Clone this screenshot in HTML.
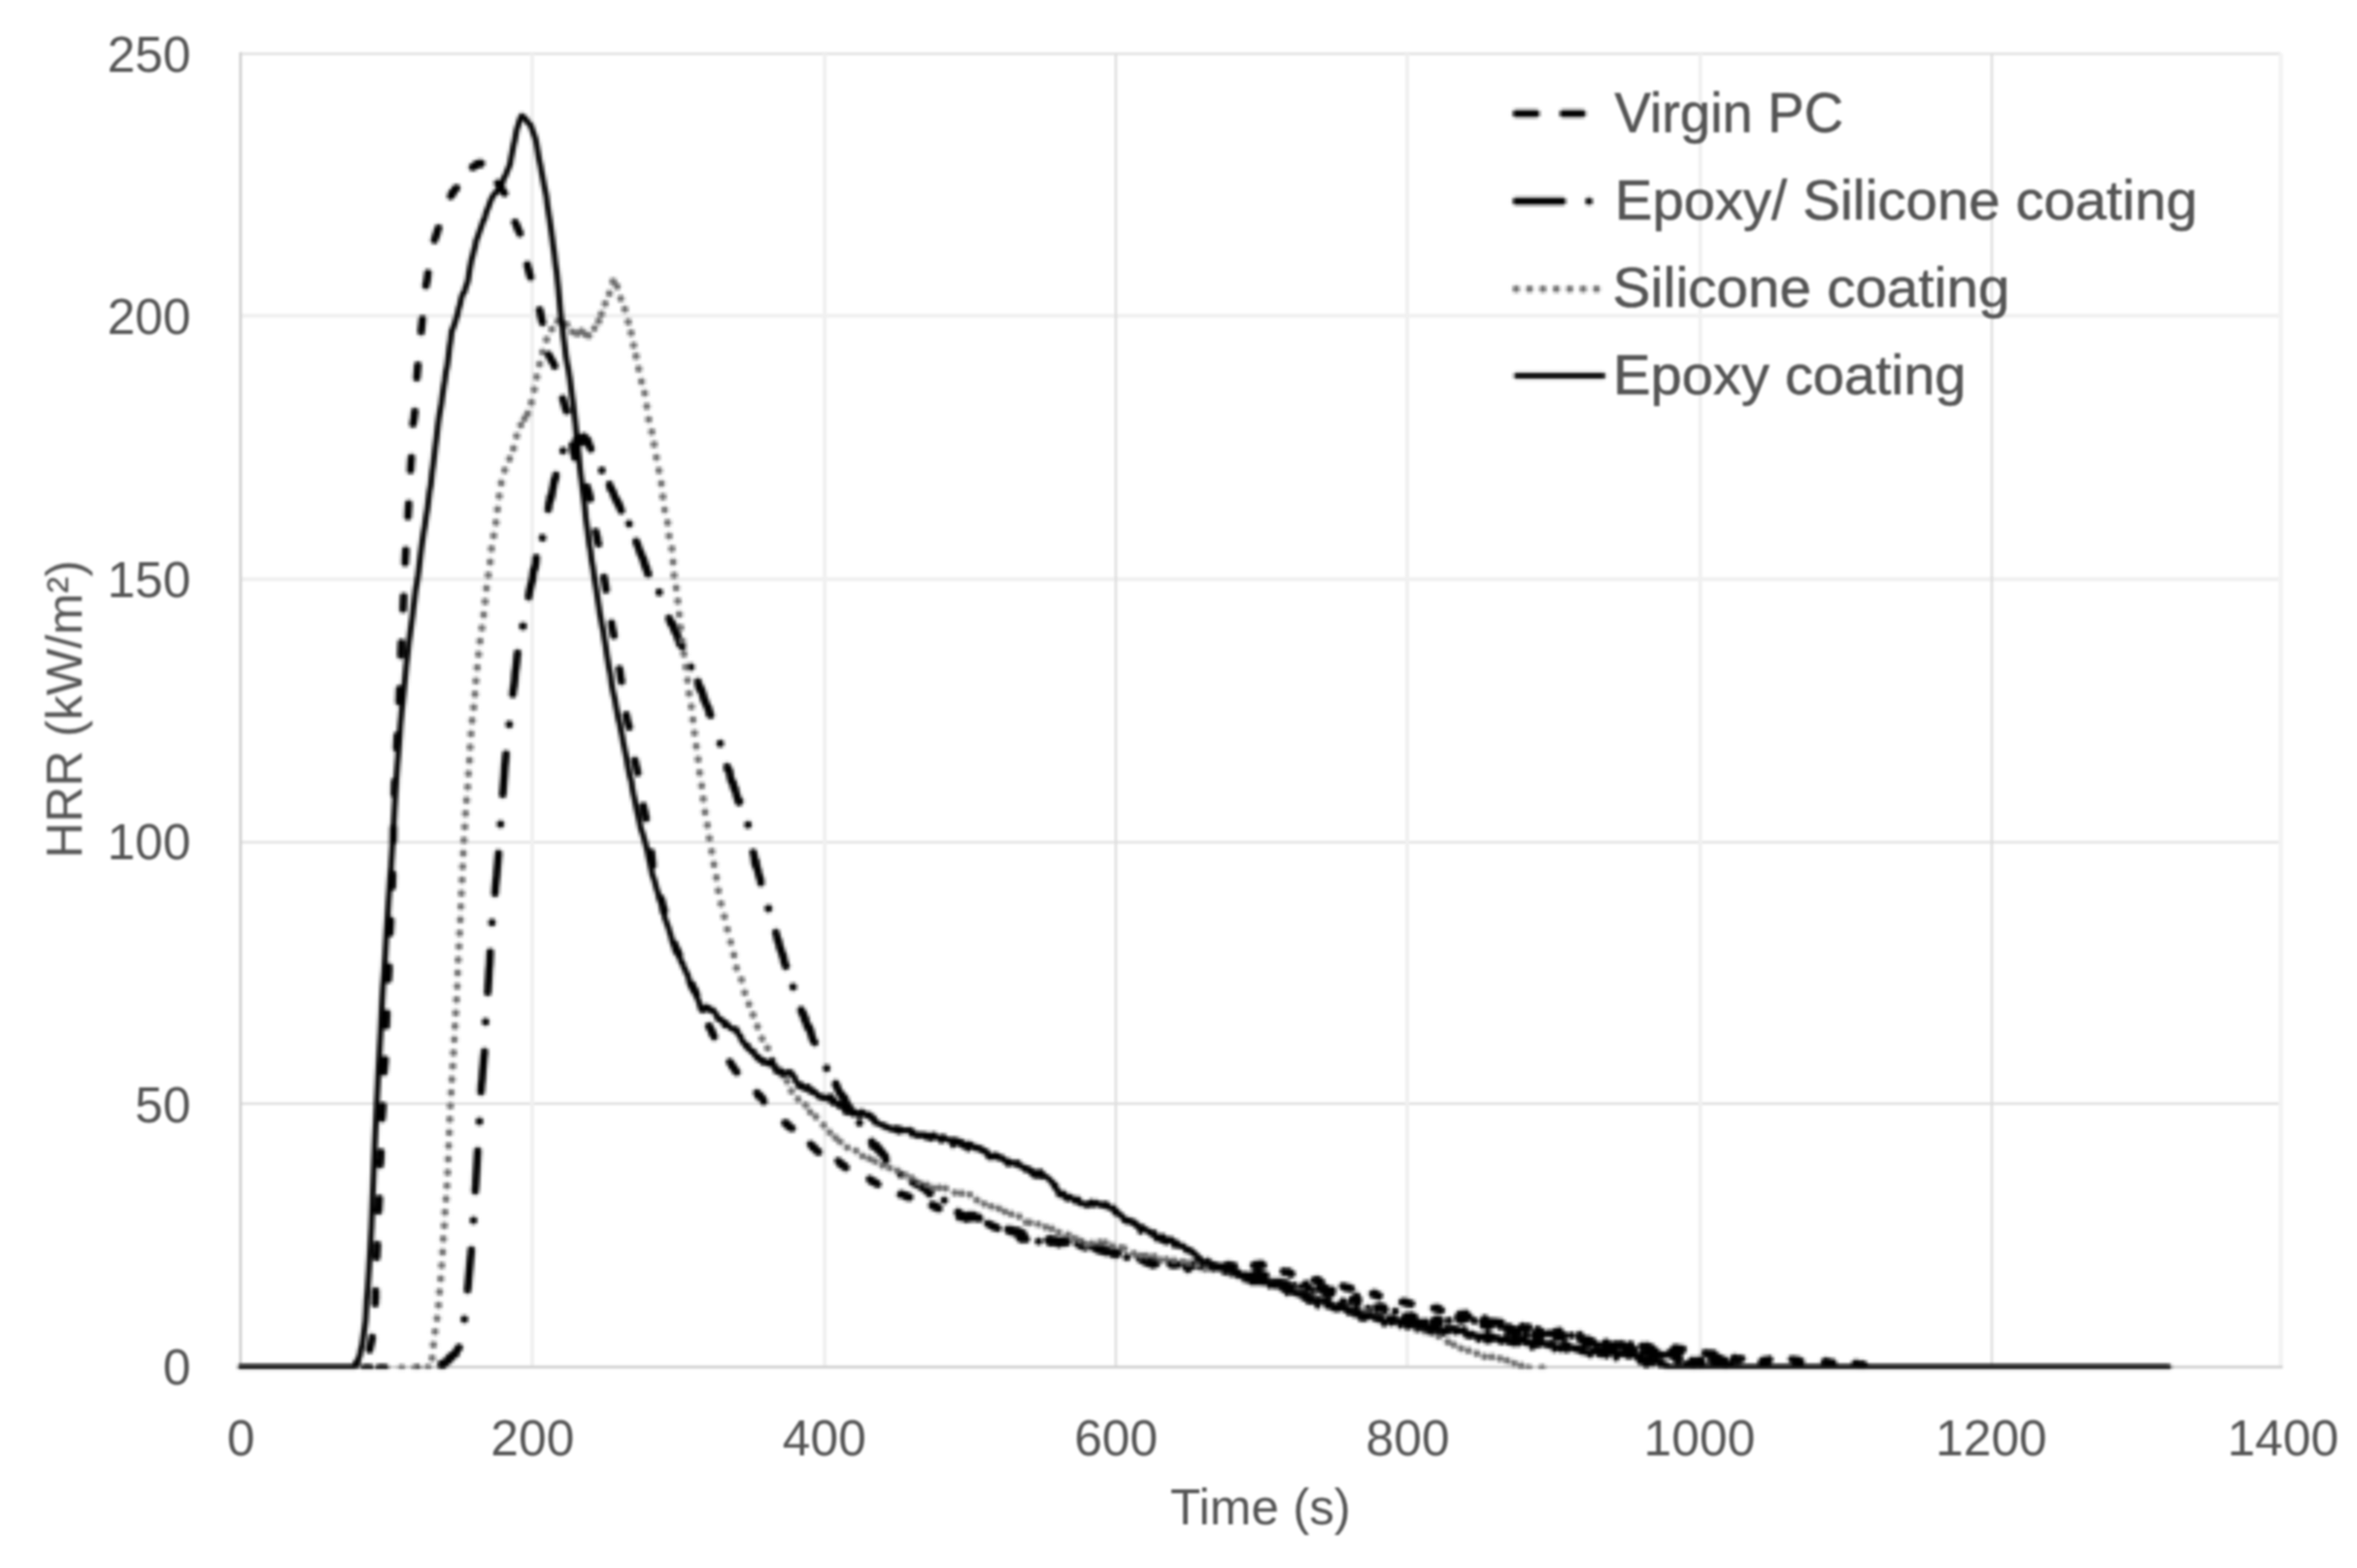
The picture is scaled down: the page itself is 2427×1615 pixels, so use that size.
<!DOCTYPE html>
<html lang="en">
<head>
<meta charset="utf-8">
<title>HRR vs Time</title>
<style>
html,body{margin:0;padding:0;background:#fff;}
body{width:2427px;height:1615px;overflow:hidden;}
svg{display:block;}
text{font-family:"Liberation Sans",sans-serif;fill:#555555;}
.tick{font-size:51.6px;}
.leg{font-size:58px;stroke:#555555;stroke-width:0.6px;}
.ttl{font-size:51.2px;}
.grid{stroke:#e9e9e9;stroke-width:3;fill:none;}
.axis{stroke:#d2d2d2;stroke-width:3;fill:none;}
.c{fill:none;stroke-linecap:round;stroke-linejoin:round;}
</style>
</head>
<body>
<svg width="2427" height="1615" viewBox="0 0 2427 1615">
<rect x="0" y="0" width="2427" height="1615" fill="#ffffff"/>
<g id="grid" filter="url(#blur)">
<g fill="none">
<line x1="247.7" y1="55.4" x2="2348.5" y2="55.4" stroke="#e6e6e6" stroke-width="3.2"/>
<line x1="247.7" y1="325.3" x2="2348.5" y2="325.3" stroke="#f0f0f0" stroke-width="4.0"/>
<line x1="247.7" y1="596.5" x2="2348.5" y2="596.5" stroke="#f0f0f0" stroke-width="4.0"/>
<line x1="247.7" y1="867.5" x2="2348.5" y2="867.5" stroke="#e6e6e6" stroke-width="3.2"/>
<line x1="247.7" y1="1136.7" x2="2348.5" y2="1136.7" stroke="#dedede" stroke-width="2.6"/>
<line x1="548.0" y1="55.2" x2="548.0" y2="1408.0" stroke="#f0f0f0" stroke-width="4.0"/>
<line x1="849.2" y1="55.2" x2="849.2" y2="1408.0" stroke="#f0f0f0" stroke-width="4.0"/>
<line x1="1149.0" y1="55.2" x2="1149.0" y2="1408.0" stroke="#dedede" stroke-width="2.6"/>
<line x1="1449.0" y1="55.2" x2="1449.0" y2="1408.0" stroke="#f0f0f0" stroke-width="4.0"/>
<line x1="1750.8" y1="55.2" x2="1750.8" y2="1408.0" stroke="#f0f0f0" stroke-width="4.0"/>
<line x1="2051.0" y1="55.2" x2="2051.0" y2="1408.0" stroke="#dedede" stroke-width="2.6"/>
<line x1="2348.5" y1="55.2" x2="2348.5" y2="1408.0" stroke="#f3f3f3" stroke-width="4.5"/>
</g>
<line class="axis" x1="247.7" y1="53.7" x2="247.7" y2="1409.5"/>
<line class="axis" x1="246.2" y1="1408.0" x2="2350.5" y2="1408.0"/>
</g>
<g id="txt" filter="url(#tblur)">
<g class="tick" text-anchor="end">
<text x="196.5" y="73.5">250</text>
<text x="196.5" y="344.1">200</text>
<text x="196.5" y="614.6">150</text>
<text x="196.5" y="885.2">100</text>
<text x="196.5" y="1155.7">50</text>
<text x="196.5" y="1426.3">0</text>
</g>
<g class="tick" text-anchor="middle">
<text x="248.0" y="1498.6">0</text>
<text x="548.4" y="1498.6">200</text>
<text x="848.8" y="1498.6">400</text>
<text x="1149.2" y="1498.6">600</text>
<text x="1449.6" y="1498.6">800</text>
<text x="1750.0" y="1498.6">1000</text>
<text x="2050.4" y="1498.6">1200</text>
<text x="2350.8" y="1498.6">1400</text>
</g>
<text class="ttl" text-anchor="middle" x="1298" y="1570.2">Time (s)</text>
<text class="ttl" text-anchor="middle" transform="translate(84.2 730.5) rotate(-90)">HRR (kW/m²)</text>
</g>
<g id="ink" filter="url(#soft)">
<g clip-path="url(#plot)">
<path class="c" stroke="#000" stroke-width="7.8" d="M375.5 1408.9H381M390.5 1408.9H396.5"/>
<path class="c" stroke="#000" stroke-width="7.8" stroke-dasharray="13.07 34.93" stroke-dashoffset="24.74" d="M371.6 1408.9L372.2 1408.9L372.8 1408.9L373.4 1408.9L374.0 1406.9L374.6 1407.3L375.2 1406.7L375.8 1404.6L376.4 1402.2L377.0 1402.1L377.6 1400.7L378.2 1399.6L378.8 1397.5L379.4 1394.6L380.0 1394.0L380.6 1389.6L381.2 1387.4L381.8 1384.9L382.4 1381.9L383.0 1379.7L383.6 1374.4L384.2 1370.0L384.8 1363.2L385.4 1355.7L386.0 1349.3L386.6 1336.2"/>
<path class="c" stroke="#000" stroke-width="7.8" stroke-dasharray="13.00 34.74" stroke-dashoffset="6.50" d="M386.6 1336.2L386.6 1336.0L387.2 1316.0L387.8 1295.5L388.4 1285.0L389.0 1270.4L389.6 1250.8L390.2 1240.9L390.8 1230.2L391.4 1201.5L392.0 1192.5L392.6 1178.9L393.2 1153.6L393.8 1145.5L394.4 1137.0L395.0 1108.3L395.6 1101.9L396.2 1096.2L396.8 1089.1L397.4 1066.5L398.0 1050.7L398.6 1037.0L399.2 1020.8L399.8 1008.8L400.4 999.3L401.0 978.5L401.6 959.5L402.2 949.8L402.8 938.5L403.4 926.3L404.0 911.1L404.6 889.3L405.2 850.5L405.8 826.7L406.4 807.1L407.0 795.9L407.6 785.2L408.2 773.3L408.8 762.4L409.4 751.5L410.0 740.2L410.6 728.5L411.2 716.5L411.8 700.0L412.4 685.1L413.0 668.3L413.6 655.9L414.2 644.7L414.8 633.2L415.4 620.9L416.0 608.1L416.6 593.1L417.2 579.0L417.8 567.7L418.4 557.8L419.0 548.8L419.6 539.3L420.2 529.7L420.8 519.2L421.4 508.5L422.0 495.7L422.6 485.7L423.2 476.5L423.8 469.2L424.4 454.5L425.0 439.6L425.6 434.2L426.2 432.4L426.8 426.6L427.4 422.4L428.0 418.8L428.6 398.8L429.2 388.8L429.8 381.8L430.4 374.3L431.0 369.1L431.6 361.8L432.2 356.1L432.8 350.0L433.4 344.3L434.0 337.8L434.6 332.1L435.2 326.4L435.8 319.5L436.4 313.8L437.0 307.4L437.6 301.0L438.2 296.4L438.8 292.7L439.4 290.5L440.0 287.0L440.6 281.6L441.2 279.4L441.8 275.4L442.4 272.9L443.0 269.4L443.6 266.5L444.2 262.8L444.8 259.7L445.4 255.8L446.0 251.2L446.6 249.4L447.2 247.7L447.8 245.9L448.4 243.7L449.0 243.3L449.4 241.3"/>
<path class="c" stroke="#000" stroke-width="7.8" stroke-dasharray="13.67 36.53" stroke-dashoffset="6.83" d="M449.4 241.3L449.6 240.4L450.2 239.3L450.8 236.4L451.4 235.6L452.0 232.1L452.6 231.2L453.2 228.3L453.8 227.6L454.4 226.6L455.0 223.0L455.6 221.7L456.2 220.6L456.8 218.7L457.4 216.2L458.0 216.0L458.6 213.6L459.2 212.6L459.8 210.3L460.4 207.8L461.0 206.4L461.6 206.0L462.2 203.4L462.8 203.1L463.4 202.9L464.0 202.2L464.6 201.3L465.2 199.1L465.8 200.3L466.4 198.1L466.5 198.0"/>
<path class="c" stroke="#000" stroke-width="7.8" stroke-dasharray="12.17 32.53" stroke-dashoffset="6.08" d="M466.5 198.0L467.0 197.4L467.6 196.6L468.2 195.6L468.8 194.3L469.4 193.9L470.0 194.0L470.6 191.6L471.2 190.2L471.8 191.1L472.4 190.2L473.0 189.5L473.6 189.3L474.2 187.0L474.8 186.7L475.4 186.1L476.0 185.6L476.6 184.7L477.2 182.8L477.8 181.6L478.4 181.4L479.0 179.8L479.6 180.5L480.2 178.7L480.8 177.9L481.4 176.7L482.0 177.3L482.6 175.7L483.2 174.4L483.8 174.3L484.4 173.5L485.0 173.5L485.6 173.5L486.2 172.2L486.8 172.3L487.4 171.9L488.0 171.9L488.6 171.2L489.2 170.5L489.8 169.8L490.4 170.0L490.9 169.0"/>
<path class="c" stroke="#000" stroke-width="7.8" stroke-dasharray="13.74 36.74" stroke-dashoffset="6.87" d="M490.9 169.0L491.0 168.8L491.6 169.5L492.2 168.9L492.8 169.1L493.4 168.4L494.0 168.1L494.6 167.9L495.2 169.0L495.8 168.0L496.4 167.9L497.0 166.9L497.6 167.8L498.2 165.7L498.8 168.9L499.4 168.6L500.0 169.4L500.6 169.3L501.2 170.1L501.8 171.7L502.4 171.9L503.0 172.9L503.6 174.0L504.2 174.3L504.8 173.9L505.4 175.6L506.0 176.7L506.6 178.0L507.2 178.5L507.8 179.7L508.4 181.6L509.0 182.9L509.6 184.7L510.2 185.3L510.8 187.2L511.4 186.2L512.0 187.3L512.6 189.2L513.2 189.7L513.8 190.2L514.4 192.1L515.0 193.1L515.6 194.1L516.0 194.0"/>
<path class="c" stroke="#000" stroke-width="7.8" stroke-dasharray="12.72 34.00" stroke-dashoffset="6.36" d="M516.0 194.0L516.2 194.0L516.8 195.1L517.4 196.1L518.0 196.9L518.6 198.3L519.2 198.3L519.8 199.6L520.4 199.0L521.0 201.6L521.6 202.9L522.2 203.2L522.8 205.7L523.4 206.1L524.0 208.9L524.6 210.1L525.2 213.2L525.8 215.3L526.4 216.1L527.0 218.4L527.6 220.5L528.2 224.2L528.8 224.8L529.4 226.7L530.0 228.3L530.6 229.6L531.2 230.7L531.8 231.5L532.4 233.3L532.8 234.9"/>
<path class="c" stroke="#000" stroke-width="7.8" stroke-dasharray="12.45 33.29" stroke-dashoffset="6.23" d="M532.8 234.9L533.0 236.0L533.6 236.6L534.2 237.6L534.8 238.5L535.4 240.6L536.0 242.0L536.6 243.8L537.2 247.4L537.8 249.3L538.4 252.2L539.0 255.6L539.6 257.9L540.2 261.2L540.8 263.1L541.4 265.8L542.0 269.0L542.6 271.3L543.2 274.2L543.8 276.2L544.4 278.3L544.5 278.8"/>
<path class="c" stroke="#000" stroke-width="7.8" stroke-dasharray="13.36 35.72" stroke-dashoffset="6.68" d="M544.5 278.8L545.0 281.0L545.6 283.5L546.2 284.9L546.8 287.8L547.4 289.9L548.0 292.8L548.6 293.9L549.2 296.9L549.8 297.6L550.4 300.3L551.0 303.1L551.6 304.4L552.2 307.2L552.8 307.5L553.4 310.7L554.0 312.9L554.6 315.1L555.2 316.8L555.8 320.6L556.4 321.4L557.0 325.9L557.6 328.1L558.2 331.0L558.8 332.9L559.4 336.1L560.0 343.6L560.6 350.8L561.2 358.5L561.8 359.4L562.4 360.9L563.0 362.1L563.6 363.7L564.2 362.9L564.8 364.9L565.4 366.7L566.0 367.8L566.6 368.2L567.2 369.5L567.8 370.8L568.4 372.0L569.0 372.8L569.6 373.8L570.2 374.7L570.8 376.2L571.4 378.4L572.0 378.2L572.6 380.9L573.2 384.4L573.8 386.3L574.4 390.4L575.0 391.8L575.6 395.7L576.2 397.6L576.8 399.8L577.4 403.5L578.0 407.3L578.6 407.7L579.2 410.3L579.8 411.3L580.4 413.3L581.0 416.0L581.6 417.6L582.2 420.0L582.8 422.3L583.4 422.8L584.0 425.0L584.6 428.5L585.2 433.7L585.8 436.0L586.4 439.7L587.0 444.1L587.6 448.9L588.2 451.2L588.8 455.1L589.4 458.5L590.0 462.2L590.4 465.0"/>
<path class="c" stroke="#000" stroke-width="7.8" stroke-dasharray="12.84 34.31" stroke-dashoffset="6.42" d="M590.4 465.0L590.6 466.2L591.2 467.4L591.8 470.4L592.4 474.7L593.0 476.6L593.6 476.3L594.2 478.6L594.8 480.8L595.4 481.2L596.0 483.1L596.6 484.2L597.2 485.8L597.8 486.9L598.4 488.1L599.0 489.9L599.6 490.2L600.2 491.8L600.8 493.7L601.4 494.0L602.0 495.3L602.6 496.4L603.2 497.6L603.8 500.5L604.4 500.9L605.0 503.1L605.6 504.8L606.2 506.8L606.8 509.0L607.4 511.7L608.0 514.0L608.6 516.9L609.2 519.7L609.8 524.5L610.4 528.9L611.0 532.7L611.6 536.9L612.2 541.5L612.8 545.0L613.4 547.5L614.0 550.4L614.6 552.9L614.8 553.9"/>
<path class="c" stroke="#000" stroke-width="7.8" stroke-dasharray="13.04 34.85" stroke-dashoffset="6.52" d="M614.8 553.9L615.2 556.4L615.8 558.8L616.4 560.8L617.0 564.4L617.6 568.6L618.2 572.1L618.8 575.2L619.4 579.8L620.0 583.4L620.6 587.1L621.2 591.4L621.8 593.7L622.4 597.7L623.0 600.6L623.6 604.7L624.2 608.2L624.8 611.2L625.4 615.3L626.0 618.6L626.6 623.6L627.2 626.7L627.8 632.9L628.4 636.5L629.0 638.6L629.6 641.0L630.2 646.3L630.8 648.0L631.4 651.8L632.0 653.8L632.6 657.5L633.2 660.4L633.8 664.9L634.4 668.1L635.0 672.9L635.6 675.3L636.2 680.2L636.8 683.2L637.4 687.2L638.0 689.7L638.6 693.2L639.2 698.5L639.8 700.8L640.4 704.9L641.0 709.6L641.6 714.1L642.2 719.6L642.8 723.5L643.4 728.5L644.0 733.6L644.6 735.1L645.2 738.6L645.8 741.1L646.4 744.1L647.0 746.0L647.6 747.3L648.2 750.5L648.8 753.3L649.4 758.0L650.0 761.1L650.6 764.4L651.2 768.6L651.8 771.9L652.4 776.1L653.0 779.6L653.6 782.8L654.2 785.0L654.8 788.0L655.4 790.1L656.0 793.2L656.6 795.4L657.2 798.5L657.8 801.7L658.4 805.7L659.0 809.8L659.6 814.0L660.2 818.7L660.8 821.3L661.4 827.1L662.0 827.6L662.6 831.4L663.2 833.8L663.7 836.4"/>
<path class="c" stroke="#000" stroke-width="7.8" stroke-dasharray="13.31 35.59" stroke-dashoffset="6.66" d="M663.7 836.4L663.8 837.0L664.4 839.3L665.0 841.6L665.6 844.3L666.2 847.3L666.8 852.0L667.4 854.9L668.0 857.5L668.6 862.4L669.2 866.9L669.8 872.6L670.4 875.1L671.0 880.8L671.6 886.7L672.2 892.0L672.8 896.4L673.4 900.9L674.0 901.7L674.6 904.5L675.2 907.6L675.8 908.2L676.4 910.9L677.0 914.2L677.6 915.2L678.2 916.9L678.8 919.3L679.4 922.3L680.0 923.0L680.6 925.6L681.2 927.1L681.8 929.3L682.4 932.7L683.0 933.9L683.6 935.7L684.2 938.2L684.8 939.6L685.4 941.3L686.0 944.7L686.6 946.5L687.2 947.5L687.8 950.4L688.4 952.9L689.0 954.3L689.6 956.3L690.2 957.3L690.8 960.0L691.4 961.0L692.0 964.7L692.6 966.0L693.2 968.8L693.8 969.6L694.4 972.6L695.0 973.2L695.6 975.2L696.2 977.0L696.8 978.1L697.4 979.1L698.0 979.4L698.6 982.4L699.2 983.2L699.8 984.8L700.4 986.0L701.0 986.4L701.6 988.0L702.2 990.6L702.8 989.8L703.4 991.7L704.0 992.7L704.6 995.6L705.2 996.3L705.8 997.2L706.4 999.0L707.0 1000.2L707.6 1001.3L708.2 1002.6L708.8 1005.4L709.4 1006.7L710.0 1009.1L710.6 1010.1L711.2 1012.2L711.8 1014.4L712.4 1013.8L713.0 1015.0L713.6 1017.5L714.2 1019.5L714.8 1018.8L715.4 1019.5L716.0 1021.5L716.6 1022.7L717.2 1024.5L717.8 1024.7L718.4 1026.3L719.0 1027.9L719.6 1028.9L720.2 1030.6L720.8 1033.5L721.4 1035.3L722.0 1036.3L722.6 1039.4L723.2 1040.7L723.8 1042.2L724.4 1044.0L725.0 1045.6L725.6 1047.6L726.2 1049.4L726.8 1050.6L727.4 1051.1L728.0 1053.3L728.6 1054.0L729.2 1054.9L729.8 1057.1L730.4 1056.8L731.0 1059.4L731.6 1059.7L732.2 1060.4L732.8 1061.8L732.8 1062.0"/>
<path class="c" stroke="#000" stroke-width="7.8" stroke-dasharray="13.45 35.94" stroke-dashoffset="6.72" d="M732.8 1062.0L733.4 1064.8L734.0 1065.4L734.6 1065.5L735.2 1067.4L735.8 1069.0L736.4 1068.5L737.0 1070.0L737.6 1071.8L738.2 1072.4L738.8 1073.0L739.4 1075.1L740.0 1075.5L740.6 1076.6L741.2 1078.5L741.8 1078.4L742.4 1080.7L743.0 1080.3L743.6 1081.0L744.2 1082.2L744.8 1083.6L745.4 1084.4L746.0 1085.3L746.6 1085.2L747.2 1086.4L747.8 1087.9L748.4 1089.4L749.0 1090.9L749.6 1089.6L750.2 1091.9L750.8 1092.6L751.4 1093.8L752.0 1094.9L752.6 1095.2L753.2 1095.8L753.8 1098.1L754.4 1098.9L755.0 1099.1L755.0 1099.1"/>
<path class="c" stroke="#000" stroke-width="7.8" stroke-dasharray="13.64 36.46" stroke-dashoffset="6.82" d="M755.0 1099.1L755.6 1100.2L756.2 1100.8L756.8 1101.3L757.4 1103.4L758.0 1103.5L758.6 1104.1L759.2 1105.3L759.8 1107.6L760.4 1107.7L761.0 1108.2L761.6 1108.7L762.2 1109.7L762.8 1110.2L763.4 1109.6L764.0 1110.8L764.6 1111.2L765.2 1112.3L765.8 1112.7L766.4 1112.1L767.0 1114.5L767.6 1114.6L768.2 1114.0L768.8 1116.2L769.4 1116.2L770.0 1117.0L770.6 1117.3L771.2 1117.9L771.8 1118.0L772.4 1117.9L773.0 1119.1L773.6 1120.1L774.2 1120.6L774.8 1121.5L775.4 1121.7L776.0 1121.0L776.6 1123.3L777.2 1123.0L777.8 1123.3L778.4 1124.6L779.0 1124.7L779.6 1126.4L780.2 1126.3L780.8 1128.7L781.4 1128.1L782.0 1128.6L782.6 1129.2L783.0 1129.1"/>
<path class="c" stroke="#000" stroke-width="7.8" stroke-dasharray="14.82 39.60" stroke-dashoffset="7.41" d="M783.0 1129.1L783.2 1129.0L783.8 1130.5L784.4 1131.2L785.0 1132.2L785.6 1131.8L786.2 1133.8L786.8 1135.2L787.4 1134.9L788.0 1135.8L788.6 1136.8L789.2 1136.7L789.8 1137.6L790.4 1139.1L791.0 1139.3L791.6 1139.1L792.2 1139.5L792.8 1142.6L793.4 1142.1L794.0 1141.6L794.6 1143.3L795.2 1144.3L795.8 1144.6L796.4 1144.1L797.0 1146.9L797.6 1146.8L798.2 1147.0L798.8 1148.2L799.4 1148.3L800.0 1148.9L800.6 1150.2L801.2 1149.1L801.8 1151.5L802.4 1151.8L803.0 1152.6L803.6 1153.3L804.2 1154.2L804.8 1154.6L805.4 1154.8L806.0 1154.5L806.6 1155.6L807.2 1155.4L807.8 1155.6L808.4 1156.9L809.0 1157.3L809.6 1158.3L810.2 1156.8L810.8 1158.9L811.4 1159.4L812.0 1159.6L812.0 1159.6"/>
<path class="c" stroke="#000" stroke-width="7.8" stroke-dasharray="12.15 32.47" stroke-dashoffset="6.07" d="M812.0 1159.6L812.6 1160.9L813.2 1160.0L813.8 1161.2L814.4 1161.3L815.0 1162.0L815.6 1162.0L816.2 1163.0L816.8 1164.0L817.4 1164.1L818.0 1164.8L818.6 1164.6L819.2 1166.5L819.8 1165.7L820.4 1166.6L821.0 1167.4L821.6 1167.5L822.2 1168.5L822.8 1168.7L823.4 1170.1L824.0 1169.9L824.6 1170.4L825.2 1170.2L825.8 1171.4L826.4 1172.3L827.0 1172.5L827.6 1172.2L828.2 1173.0L828.8 1173.7L829.4 1174.3L830.0 1174.0L830.6 1176.5L831.2 1175.8L831.8 1176.5L832.4 1176.7L833.0 1177.4L833.6 1179.1L834.2 1177.9L834.8 1178.8L835.4 1179.1L836.0 1180.0L836.6 1181.8L837.2 1181.1L837.8 1181.8L838.0 1181.7"/>
<path class="c" stroke="#000" stroke-width="7.8" stroke-dasharray="15.18 40.58" stroke-dashoffset="7.59" d="M838.0 1181.7L838.4 1181.6L839.0 1183.0L839.6 1183.9L840.2 1184.1L840.8 1184.7L841.4 1186.0L842.0 1186.4L842.6 1186.6L843.2 1186.5L843.8 1186.3L844.4 1188.4L845.0 1186.8L845.6 1188.3L846.2 1188.0L846.8 1188.0L847.4 1189.2L848.0 1188.5L848.6 1189.9L849.2 1188.8L849.8 1190.0L850.4 1190.7L851.0 1189.6L851.6 1191.7L852.2 1191.2L852.8 1189.7L853.4 1192.0L854.0 1192.6L854.6 1191.6L855.2 1191.9L855.8 1192.5L856.4 1191.5L857.0 1192.9L857.6 1193.7L858.2 1193.1L858.8 1194.3L859.4 1195.2L860.0 1193.1L860.6 1193.5L861.2 1194.4L861.8 1195.7L862.4 1196.0L863.0 1195.7L863.6 1196.1L864.2 1196.8L864.8 1198.6L865.4 1197.5L866.0 1198.2L866.6 1199.6L867.0 1199.4"/>
<path class="c" stroke="#000" stroke-width="7.8" stroke-dasharray="13.44 35.93" stroke-dashoffset="6.72" d="M867.0 1199.4L867.2 1199.3L867.8 1199.3L868.4 1201.2L869.0 1201.0L869.6 1200.8L870.2 1201.5L870.8 1202.7L871.4 1202.4L872.0 1203.2L872.6 1203.9L873.2 1204.2L873.8 1202.8L874.4 1203.9L875.0 1204.2L875.6 1204.8L876.2 1205.5L876.8 1206.0L877.4 1205.3L878.0 1205.3L878.6 1206.3L879.2 1206.2L879.8 1207.9L880.4 1207.4L881.0 1207.6L881.6 1208.4L882.2 1207.8L882.8 1208.3L883.4 1208.8L884.0 1209.6L884.6 1210.3L885.2 1210.3L885.8 1210.6L886.4 1210.4L887.0 1211.0L887.6 1211.0L888.2 1212.1L888.8 1211.4L889.4 1212.0L890.0 1212.5L890.6 1213.1L891.2 1212.5L891.8 1213.1L892.4 1213.0L893.0 1213.0L893.6 1214.7L894.2 1214.6L894.8 1213.8L895.4 1214.4L896.0 1215.6L896.6 1215.2L897.2 1215.3L897.8 1216.9L898.4 1216.2L899.0 1216.6L899.4 1217.2"/>
<path class="c" stroke="#000" stroke-width="7.8" stroke-dasharray="13.37 35.74" stroke-dashoffset="6.69" d="M899.4 1217.2L899.6 1217.5L900.2 1217.1L900.8 1217.8L901.4 1218.3L902.0 1218.9L902.6 1218.4L903.2 1219.8L903.8 1219.7L904.4 1220.9L905.0 1220.3L905.6 1220.1L906.2 1220.4L906.8 1220.2L907.4 1221.1L908.0 1221.3L908.6 1222.1L909.2 1221.9L909.8 1221.6L910.4 1222.9L911.0 1222.3L911.6 1222.9L912.2 1223.8L912.8 1224.0L913.4 1223.0L914.0 1223.6L914.6 1224.7L915.2 1224.7L915.8 1224.7L916.4 1225.1L917.0 1223.6L917.6 1225.0L918.2 1224.6L918.8 1225.3L919.4 1225.7L920.0 1226.5L920.6 1227.1L921.2 1227.2L921.8 1227.2L922.4 1227.1L923.0 1228.3L923.6 1228.0L924.2 1227.1L924.8 1228.4L925.4 1229.0L926.0 1228.5L926.6 1229.5L927.2 1230.5L927.8 1229.7L928.4 1230.1L929.0 1230.4L929.6 1230.1L930.2 1230.6L930.8 1230.6L931.4 1231.2L932.0 1231.1L932.6 1232.4L933.2 1232.0L933.8 1232.7L934.4 1231.7L935.0 1232.6L935.6 1233.1L936.2 1233.4L936.8 1232.8L937.4 1233.3L938.0 1233.6L938.6 1233.5L939.2 1233.6L939.8 1234.3L940.4 1233.5L941.0 1233.3L941.6 1234.2L942.2 1234.8L942.8 1233.5L943.4 1235.8L944.0 1235.3L944.6 1235.8L945.2 1235.1L945.8 1235.8L946.4 1237.1L947.0 1237.4L947.6 1236.9L948.2 1236.6L948.8 1237.0L949.4 1238.1L950.0 1237.1L950.6 1237.3L951.2 1238.0L951.8 1238.9L952.4 1238.0L953.0 1239.1L953.6 1239.4L954.2 1239.6L954.8 1239.7L955.4 1240.6L956.0 1240.7L956.6 1239.8L957.2 1241.8L957.8 1241.4L958.4 1241.6L959.0 1241.5L959.6 1241.8L960.2 1240.7L960.8 1242.2L961.4 1242.9L962.0 1243.2L962.6 1242.6L963.2 1241.8L963.8 1242.7L964.4 1243.4L965.0 1244.5L965.6 1243.0L966.2 1244.2L966.8 1244.8L967.4 1245.0L968.0 1244.8L968.6 1243.5L969.2 1245.7L969.8 1245.6L970.4 1246.1L971.0 1245.5L971.6 1246.0L972.2 1247.5L972.8 1246.8L973.4 1247.1L974.0 1247.0L974.6 1248.4L975.2 1246.9L975.8 1247.8L976.4 1248.7L977.0 1248.6L977.6 1249.4L978.2 1249.4L978.8 1250.2L979.4 1249.5L980.0 1249.8L980.6 1250.2L981.2 1249.2L981.8 1251.3L982.4 1250.2L983.0 1251.6L983.6 1252.0L984.2 1251.9L984.8 1251.7L985.4 1251.4L986.0 1250.7L986.6 1252.5L987.2 1252.2L987.8 1253.6L988.4 1252.6L989.0 1253.3L989.6 1252.9L990.2 1253.6L990.8 1253.3L991.4 1253.6L992.0 1252.8L992.6 1253.6L993.2 1254.1L993.8 1255.1L994.4 1254.7L995.0 1254.0L995.6 1255.8L996.2 1255.2L996.8 1255.8L997.4 1254.7L998.0 1253.5L998.6 1255.1L999.2 1255.1L999.8 1256.0L1000.4 1255.1L1001.0 1255.6L1001.6 1255.5L1002.2 1256.5L1002.8 1256.1L1003.4 1257.6L1004.0 1257.4L1004.6 1257.7L1005.2 1257.2L1005.8 1257.7L1006.4 1258.3L1007.0 1257.5L1007.6 1258.9L1008.2 1258.3L1008.8 1259.3L1009.4 1260.1L1010.0 1259.9L1010.6 1258.6L1011.2 1260.1L1011.8 1259.4L1012.4 1259.5L1013.0 1259.8L1013.6 1259.4L1014.2 1260.4L1014.8 1259.9L1015.4 1261.2L1016.0 1260.9L1016.6 1259.4L1017.2 1260.6L1017.8 1260.7L1018.4 1261.1L1019.0 1261.3L1019.6 1262.0L1020.2 1262.0L1020.8 1261.6L1021.4 1262.7L1022.0 1263.2L1022.6 1262.8L1023.2 1263.7L1023.8 1263.5L1024.4 1263.1L1025.0 1263.5L1025.6 1263.9L1026.2 1264.5L1026.8 1264.5L1027.4 1265.3L1028.0 1265.6L1028.6 1264.7L1029.2 1264.8L1029.8 1265.8L1030.4 1266.4L1031.0 1266.9L1031.6 1267.1L1032.2 1267.4L1032.8 1266.8L1033.4 1267.8L1034.0 1267.5L1034.6 1268.5L1035.2 1269.0L1035.8 1268.4L1036.4 1268.9L1037.0 1270.8L1037.6 1269.2L1038.2 1269.6L1038.8 1269.5L1039.4 1269.6L1040.0 1271.3L1040.6 1270.6L1041.2 1270.8L1041.8 1271.0L1042.4 1270.1L1043.0 1272.4L1043.6 1271.9L1044.2 1272.4L1044.8 1273.5L1045.4 1272.9L1046.0 1273.3L1046.6 1273.6L1047.2 1274.5L1047.8 1273.2L1048.4 1273.9L1049.0 1273.3L1049.6 1274.8L1050.2 1275.4L1050.8 1274.8L1051.4 1276.3L1052.0 1275.8L1052.6 1276.4L1053.2 1275.4L1053.8 1276.4L1054.4 1275.1L1055.0 1275.7L1055.6 1275.6L1056.2 1275.3L1056.8 1276.6L1057.4 1276.4L1058.0 1275.3L1058.6 1276.1L1059.2 1275.8L1059.8 1275.8L1060.4 1276.1L1061.0 1275.4L1061.6 1275.8L1062.2 1275.9L1062.8 1275.3L1063.4 1275.4L1064.0 1276.2L1064.6 1275.7L1065.2 1277.0L1065.8 1276.9L1066.4 1275.2L1067.0 1275.8L1067.6 1274.4L1068.2 1275.2L1068.8 1275.0L1069.4 1275.1L1070.0 1274.3L1070.6 1275.8L1071.2 1275.7L1071.8 1275.2L1072.4 1275.7L1073.0 1276.4L1073.6 1276.8L1074.2 1275.2L1074.8 1277.0L1075.4 1275.1L1076.0 1275.7L1076.6 1276.1L1077.2 1277.3L1077.8 1276.9L1078.4 1277.0L1079.0 1277.6L1079.6 1276.9L1080.2 1276.6L1080.8 1277.9L1081.4 1276.9L1082.0 1276.4L1082.6 1276.2L1083.2 1277.4L1083.8 1278.5L1084.4 1277.8L1085.0 1277.5L1085.6 1278.2L1086.2 1276.7L1086.8 1277.8L1087.4 1277.3L1088.0 1278.4L1088.6 1277.1L1089.2 1278.1L1089.8 1277.8L1090.4 1277.7L1091.0 1278.2L1091.6 1277.8L1092.2 1278.9L1092.8 1278.0L1093.4 1276.9L1094.0 1279.1L1094.6 1279.2L1095.2 1278.8L1095.8 1279.4L1096.4 1279.1L1097.0 1278.3L1097.6 1277.7L1098.2 1278.4L1098.8 1278.9L1099.4 1279.5L1100.0 1278.5L1100.6 1278.9L1101.2 1280.4L1101.8 1279.2L1102.4 1279.3L1103.0 1279.2L1103.6 1280.9L1104.2 1280.5L1104.8 1280.7L1105.4 1281.2L1106.0 1280.9L1106.6 1281.3L1107.2 1280.9L1107.8 1281.3L1108.4 1281.3L1109.0 1281.5L1109.6 1280.6L1110.2 1281.4L1110.8 1281.5L1111.4 1281.5L1112.0 1282.0L1112.6 1283.3L1113.2 1283.0L1113.8 1282.7L1114.4 1283.1L1115.0 1283.9L1115.6 1282.6L1116.2 1283.7L1116.8 1284.7L1117.4 1285.0L1118.0 1284.6L1118.6 1284.6L1119.2 1283.4L1119.8 1284.2L1120.4 1284.8L1121.0 1285.2L1121.6 1285.4L1122.2 1284.0L1122.8 1285.2L1123.4 1285.8L1124.0 1285.3L1124.6 1285.8L1125.2 1286.3L1125.8 1286.3L1126.4 1286.4L1127.0 1286.8L1127.6 1287.2L1128.2 1286.5L1128.8 1286.1L1129.4 1286.4L1130.0 1286.6L1130.6 1287.0L1131.2 1286.2L1131.8 1286.7L1132.4 1287.0L1133.0 1288.0L1133.6 1287.5L1134.2 1287.2L1134.8 1287.8L1135.4 1287.4L1136.0 1287.5L1136.6 1288.0L1137.2 1287.6L1137.8 1287.5L1138.4 1287.9L1139.0 1287.2L1139.6 1287.6L1140.2 1286.5L1140.8 1287.6L1141.4 1288.8L1142.0 1287.8L1142.6 1288.2L1143.2 1288.1L1143.8 1287.9L1144.4 1289.0L1145.0 1288.9L1145.6 1289.7L1146.2 1288.8L1146.8 1289.5L1147.4 1289.5L1148.0 1289.6L1148.6 1290.8L1149.2 1289.9L1149.8 1290.1L1150.4 1292.2L1151.0 1290.9L1151.6 1291.0L1152.2 1291.5L1152.8 1290.8L1153.4 1291.8L1154.0 1291.0L1154.6 1291.6L1155.2 1291.7L1155.8 1292.9L1156.4 1292.6L1157.0 1293.5L1157.6 1293.5L1158.2 1292.3L1158.8 1293.2L1159.4 1292.8L1160.0 1292.8L1160.6 1294.1L1161.2 1294.4L1161.8 1293.8L1162.4 1294.1L1163.0 1294.3L1163.6 1294.5L1164.2 1294.8L1164.8 1294.2L1165.4 1295.4L1166.0 1294.8L1166.6 1294.8L1167.2 1295.6L1167.8 1296.1L1168.4 1296.6L1169.0 1296.6L1169.6 1296.7L1170.2 1296.4L1170.8 1297.2L1171.4 1297.3L1172.0 1297.5L1172.6 1297.1L1173.2 1298.7L1173.8 1298.3L1174.4 1298.4L1175.0 1298.3L1175.6 1298.2L1176.2 1299.1L1176.8 1297.9L1177.4 1298.6L1178.0 1298.8L1178.6 1299.5L1179.2 1299.1L1179.8 1300.3L1180.4 1298.6L1181.0 1300.7L1181.6 1300.1L1182.2 1300.7L1182.8 1299.9L1183.4 1300.9L1184.0 1300.2L1184.6 1300.6L1185.2 1299.6L1185.8 1300.9L1186.4 1300.7L1187.0 1299.6L1187.6 1300.7L1188.2 1300.6L1188.8 1301.3L1189.4 1300.5L1190.0 1301.1L1190.6 1301.8L1191.2 1300.6L1191.8 1302.3L1192.4 1301.3L1193.0 1301.1L1193.6 1300.5L1194.2 1300.3L1194.8 1301.9L1195.4 1301.1L1196.0 1301.0L1196.6 1302.1L1197.2 1301.8L1197.8 1301.5L1198.4 1300.6L1199.0 1300.4L1199.6 1302.1L1200.2 1301.5L1200.8 1301.4L1201.4 1302.7L1202.0 1301.4L1202.6 1301.9L1203.2 1303.0L1203.8 1302.1L1204.4 1301.5L1205.0 1301.4L1205.6 1302.7L1206.2 1301.3L1206.8 1302.6L1207.4 1303.1L1208.0 1302.1L1208.6 1302.7L1209.2 1302.4L1209.8 1303.2L1210.4 1302.6L1211.0 1302.1L1211.6 1302.8L1212.2 1302.8L1212.8 1302.4L1213.4 1302.7L1214.0 1302.2L1214.6 1302.5L1215.2 1303.4L1215.8 1302.0L1216.4 1303.3L1217.0 1303.1L1217.6 1302.8L1218.2 1304.0L1218.8 1303.6L1219.4 1302.9L1220.0 1303.4L1220.6 1303.8L1221.2 1302.4L1221.8 1303.5L1222.4 1303.2L1223.0 1303.6L1223.6 1304.6L1224.2 1303.0L1224.8 1303.2L1225.4 1302.7L1226.0 1303.6L1226.6 1303.8L1227.2 1302.0L1227.8 1304.3L1228.4 1304.4L1229.0 1301.9L1229.6 1302.6L1230.2 1303.8L1230.8 1303.6L1231.4 1304.2L1232.0 1303.4L1232.6 1304.3L1233.2 1302.8L1233.8 1303.9L1234.4 1303.4L1235.0 1303.4L1235.6 1302.7L1236.2 1303.5L1236.8 1304.6L1237.4 1303.5L1238.0 1303.7L1238.6 1304.0L1239.2 1303.4L1239.8 1304.2L1240.4 1304.4L1241.0 1304.0L1241.6 1303.2L1242.2 1305.2L1242.8 1304.4L1243.4 1304.4L1244.0 1304.4L1244.6 1304.2L1245.2 1303.7L1245.8 1304.7L1246.4 1304.9L1247.0 1305.4L1247.6 1305.8L1248.2 1304.5L1248.8 1305.9L1249.4 1305.0L1250.0 1305.3L1250.6 1304.3L1251.2 1305.1L1251.8 1304.3L1252.4 1305.2L1253.0 1304.0L1253.6 1304.7L1254.2 1304.3L1254.8 1304.7L1255.4 1304.5L1256.0 1304.4L1256.6 1303.9L1257.2 1304.6L1257.8 1304.4L1258.4 1303.5L1259.0 1304.4L1259.6 1303.5L1260.2 1303.9L1260.8 1303.7L1261.4 1303.7L1262.0 1304.2L1262.6 1302.6L1263.2 1304.4L1263.8 1302.6L1264.4 1304.4L1265.0 1304.0L1265.6 1302.8L1266.2 1303.9L1266.8 1303.5L1267.4 1303.0L1268.0 1304.4L1268.6 1304.4L1269.2 1304.0L1269.8 1304.7L1270.4 1303.8L1271.0 1303.6L1271.6 1304.5L1272.2 1303.3L1272.8 1304.1L1273.4 1304.3L1274.0 1303.7L1274.6 1303.6L1275.2 1303.8L1275.8 1303.6L1276.4 1303.1L1277.0 1301.3L1277.6 1303.1L1278.2 1302.5L1278.8 1303.9L1279.4 1303.0L1280.0 1303.4L1280.6 1303.7L1281.2 1303.9L1281.8 1302.8L1282.4 1304.6L1283.0 1303.9L1283.6 1303.7L1284.2 1302.8L1284.8 1304.5L1285.4 1303.7L1286.0 1304.0L1286.6 1303.1L1287.2 1304.4L1287.8 1304.1L1288.4 1303.1L1289.0 1304.3L1289.6 1302.4L1290.2 1303.5L1290.8 1303.3L1291.4 1303.2L1292.0 1302.3L1292.6 1302.4L1293.2 1303.1L1293.8 1303.1L1294.4 1302.4L1295.0 1302.2L1295.6 1302.2L1296.0 1302.9"/>
<path class="c" stroke="#000" stroke-width="7.8" stroke-dasharray="13.49 36.06" stroke-dashoffset="6.74" d="M1296.0 1302.9L1296.2 1303.3L1296.8 1302.6L1297.4 1302.5L1298.0 1301.8L1298.6 1302.0L1299.2 1302.5L1299.8 1302.1L1300.4 1303.2L1301.0 1303.4L1301.6 1303.1L1302.2 1303.6L1302.8 1304.0L1303.4 1303.1L1304.0 1304.8L1304.6 1302.9L1305.2 1305.8L1305.8 1304.0L1306.4 1305.1L1307.0 1305.0L1307.6 1305.6L1308.2 1305.1L1308.8 1306.1L1309.4 1305.0L1310.0 1306.6L1310.6 1306.2L1311.2 1306.8L1311.8 1307.3L1312.4 1306.2L1313.0 1306.8L1313.6 1306.9L1314.2 1307.4L1314.8 1307.8L1315.4 1308.3L1316.0 1308.2L1316.6 1308.1L1317.2 1308.7L1317.8 1309.2L1318.4 1309.3L1319.0 1310.2L1319.6 1308.7L1320.2 1309.4L1320.8 1308.6L1321.4 1309.1L1322.0 1310.1L1322.6 1310.6L1323.2 1309.7L1323.8 1310.4L1324.4 1310.3L1325.0 1310.7L1325.6 1310.7L1326.2 1310.4L1326.8 1309.5L1327.4 1310.1L1328.0 1311.3L1328.6 1311.2L1329.2 1312.6L1329.8 1311.6L1330.4 1312.3L1331.0 1311.2L1331.6 1311.3L1332.2 1312.4L1332.8 1313.4L1333.4 1312.8L1334.0 1312.6L1334.6 1313.2L1335.2 1313.5L1335.8 1313.6L1336.4 1313.5L1337.0 1313.1L1337.6 1313.2L1338.2 1313.8L1338.8 1314.2L1339.4 1313.7L1340.0 1315.6L1340.6 1315.3L1341.2 1314.8L1341.8 1315.8L1342.4 1316.9L1343.0 1315.9L1343.6 1316.0L1344.2 1316.7L1344.8 1315.5L1345.4 1316.1L1346.0 1316.2L1346.6 1317.3L1347.2 1316.0L1347.8 1317.3L1348.4 1317.0L1349.0 1317.3L1349.6 1317.3L1350.2 1318.6L1350.8 1317.4L1351.4 1317.3L1352.0 1318.3L1352.6 1317.9L1353.2 1318.7L1353.8 1318.5L1354.4 1318.7L1355.0 1318.8L1355.6 1317.9L1356.2 1317.8L1356.8 1320.3L1357.4 1318.6L1358.0 1319.7L1358.6 1318.8L1359.2 1319.5L1359.8 1319.6L1360.4 1320.7L1361.0 1319.8L1361.6 1319.2L1362.2 1319.4L1362.8 1320.5L1363.4 1320.9L1364.0 1321.7L1364.6 1321.9L1365.2 1319.9L1365.8 1320.8L1366.4 1320.3L1367.0 1321.2L1367.6 1321.7L1368.2 1320.2L1368.8 1321.9L1369.4 1321.9L1370.0 1321.5L1370.6 1321.4L1371.2 1322.8L1371.8 1321.9L1372.4 1321.5L1373.0 1322.3L1373.6 1322.9L1374.2 1322.9L1374.8 1321.5L1375.4 1321.9L1376.0 1322.6L1376.6 1323.1L1377.2 1323.2L1377.8 1322.6L1378.4 1324.0L1379.0 1323.9L1379.6 1322.8L1380.2 1323.4L1380.8 1324.0L1381.4 1323.4L1382.0 1324.5L1382.6 1324.7L1383.2 1324.6L1383.8 1325.3L1384.4 1326.3L1385.0 1325.0L1385.6 1325.9L1386.2 1325.5L1386.8 1326.9L1387.4 1326.9L1388.0 1326.4L1388.6 1326.2L1389.2 1327.2L1389.8 1326.9L1390.4 1326.4L1391.0 1326.7L1391.6 1327.4L1392.2 1328.9L1392.8 1328.5L1393.4 1328.8L1394.0 1328.7L1394.6 1329.1L1395.2 1329.3L1395.8 1327.9L1396.4 1329.1L1397.0 1329.2L1397.6 1329.3L1398.2 1329.4L1398.8 1327.8L1399.4 1329.5L1400.0 1328.7L1400.6 1330.2L1401.2 1329.5L1401.8 1329.7L1402.4 1330.0L1403.0 1329.0L1403.6 1330.2L1404.2 1329.7L1404.8 1331.1L1405.4 1330.4L1406.0 1330.2L1406.6 1331.7L1407.2 1331.0L1407.8 1330.7L1408.4 1331.4L1409.0 1331.5L1409.6 1331.9L1410.2 1331.3L1410.8 1332.7L1411.4 1332.4L1412.0 1333.3L1412.6 1332.9L1413.2 1332.2L1413.8 1333.5L1414.4 1332.9L1415.0 1333.3L1415.6 1331.9L1416.2 1332.8L1416.8 1334.5L1417.4 1334.5L1418.0 1333.0L1418.6 1334.4L1419.2 1334.6L1419.8 1335.3L1420.4 1334.1L1421.0 1333.9L1421.6 1335.2L1422.2 1334.9L1422.8 1335.1L1423.4 1335.1L1424.0 1336.5L1424.6 1335.4L1425.2 1336.6L1425.8 1336.6L1426.4 1336.0L1427.0 1337.1L1427.6 1337.4L1428.2 1337.0L1428.8 1336.8L1429.4 1337.5L1430.0 1336.7L1430.6 1337.6L1431.2 1338.3L1431.8 1336.7L1432.4 1336.6L1433.0 1338.2L1433.6 1337.3L1434.2 1337.7L1434.8 1338.2L1435.4 1337.9L1436.0 1338.4L1436.6 1337.9L1437.2 1338.3L1437.8 1338.8L1438.4 1339.3L1439.0 1338.9L1439.6 1339.5L1440.2 1339.9L1440.8 1340.0L1441.4 1339.9L1442.0 1340.9L1442.6 1339.8L1443.2 1341.1L1443.8 1341.2L1444.4 1341.3L1445.0 1340.7L1445.6 1341.7L1446.2 1341.6L1446.8 1340.8L1447.4 1341.4L1448.0 1341.0L1448.6 1342.1L1449.2 1342.9L1449.8 1342.7L1450.4 1341.8L1451.0 1341.9L1451.6 1342.5L1452.2 1342.7L1452.8 1343.3L1453.4 1342.8L1454.0 1343.8L1454.6 1343.0L1455.2 1344.1L1455.8 1342.8L1456.4 1343.4L1457.0 1343.9L1457.6 1344.5L1458.2 1344.5L1458.8 1343.8L1459.4 1343.7L1460.0 1344.6L1460.6 1344.7L1461.2 1344.7L1461.8 1345.1L1462.4 1344.5L1463.0 1345.7L1463.6 1346.1L1464.2 1345.2L1464.8 1345.4L1465.4 1346.7L1466.0 1346.8L1466.6 1345.9L1467.2 1346.1L1467.8 1345.6L1468.4 1347.0L1469.0 1346.9L1469.6 1346.9L1470.2 1348.3L1470.8 1347.0L1471.4 1347.1L1472.0 1347.4L1472.6 1347.2L1473.2 1348.1L1473.8 1347.4L1474.4 1347.6L1475.0 1348.9L1475.6 1347.3L1476.2 1347.0L1476.8 1347.8L1477.4 1347.5L1478.0 1347.5L1478.6 1348.1L1479.2 1348.6L1479.8 1347.3L1480.4 1348.2L1481.0 1347.2L1481.6 1349.0L1482.2 1348.0L1482.8 1349.1L1483.4 1349.9L1484.0 1349.7L1484.6 1349.3L1485.2 1348.1L1485.8 1350.4L1486.4 1349.2L1487.0 1350.1L1487.6 1349.4L1488.2 1349.7L1488.8 1351.0L1489.4 1349.2L1490.0 1349.6L1490.6 1350.3L1491.2 1351.2L1491.8 1349.3L1492.4 1351.7L1493.0 1350.9L1493.6 1351.7L1494.2 1353.0L1494.8 1352.0L1495.4 1352.5L1496.0 1352.9L1496.6 1352.1L1497.2 1352.5L1497.8 1352.5L1498.4 1353.0L1499.0 1352.8L1499.6 1352.9L1500.2 1353.0L1500.8 1354.0L1501.4 1352.9L1502.0 1353.9L1502.6 1354.8L1503.2 1353.3L1503.8 1353.2L1504.4 1354.8L1505.0 1354.0L1505.6 1354.2L1506.2 1355.1L1506.8 1355.0L1507.4 1354.6L1508.0 1354.8L1508.6 1354.3L1509.2 1354.9L1509.8 1355.3L1510.4 1355.7L1511.0 1355.8L1511.6 1356.6L1512.2 1355.6L1512.8 1356.4L1513.4 1356.1L1514.0 1355.4L1514.6 1356.3L1515.2 1356.5L1515.8 1356.8L1516.4 1356.8L1517.0 1356.7L1517.6 1356.2L1518.2 1356.7L1518.8 1357.2L1519.4 1357.5L1520.0 1357.8L1520.6 1357.6L1521.2 1357.9L1521.8 1358.5L1522.4 1357.9L1523.0 1357.6L1523.6 1357.2L1524.2 1358.2L1524.8 1358.7L1525.4 1358.2L1526.0 1359.4L1526.6 1358.2L1527.2 1358.6L1527.8 1359.0L1528.4 1358.4L1529.0 1359.9L1529.6 1359.0L1530.2 1358.9L1530.8 1358.7L1531.4 1360.5L1532.0 1360.8L1532.6 1359.7L1533.2 1359.6L1533.8 1360.3L1534.4 1360.8L1535.0 1360.6L1535.6 1361.4L1536.2 1360.6L1536.8 1362.5L1537.4 1361.7L1538.0 1362.2L1538.6 1361.5L1539.2 1362.4L1539.8 1362.9L1540.4 1361.6L1541.0 1362.2L1541.6 1362.8L1542.2 1362.5L1542.8 1361.8L1543.4 1362.1L1544.0 1362.8L1544.6 1362.7L1545.2 1362.2L1545.8 1362.8L1546.4 1361.4L1547.0 1362.7L1547.6 1363.3L1548.2 1363.4L1548.8 1362.6L1549.4 1363.1L1550.0 1363.2L1550.6 1363.1L1551.2 1362.8L1551.8 1362.5L1552.4 1363.1L1553.0 1362.8L1553.6 1362.4L1554.2 1364.5L1554.8 1363.0L1555.4 1363.6L1556.0 1363.8L1556.6 1363.2L1557.2 1364.6L1557.8 1363.5L1558.4 1365.7L1559.0 1364.0L1559.6 1364.5L1560.2 1365.0L1560.8 1365.1L1561.4 1365.3L1562.0 1366.1L1562.6 1366.4L1563.2 1367.1L1563.8 1365.2L1564.4 1366.7L1565.0 1366.6L1565.6 1366.1L1566.2 1365.7L1566.8 1368.0L1567.4 1367.4L1568.0 1365.8L1568.6 1367.8L1569.2 1367.3L1569.8 1367.3L1570.4 1367.7L1571.0 1367.0L1571.6 1367.3L1572.2 1368.0L1572.8 1366.9L1573.4 1366.8L1574.0 1366.7L1574.6 1368.2L1575.2 1367.3L1575.8 1367.7L1576.4 1367.7L1577.0 1368.4L1577.6 1368.4L1578.2 1367.8L1578.8 1369.1L1579.4 1368.7L1580.0 1368.7L1580.6 1368.4L1581.2 1368.5L1581.8 1368.7L1582.4 1369.0L1583.0 1369.4L1583.6 1369.5L1584.2 1369.3L1584.8 1369.5L1585.4 1370.2L1586.0 1370.7L1586.6 1370.9L1587.2 1370.4L1587.8 1369.9L1588.4 1370.9L1589.0 1371.1L1589.6 1371.3L1590.2 1371.8L1590.8 1371.4L1591.4 1372.0L1592.0 1370.8L1592.6 1373.4L1593.2 1372.6L1593.8 1372.6L1594.4 1373.2L1595.0 1373.0L1595.6 1372.9L1596.2 1373.9L1596.8 1373.6L1597.4 1373.3L1598.0 1374.2L1598.6 1374.2L1599.2 1374.2L1599.8 1373.9L1600.4 1374.8L1601.0 1373.8L1601.6 1374.8L1602.2 1375.3L1602.8 1374.0L1603.4 1374.7L1604.0 1373.6L1604.6 1374.7L1605.2 1373.7L1605.8 1374.0L1606.4 1374.9L1607.0 1375.5L1607.6 1375.2L1608.2 1374.9L1608.8 1374.6L1609.4 1375.1L1610.0 1376.6L1610.6 1376.1L1611.2 1374.6L1611.8 1375.1L1612.4 1374.8L1613.0 1376.1L1613.6 1375.7L1614.2 1375.1L1614.8 1376.1L1615.4 1376.1L1616.0 1375.9L1616.6 1376.5L1617.2 1377.4L1617.8 1376.5L1618.4 1377.0L1619.0 1376.6L1619.6 1377.4L1620.2 1378.6L1620.8 1378.3L1621.4 1377.8L1622.0 1378.0L1622.6 1379.3L1623.2 1378.7L1623.8 1378.7L1624.4 1379.8L1625.0 1379.1L1625.6 1379.1L1626.2 1380.0L1626.8 1379.2L1627.4 1379.8L1628.0 1379.8L1628.6 1380.4L1629.2 1380.4L1629.8 1381.7L1630.4 1381.1L1631.0 1380.9L1631.6 1381.3L1632.2 1380.9L1632.8 1381.3L1633.4 1381.6L1634.0 1381.6L1634.6 1382.2L1635.2 1381.8L1635.8 1381.2L1636.4 1381.8L1637.0 1381.1L1637.6 1382.9L1638.2 1380.7L1638.8 1381.8L1639.4 1382.2L1640.0 1381.4L1640.6 1381.8L1641.2 1382.7L1641.8 1381.4L1642.4 1382.7L1643.0 1382.1L1643.6 1382.0L1644.2 1383.4L1644.8 1382.8L1645.4 1382.6L1646.0 1382.3L1646.6 1382.6L1647.2 1382.4L1647.8 1383.6L1648.4 1382.7L1649.0 1382.2L1649.6 1382.4L1650.2 1383.0L1650.8 1382.2L1651.4 1382.4L1652.0 1382.0L1652.6 1381.7L1653.2 1384.4L1653.8 1383.1L1654.4 1384.3L1655.0 1383.7L1655.6 1383.7L1656.2 1383.0L1656.8 1383.7L1657.4 1384.0L1658.0 1383.5L1658.6 1384.6L1659.2 1385.0L1659.8 1384.7L1660.4 1384.7L1661.0 1383.6L1661.6 1386.4L1662.2 1385.3L1662.8 1384.3L1663.4 1384.3L1664.0 1384.7L1664.6 1384.6L1665.2 1385.2L1665.8 1384.7L1666.4 1385.4L1667.0 1385.0L1667.6 1385.2L1668.2 1384.7L1668.8 1385.5L1669.4 1385.6L1670.0 1385.0L1670.6 1384.5L1671.2 1385.5L1671.8 1384.5L1672.4 1385.1L1673.0 1385.9L1673.6 1386.4L1674.2 1385.5L1674.8 1385.9L1675.4 1386.6L1676.0 1385.2L1676.6 1385.7L1677.2 1386.2L1677.8 1386.8L1678.4 1385.4L1679.0 1385.5L1679.6 1386.8L1680.2 1387.0L1680.8 1386.0L1681.4 1386.5L1682.0 1387.1L1682.6 1386.5L1683.2 1385.5L1683.8 1386.8L1684.4 1387.3L1685.0 1386.0L1685.6 1387.6L1686.2 1386.6L1686.8 1385.8L1687.4 1387.0L1688.0 1386.0L1688.6 1387.7L1689.2 1387.2L1689.8 1387.9L1690.4 1385.9L1691.0 1387.0L1691.6 1387.7L1692.2 1387.6L1692.8 1387.3L1693.4 1387.1L1694.0 1387.3L1694.6 1387.5L1695.2 1388.0L1695.8 1385.9L1696.4 1386.4L1697.0 1386.7L1697.6 1387.2L1698.2 1387.3L1698.8 1386.9L1699.4 1387.2L1700.0 1387.7L1700.6 1388.1L1701.2 1387.0L1701.8 1387.4L1702.4 1387.7L1703.0 1389.2L1703.6 1387.4L1704.2 1388.1L1704.8 1388.0L1705.4 1387.8L1706.0 1388.7L1706.6 1388.2L1707.2 1388.0L1707.8 1388.4L1708.4 1388.6L1709.0 1388.2L1709.6 1388.2L1710.2 1389.3L1710.8 1388.4L1711.4 1389.3L1712.0 1388.7L1712.6 1388.4L1713.2 1388.2L1713.8 1387.9L1714.4 1389.3L1715.0 1389.3L1715.6 1388.7L1716.2 1388.3L1716.8 1388.7L1717.4 1389.1L1718.0 1389.7L1718.6 1388.6L1719.2 1388.0L1719.8 1389.1L1720.4 1388.7L1721.0 1388.5L1721.6 1387.9L1722.2 1389.3L1722.8 1389.8L1723.4 1388.4L1724.0 1388.2L1724.6 1388.8L1725.2 1389.0L1725.8 1389.5L1726.4 1389.4L1727.0 1388.4L1727.6 1389.7L1728.2 1389.8L1728.8 1389.5L1729.4 1390.1L1730.0 1389.2L1730.6 1389.9L1731.2 1389.4L1731.8 1390.3L1732.4 1390.9L1733.0 1389.4L1733.6 1390.6L1734.2 1391.1L1734.8 1390.9L1735.4 1391.8L1736.0 1390.9L1736.6 1392.2L1737.2 1391.1L1737.8 1390.4L1738.4 1391.0L1739.0 1390.8L1739.6 1391.9L1740.2 1392.2L1740.8 1392.3L1741.4 1391.8L1742.0 1391.3L1742.6 1391.1L1743.2 1390.8L1743.8 1391.9L1744.4 1390.8L1745.0 1391.5L1745.6 1391.8L1746.2 1392.0L1746.8 1391.0L1747.4 1391.1L1748.0 1391.3L1748.6 1392.5L1749.2 1391.5L1749.8 1391.7L1750.4 1392.7L1751.0 1393.0L1751.6 1393.7L1752.2 1392.7L1752.8 1393.4L1753.4 1391.9L1754.0 1393.4L1754.6 1393.7L1755.2 1393.9L1755.8 1393.2L1756.4 1394.4L1757.0 1394.6L1757.6 1393.8L1758.2 1394.0L1758.8 1393.8L1759.4 1393.9L1760.0 1394.2L1760.6 1393.6L1761.0 1393.6"/>
<path class="c" stroke="#000" stroke-width="7.8" stroke-dasharray="13.07 34.93" stroke-dashoffset="6.53" d="M1761.0 1393.6L1761.2 1393.6L1761.8 1394.4L1762.4 1394.4L1763.0 1395.4L1763.6 1394.8L1764.2 1394.5L1764.8 1394.1L1765.4 1395.1L1766.0 1394.8L1766.6 1394.5L1767.2 1396.8L1767.8 1394.7L1768.4 1396.9L1769.0 1397.8L1769.6 1396.2L1770.2 1396.0L1770.8 1396.7L1771.4 1395.9L1772.0 1396.6L1772.6 1397.0L1773.2 1395.9L1773.8 1397.7L1774.4 1396.9L1775.0 1397.1L1775.6 1397.8L1776.2 1396.3L1776.8 1396.5L1777.4 1397.5L1778.0 1397.7L1778.6 1397.5L1779.2 1397.6L1779.8 1397.7L1780.4 1397.4L1781.0 1397.3L1781.6 1397.7L1782.2 1398.3L1782.8 1398.6L1783.4 1397.7L1784.0 1399.6L1784.6 1400.0L1785.2 1398.9L1785.8 1398.4L1786.4 1398.9L1787.0 1399.5L1787.6 1399.1L1788.2 1400.3L1788.8 1399.1L1789.4 1399.9L1790.0 1399.7L1790.6 1400.8L1791.2 1399.8L1791.8 1400.0L1792.4 1399.3L1793.0 1399.7L1793.6 1399.2L1794.2 1402.0L1794.8 1400.3L1795.4 1400.3L1796.0 1400.5L1796.6 1400.9L1797.2 1401.2L1797.8 1400.0L1798.4 1401.9L1799.0 1401.4L1799.6 1401.5L1800.2 1402.7L1800.8 1402.0L1801.4 1401.6L1802.0 1401.7L1802.6 1402.9L1803.2 1402.7L1803.8 1402.9L1804.4 1402.2L1805.0 1403.3L1805.6 1403.0L1806.2 1403.0L1806.8 1404.1L1807.4 1403.5L1808.0 1403.0L1808.6 1403.7L1809.2 1404.1L1809.8 1402.0L1810.4 1403.3L1811.0 1402.8L1811.6 1402.5L1812.2 1403.2L1812.8 1402.8L1813.4 1401.9L1814.0 1402.7L1814.6 1401.7L1815.2 1401.7L1815.8 1400.8L1816.4 1401.4L1817.0 1401.6L1817.6 1400.9L1818.2 1401.0L1818.8 1401.6L1819.4 1400.8L1820.0 1400.6L1820.6 1402.1L1821.2 1400.8L1821.8 1399.9L1822.4 1400.7L1823.0 1401.4L1823.6 1400.9L1824.2 1401.1L1824.8 1401.6L1825.4 1401.9L1826.0 1401.9L1826.6 1402.2L1827.2 1402.9L1827.8 1404.3L1828.4 1403.2L1829.0 1403.0L1829.6 1402.3L1830.2 1402.9L1830.8 1402.3L1831.4 1402.8L1832.0 1402.0L1832.6 1403.1L1833.2 1403.5L1833.8 1402.7L1834.4 1403.5L1835.0 1401.1L1835.6 1402.1L1836.2 1401.4L1836.8 1401.4L1837.4 1400.5L1838.0 1400.9L1838.6 1400.7L1839.2 1400.2L1839.8 1401.1L1840.4 1400.7L1841.0 1400.7L1841.6 1399.5L1842.2 1399.3L1842.8 1399.2L1843.4 1400.5L1844.0 1400.6L1844.6 1400.2L1845.2 1399.9L1845.8 1400.5L1846.4 1400.8L1847.0 1400.9L1847.6 1400.6L1848.2 1401.5L1848.8 1401.7L1849.4 1400.6L1850.0 1401.4L1850.6 1401.4L1851.2 1400.8L1851.8 1401.3L1852.4 1402.0L1853.0 1402.7L1853.6 1401.7L1854.2 1402.1L1854.8 1402.4L1855.4 1402.4L1856.0 1402.0L1856.6 1403.5L1857.2 1403.0L1857.8 1403.3L1858.4 1403.3L1859.0 1402.5L1859.6 1402.1L1860.2 1402.2L1860.8 1402.2L1861.4 1401.9L1862.0 1402.1L1862.6 1401.3L1863.2 1401.8L1863.8 1401.5L1864.4 1401.9L1865.0 1402.0L1865.6 1402.6L1866.2 1402.1L1866.8 1401.7L1867.4 1401.2L1868.0 1401.1L1868.6 1401.2L1869.2 1400.7L1869.8 1400.7L1870.4 1400.1L1871.0 1400.7L1871.6 1399.8L1872.2 1400.0L1872.8 1400.2L1873.4 1402.2L1874.0 1400.9L1874.6 1401.6L1875.2 1400.5L1875.8 1401.7L1876.4 1401.4L1877.0 1402.3L1877.6 1401.7L1878.2 1401.4L1878.8 1402.7L1879.4 1402.4L1880.0 1401.8L1880.6 1402.7L1881.2 1402.3L1881.8 1403.4L1882.4 1403.2L1883.0 1403.5L1883.6 1402.9L1884.2 1404.4L1884.8 1403.4L1885.4 1404.1L1886.0 1403.9L1886.6 1404.2L1887.2 1403.5L1887.8 1404.1L1888.4 1404.1L1889.0 1403.0L1889.6 1404.3L1890.2 1403.0L1890.8 1403.1L1891.4 1403.0L1892.0 1403.9L1892.6 1402.9L1893.2 1402.9L1893.8 1403.2L1894.4 1403.1L1895.0 1403.6L1895.6 1402.6L1896.2 1402.4L1896.8 1402.3L1897.4 1402.2L1898.0 1403.0L1898.6 1402.8L1899.2 1402.3L1899.8 1402.3L1900.4 1401.0L1901.0 1402.7L1901.6 1402.6L1902.2 1401.3L1902.8 1402.3L1903.4 1402.7L1904.0 1403.7L1904.6 1403.2L1905.2 1403.9L1905.8 1404.2L1906.4 1403.8L1907.0 1403.0L1907.6 1402.9L1908.2 1403.6L1908.8 1404.4L1909.4 1404.3L1910.0 1403.5L1910.6 1404.8L1911.2 1404.0L1911.8 1404.5L1912.4 1405.5L1913.0 1405.1L1913.6 1404.9L1914.2 1404.9L1914.8 1405.6L1915.4 1405.8L1916.0 1405.5L1916.6 1405.2L1917.2 1406.0L1917.8 1406.2L1918.4 1405.1L1919.0 1406.2L1919.6 1405.5L1920.2 1405.7L1920.8 1406.4L1921.4 1405.2L1922.0 1405.9L1922.6 1408.9L1923.2 1408.9L1923.8 1408.9L1924.4 1408.9L1925.0 1408.9L1925.6 1408.9L1926.2 1408.9L1926.8 1408.9L1927.4 1408.9L1928.0 1408.9L1928.6 1408.9L1929.2 1408.9L1929.8 1408.9L1930.4 1408.9L1931.0 1408.9L1931.6 1408.9L1932.2 1408.9L1932.8 1408.9L1933.4 1408.9L1934.0 1408.9L1934.6 1408.9"/>
<path class="c" stroke="#000" stroke-width="7.8" stroke-dasharray="0.01 30.50 41.50 30.50" stroke-dashoffset="72.59" d="M399.2 1408.9L399.8 1408.9L400.4 1408.9L401.0 1408.9L401.6 1408.9L402.2 1408.9L402.8 1408.9L403.4 1408.9L404.0 1408.9L404.6 1408.9L405.2 1408.9L405.8 1408.9L406.4 1408.9L407.0 1408.9L407.6 1408.9L408.2 1408.9L408.8 1408.9L409.4 1408.9L410.0 1408.9L410.6 1408.9L411.2 1408.9L411.8 1408.9L412.4 1408.9L413.0 1408.9L413.6 1408.9L414.2 1408.9L414.8 1408.9L415.4 1408.9L416.0 1408.9L416.6 1408.9L417.2 1408.9L417.8 1408.9L418.4 1408.9L419.0 1408.9L419.6 1408.9L420.2 1408.9L420.8 1408.9L421.4 1408.9L422.0 1408.9L422.6 1408.9L423.2 1408.9L423.8 1408.9L424.4 1408.9L425.0 1408.9L425.6 1408.9L426.2 1408.9L426.8 1408.9L427.4 1408.9L428.0 1408.9L428.6 1408.9L429.2 1408.9L429.8 1408.9L430.4 1408.9L431.0 1408.9L431.6 1408.9L432.2 1408.9L432.8 1408.9L433.4 1408.9L434.0 1408.9L434.6 1408.9L435.2 1408.9L435.8 1408.9L436.4 1408.9L437.0 1408.9L437.6 1408.9L438.2 1408.9L438.8 1408.9L439.4 1408.9L440.0 1408.9L440.6 1408.9L441.2 1408.9L441.8 1408.9L442.4 1408.9L443.0 1408.9L443.6 1408.9L444.2 1408.9L444.8 1408.9L445.4 1408.9L446.0 1408.9L446.6 1408.9L447.2 1408.9L447.8 1408.9L448.4 1408.9L449.0 1408.9L449.6 1408.9L450.2 1408.9L450.8 1408.9L451.4 1407.0L452.0 1408.8L452.6 1407.5L453.2 1406.6L453.8 1406.6L454.4 1404.6L455.0 1407.9L455.6 1406.3L456.2 1404.3L456.8 1404.2L457.4 1405.0L458.0 1403.4L458.6 1402.7L459.2 1403.7L459.8 1402.1L460.4 1402.0L461.0 1401.9L461.6 1399.6L462.2 1401.3L462.8 1400.1L463.4 1397.7L464.0 1396.9L464.6 1398.0L465.2 1398.1L465.8 1396.5L466.4 1396.1L467.0 1395.4L467.6 1394.5L468.2 1394.4L468.8 1394.8L469.4 1394.5L470.0 1391.3L470.6 1391.2L471.2 1389.6L471.8 1389.1L472.4 1387.7L473.0 1388.4L473.6 1387.0L474.2 1384.6L474.8 1382.8L475.4 1376.9L476.0 1373.8L476.6 1370.3L477.2 1365.5L477.8 1361.1L478.2 1358.8"/>
<path class="c" stroke="#000" stroke-width="7.8" stroke-dasharray="0.01 30.43 41.40 30.43" stroke-dashoffset="0.00" d="M478.2 1358.8L478.4 1357.9L479.0 1352.8L479.6 1346.4L480.2 1342.8L480.8 1336.3L481.4 1329.2L482.0 1323.8L482.6 1316.0L483.2 1310.1L483.8 1303.6L484.4 1296.8L485.0 1291.1L485.6 1283.0L486.2 1276.1L486.8 1268.2L487.4 1259.8L487.6 1257.0"/>
<path class="c" stroke="#000" stroke-width="7.8" stroke-dasharray="0.01 30.41 41.37 30.41" stroke-dashoffset="0.00" d="M487.6 1257.0L488.0 1252.1L488.6 1242.0L489.2 1228.3L489.8 1221.0L490.4 1210.7L491.0 1201.1L491.6 1190.0L492.2 1180.7L492.8 1170.1L493.4 1160.1L493.7 1155.0"/>
<path class="c" stroke="#000" stroke-width="7.8" stroke-dasharray="0.01 30.57 41.60 30.57" stroke-dashoffset="0.00" d="M493.7 1155.0L494.0 1150.0L494.6 1134.4L495.2 1125.7L495.8 1116.3L496.4 1112.6L497.0 1103.7L497.6 1097.2L498.2 1089.9L498.8 1084.3L499.4 1074.3L500.0 1052.5"/>
<path class="c" stroke="#000" stroke-width="7.8" stroke-dasharray="0.01 30.51 41.51 30.51" stroke-dashoffset="0.00" d="M500.0 1052.5L500.0 1050.8L500.6 1042.3L501.2 1036.2L501.8 1026.3L502.4 1019.5L503.0 1010.4L503.6 998.6L504.2 993.4L504.8 979.7L505.4 968.2L506.0 961.3L506.6 950.2"/>
<path class="c" stroke="#000" stroke-width="7.8" stroke-dasharray="0.01 30.30 41.22 30.30" stroke-dashoffset="0.00" d="M506.6 950.2L506.6 949.9L507.2 943.2L507.8 938.3L508.4 934.6L509.0 929.4L509.6 921.6L510.2 913.4L510.8 907.2L511.4 901.9L512.0 894.2L512.6 887.7L513.2 880.8L513.8 875.3L514.4 864.4L515.0 856.1L515.4 848.8"/>
<path class="c" stroke="#000" stroke-width="7.8" stroke-dasharray="0.01 30.66 41.72 30.66" stroke-dashoffset="0.00" d="M515.4 848.8L515.6 845.1L516.2 839.0L516.8 828.4L517.4 821.2L518.0 814.5L518.6 806.0L519.2 799.1L519.8 788.7L520.4 783.5L521.0 776.6L521.6 770.4L522.2 765.9L522.8 759.4L523.4 756.3L524.0 749.7L524.4 746.2"/>
<path class="c" stroke="#000" stroke-width="7.8" stroke-dasharray="0.01 31.41 42.74 31.41" stroke-dashoffset="0.00" d="M524.4 746.2L524.6 745.0L525.2 741.4L525.8 736.6L526.4 730.5L527.0 722.5L527.6 718.3L528.2 713.0L528.8 708.7L529.4 705.6L530.0 699.9L530.6 691.6L531.2 688.7L531.8 683.5L532.4 677.1L533.0 672.4L533.6 670.6L534.2 665.5L534.8 662.3L535.4 658.6L536.0 651.3L536.6 652.9L537.2 650.8L537.8 649.1L538.4 646.4L538.5 645.0"/>
<path class="c" stroke="#000" stroke-width="7.8" stroke-dasharray="0.01 30.90 42.04 30.90" stroke-dashoffset="0.00" d="M538.5 645.0L539.0 638.7L539.6 637.0L540.2 633.2L540.8 631.3L541.4 626.3L542.0 625.2L542.6 622.6L543.2 619.6L543.8 616.6L544.4 614.7L545.0 610.2L545.6 607.1L546.2 604.9L546.8 601.8L547.4 600.0L548.0 598.2L548.6 593.8L549.2 588.8L549.8 586.1L550.4 586.3L551.0 583.8L551.6 580.9L552.2 573.9L552.8 576.6L553.4 577.2L554.0 571.1L554.6 568.6L555.2 568.3L555.8 563.5L556.4 560.9L557.0 561.9L557.6 556.6L558.2 556.8L558.6 554.0"/>
<path class="c" stroke="#000" stroke-width="7.8" stroke-dasharray="0.01 30.17 41.05 30.17" stroke-dashoffset="0.00" d="M558.6 554.0L558.8 552.9L559.4 550.0L560.0 545.8L560.6 544.6L561.2 540.6L561.8 537.2L562.4 533.5L563.0 530.0L563.6 529.2L564.2 525.9L564.8 523.5L565.4 517.7L566.0 517.4L566.6 511.6L567.2 513.7L567.8 511.4L568.4 508.2L569.0 504.2L569.6 501.7L570.2 497.9L570.8 494.3L571.4 494.3L572.0 492.3L572.6 487.9L573.2 484.2L573.8 483.2L574.4 481.2L575.0 478.4L575.6 474.7L576.2 473.4L576.8 473.8L577.4 474.6L578.0 467.8L578.6 468.3L579.2 465.7L579.8 464.6L579.9 464.2"/>
<path class="c" stroke="#000" stroke-width="7.8" stroke-dasharray="0.01 38.69 52.65 38.69" stroke-dashoffset="0.00" d="M579.9 464.2L580.4 462.6L581.0 463.2L581.6 460.9L582.2 459.1L582.8 459.8L583.4 458.9L584.0 459.3L584.6 458.1L585.2 457.4L585.8 455.8L586.4 454.7L587.0 453.7L587.6 452.9L588.2 454.4L588.8 454.9L589.4 451.9L590.0 452.6L590.6 452.9L591.2 455.9L591.8 452.0L592.4 453.6L593.0 450.2L593.6 454.4L594.2 452.7L594.8 454.3L595.4 455.9L596.0 452.4L596.6 450.7L597.2 454.5L597.8 452.7L598.4 454.1L599.0 455.4L599.6 451.4L600.2 450.7L600.8 451.1L601.4 449.5L602.0 450.6L602.6 453.4L603.2 451.9L603.8 451.9L604.4 455.7L605.0 456.9L605.6 453.9L606.2 458.2L606.8 458.2L607.4 460.5L608.0 460.7L608.6 463.5L609.2 464.7L609.8 472.0L610.4 471.9L611.0 473.5L611.6 474.4L612.2 474.4L612.8 477.1L613.4 476.8L614.0 480.8L614.6 479.0L615.2 480.9L615.8 477.4L616.4 479.4L617.0 480.3L617.6 479.6L618.2 481.8L618.8 482.6L619.4 482.5L619.7 484.5"/>
<path class="c" stroke="#000" stroke-width="7.8" stroke-dasharray="0.01 25.40 34.56 25.40" stroke-dashoffset="0.00" d="M619.7 484.5L620.0 486.1L620.6 485.1L621.2 487.3L621.8 486.0L622.4 489.1L623.0 489.4L623.6 490.6L624.2 494.4L624.8 494.6L625.4 493.6L626.0 494.9L626.6 498.6L627.2 497.5L627.8 499.5L628.4 503.1L629.0 504.1L629.6 503.6L630.2 504.8L630.8 506.5L631.4 507.1L632.0 508.8L632.6 511.9L633.2 512.0L633.8 513.1L634.4 513.8L635.0 516.7L635.6 516.0L636.2 518.7L636.8 517.8L637.4 520.2L638.0 522.4L638.6 522.4L639.2 525.0L639.8 526.1L640.4 526.5L641.0 529.2L641.6 529.6L642.2 529.7L642.8 531.6L643.4 533.6L644.0 531.9L644.6 532.6L645.2 536.6L645.8 534.9L646.4 536.5L647.0 535.1L647.6 538.8L647.8 539.5"/>
<path class="c" stroke="#000" stroke-width="7.8" stroke-dasharray="0.01 31.12 42.35 31.12" stroke-dashoffset="0.00" d="M647.8 539.5L648.2 540.6L648.8 539.7L649.4 543.8L650.0 543.0L650.6 545.9L651.2 549.7L651.8 551.9L652.4 551.0L653.0 554.6L653.6 553.4L654.2 557.3L654.8 555.2L655.4 559.7L656.0 560.3L656.6 560.8L657.2 563.5L657.8 564.9L658.4 566.7L659.0 569.4L659.6 568.9L660.2 570.5L660.8 573.0L661.4 573.8L662.0 576.1L662.6 576.0L663.2 580.4L663.8 579.4L664.4 583.7L665.0 585.1L665.6 584.5L666.2 588.1L666.8 590.6L667.4 589.9L668.0 592.5L668.6 592.2L669.2 596.6L669.8 596.8L670.4 599.8L671.0 599.9L671.6 599.5L672.2 599.3L672.8 602.7L673.4 604.0L674.0 602.9L674.6 605.5L675.2 605.7L675.8 605.6L676.4 605.8L677.0 607.6L677.6 609.9L678.2 608.1L678.8 610.0"/>
<path class="c" stroke="#000" stroke-width="7.8" stroke-dasharray="0.01 31.54 42.92 31.54" stroke-dashoffset="0.00" d="M678.8 610.0L678.8 610.1L679.4 611.7L680.0 612.5L680.6 613.8L681.2 617.3L681.8 619.9L682.4 619.7L683.0 620.1L683.6 623.4L684.2 624.5L684.8 627.0L685.4 626.8L686.0 631.0L686.6 630.9L687.2 634.7L687.8 634.5L688.4 635.2L689.0 636.9L689.6 639.2L690.2 640.4L690.8 642.4L691.4 640.6L692.0 642.7L692.6 644.6L693.2 643.4L693.8 647.0L694.4 649.5L695.0 649.2L695.6 651.4L696.2 651.9L696.8 653.9L697.4 653.9L698.0 658.0L698.6 659.0L699.2 659.5L699.8 663.0L700.4 662.5L701.0 663.0L701.6 661.7L702.2 664.4L702.8 668.0L703.4 670.5L704.0 669.2L704.6 672.6L705.2 672.0L705.8 674.1L706.4 675.2L707.0 677.0L707.6 678.4L708.2 681.0L708.8 680.6L709.4 685.9L710.0 686.1L710.6 684.2L711.2 686.1L711.3 687.0"/>
<path class="c" stroke="#000" stroke-width="7.8" stroke-dasharray="0.01 37.03 50.38 37.03" stroke-dashoffset="0.00" d="M711.3 687.0L711.8 692.3L712.4 689.1L713.0 692.5L713.6 691.6L714.2 698.3L714.8 693.3L715.4 698.9L716.0 698.4L716.6 698.5L717.2 699.8L717.8 700.2L718.4 699.8L719.0 704.6L719.6 707.7L720.2 706.2L720.8 708.9L721.4 711.1L722.0 709.5L722.6 712.4L723.2 712.5L723.8 717.1L724.4 716.4L725.0 721.4L725.6 722.3L726.2 721.4L726.8 724.8L727.4 726.1L728.0 726.6L728.6 728.7L729.2 730.7L729.8 729.7L730.4 735.3L731.0 734.5L731.6 735.8L732.2 739.3L732.8 738.8L733.4 743.9L734.0 744.9L734.6 745.0L735.2 748.5L735.8 750.4L736.4 749.5L737.0 749.4L737.6 751.5L738.2 754.4L738.8 758.2L739.4 759.7L740.0 760.6L740.6 765.1L741.2 764.0L741.6 765.8"/>
<path class="c" stroke="#000" stroke-width="7.8" stroke-dasharray="0.01 33.53 45.62 33.53" stroke-dashoffset="0.00" d="M741.6 765.8L741.8 766.9L742.4 766.3L743.0 768.9L743.6 771.9L744.2 775.2L744.8 772.8L745.4 779.5L746.0 778.4L746.6 783.2L747.2 783.6L747.8 784.0L748.4 786.7L749.0 792.4L749.6 791.4L750.2 792.8L750.8 793.3L751.4 795.7L752.0 800.6L752.6 802.7L753.2 805.1L753.8 805.0L754.4 805.6L755.0 806.6L755.6 811.7L756.2 811.0L756.8 811.7L757.4 814.8L758.0 817.0L758.6 820.4L759.2 820.5L759.8 824.4L760.4 825.5L761.0 826.5L761.6 824.9L762.2 826.6L762.8 831.0L763.4 833.3L764.0 836.2L764.6 833.3L765.2 837.9L765.8 839.3L766.4 841.3L767.0 841.8L767.6 842.8L768.2 844.5L768.8 846.6L769.4 849.1L770.0 848.2L770.2 849.5"/>
<path class="c" stroke="#000" stroke-width="7.8" stroke-dasharray="0.01 29.66 40.36 29.66" stroke-dashoffset="0.00" d="M770.2 849.5L770.6 852.0L771.2 854.8L771.8 859.2L772.4 859.1L773.0 867.4L773.6 869.0L774.2 870.7L774.8 874.9L775.4 877.4L776.0 879.4L776.6 882.4L777.2 888.2L777.8 891.0L778.4 887.1L779.0 892.2L779.6 894.8L780.2 895.2L780.8 898.7L781.4 901.0L782.0 903.7L782.6 904.1L783.2 907.0L783.8 911.9L784.4 914.0L785.0 916.5L785.6 918.7L786.2 918.3L786.8 922.3L787.4 922.9L788.0 926.3L788.6 926.7L789.2 929.6L789.8 929.7L790.4 934.3L791.0 934.4L791.3 935.7"/>
<path class="c" stroke="#000" stroke-width="7.8" stroke-dasharray="0.01 30.19 41.07 30.19" stroke-dashoffset="0.00" d="M791.3 935.7L791.6 936.9L792.2 937.6L792.8 942.5L793.4 944.0L794.0 946.9L794.6 946.0L795.2 949.9L795.8 951.2L796.4 953.1L797.0 956.0L797.6 957.1L798.2 961.3L798.8 960.2L799.4 962.5L800.0 964.5L800.6 968.3L801.2 968.2L801.8 969.2L802.4 973.5L803.0 976.5L803.6 976.1L804.2 979.2L804.8 980.2L805.4 983.0L806.0 985.1L806.6 984.2L807.2 990.5L807.8 990.1L808.4 993.4L809.0 995.2L809.6 994.8L810.2 999.7L810.8 999.1L811.4 1000.3L812.0 1003.8L812.6 1007.7L813.2 1008.7L813.8 1005.8L814.4 1010.0L815.0 1012.4L815.6 1013.5L816.2 1014.8L816.7 1016.5"/>
<path class="c" stroke="#000" stroke-width="7.8" stroke-dasharray="0.01 32.67 44.46 32.67" stroke-dashoffset="0.00" d="M816.7 1016.5L816.8 1016.8L817.4 1017.9L818.0 1022.7L818.6 1022.8L819.2 1022.9L819.8 1026.1L820.4 1029.3L821.0 1028.7L821.6 1032.1L822.2 1030.9L822.8 1033.6L823.4 1038.8L824.0 1037.4L824.6 1037.4L825.2 1042.3L825.8 1041.7L826.4 1044.7L827.0 1044.8L827.6 1044.5L828.2 1049.9L828.8 1049.2L829.4 1048.9L830.0 1053.7L830.6 1053.8L831.2 1057.8L831.8 1058.0L832.4 1058.4L833.0 1057.5L833.6 1059.0L834.2 1062.2L834.8 1062.1L835.4 1065.5L836.0 1068.1L836.6 1068.9L837.2 1071.6L837.8 1072.5L838.4 1073.3L839.0 1073.8L839.6 1074.9L840.2 1076.9L840.8 1078.7L841.4 1081.5L842.0 1081.0L842.6 1081.5L843.2 1082.6L843.8 1083.8L844.4 1085.3L845.0 1089.9L845.6 1090.2L846.2 1090.4L846.8 1092.0L847.4 1092.3L848.0 1092.7L848.6 1093.6L849.2 1096.6L849.8 1098.5L850.4 1100.2L851.0 1099.5L851.2 1100.3"/>
<path class="c" stroke="#000" stroke-width="7.8" stroke-dasharray="0.01 28.27 38.47 28.27" stroke-dashoffset="0.00" d="M851.2 1100.3L851.6 1102.0L852.2 1101.2L852.8 1103.9L853.4 1104.4L854.0 1106.3L854.6 1105.1L855.2 1108.2L855.8 1109.1L856.4 1109.8L857.0 1112.6L857.6 1113.2L858.2 1114.5L858.8 1116.5L859.4 1114.7L860.0 1117.8L860.6 1115.9L861.2 1118.8L861.8 1118.7L862.4 1120.2L863.0 1122.6L863.6 1124.1L864.2 1124.6L864.8 1126.0L865.4 1126.8L866.0 1126.6L866.6 1128.4L867.2 1128.4L867.8 1128.6L868.4 1131.8L869.0 1131.3L869.6 1130.8L870.2 1132.0L870.8 1135.2L871.4 1135.7L872.0 1136.5L872.6 1138.2L873.2 1138.5L873.8 1139.4L874.4 1139.6L875.0 1142.4L875.6 1144.4L876.2 1142.7L876.8 1143.7L877.4 1146.1L878.0 1147.0L878.6 1147.9L879.2 1147.2L879.8 1148.8L880.4 1148.8L881.0 1150.5L881.6 1149.6L882.2 1152.0L882.8 1150.9L883.4 1155.4L884.0 1152.4L884.6 1154.9L885.0 1156.5"/>
<path class="c" stroke="#000" stroke-width="7.8" stroke-dasharray="0.01 30.50 41.50 30.50" stroke-dashoffset="0.00" d="M885.0 1156.5L885.2 1157.0L885.8 1156.3L886.4 1158.0L887.0 1157.1L887.6 1160.2L888.2 1161.5L888.8 1162.4L889.4 1161.8L890.0 1164.7L890.6 1164.6L891.2 1165.3L891.8 1165.6L892.4 1168.2L893.0 1168.9L893.6 1168.8L894.2 1169.6L894.8 1171.5L895.4 1170.9L896.0 1174.4L896.6 1175.3L897.2 1176.5L897.8 1175.8L898.4 1180.1L899.0 1178.1L899.6 1179.9L900.2 1179.7L900.8 1180.7L901.4 1179.3L902.0 1182.2L902.6 1180.8L903.2 1180.2L903.8 1182.3L904.4 1184.7L905.0 1184.6L905.6 1184.7L906.2 1183.9L906.8 1187.0L907.4 1186.9L908.0 1186.4L908.6 1188.8L909.2 1188.3L909.8 1188.6L910.4 1190.7L911.0 1191.7L911.6 1191.0L912.2 1195.1L912.8 1193.4L913.4 1195.4L914.0 1195.0L914.6 1195.6L915.2 1196.7L915.8 1196.9L916.4 1198.2L917.0 1199.4L917.6 1198.3L918.2 1200.9L918.8 1201.6L919.4 1201.1L920.0 1202.5L920.6 1202.9L921.2 1203.8L921.8 1203.5L922.4 1203.3L923.0 1203.5L923.6 1204.4L924.2 1205.0L924.8 1206.3L925.4 1205.2L926.0 1205.9L926.6 1206.6L927.2 1209.1L927.8 1211.0L928.4 1207.6L929.0 1207.8L929.6 1208.2L930.2 1210.4L930.8 1211.2L931.4 1211.8L932.0 1211.9L932.6 1212.9L933.2 1213.8L933.8 1216.8L934.4 1214.5L935.0 1215.8L935.6 1215.2L936.2 1216.2L936.8 1216.6L937.4 1219.3L938.0 1216.0L938.6 1216.9L939.2 1216.6L939.8 1218.0L940.4 1218.0L941.0 1217.0L941.6 1218.6L942.2 1218.8L942.8 1218.9L943.4 1218.8L944.0 1220.2L944.6 1219.8L945.2 1220.1L945.8 1220.4L946.4 1220.1L947.0 1220.8L947.6 1221.3L948.2 1221.0L948.8 1222.8L949.4 1221.2L950.0 1223.5L950.6 1222.6L951.2 1222.7L951.8 1223.9L952.4 1224.1L953.0 1225.5L953.6 1224.2L954.2 1224.5L954.8 1226.1L955.4 1228.1L956.0 1225.5L956.6 1228.3L957.2 1229.7L957.8 1227.3L958.4 1229.4L959.0 1228.3L959.6 1228.2L960.2 1228.6L960.8 1228.8L961.4 1228.4L962.0 1229.6L962.6 1229.2L963.2 1232.1L963.8 1231.7L964.4 1230.5L965.0 1230.7L965.6 1232.0L966.2 1234.1L966.8 1233.4L967.4 1232.7L968.0 1234.1L968.6 1231.0L969.2 1231.5L969.8 1234.0L970.4 1233.3L971.0 1234.8L971.6 1235.1L972.2 1236.2L972.8 1236.9L973.4 1236.9L974.0 1237.4L974.6 1239.4L975.2 1239.0L975.8 1239.4L976.4 1240.0L977.0 1240.1L977.6 1240.4L978.2 1243.5L978.8 1241.3L979.4 1243.3L980.0 1243.6L980.6 1243.9L981.2 1245.0L981.8 1247.8L982.4 1247.4L983.0 1245.7L983.6 1244.8L984.2 1247.1L984.8 1247.1L985.4 1246.8L986.0 1248.9L986.6 1248.2L987.2 1248.5L987.8 1251.2L988.4 1250.8L989.0 1250.0L989.6 1252.2L990.2 1251.3L990.8 1250.9L991.4 1251.2L992.0 1251.8L992.6 1252.2L993.2 1251.9L993.8 1252.7L994.4 1252.1L995.0 1252.2L995.6 1253.8L996.2 1253.9L996.8 1253.0L997.4 1251.8L998.0 1252.6L998.6 1251.3L999.2 1251.4L999.8 1251.9L1000.4 1253.0L1001.0 1254.6L1001.6 1253.2L1002.2 1252.1L1002.8 1251.6L1003.4 1253.3L1004.0 1253.9L1004.6 1252.7L1005.2 1254.4L1005.8 1254.9L1006.4 1254.0L1007.0 1254.5L1007.6 1254.0L1008.2 1253.8L1008.8 1255.5L1009.4 1256.2L1010.0 1255.9L1010.6 1256.4L1011.2 1258.2L1011.8 1257.6L1012.4 1260.7L1013.0 1259.0L1013.6 1260.1L1014.2 1259.1L1014.8 1259.4L1015.4 1259.6L1016.0 1259.5L1016.6 1262.2L1017.2 1262.1L1017.8 1261.0L1018.4 1262.1L1019.0 1262.4L1019.6 1261.8L1020.2 1262.8L1020.8 1262.1L1021.4 1263.2L1022.0 1264.1L1022.6 1263.4L1023.2 1265.0L1023.8 1264.6L1024.4 1262.7L1025.0 1264.6L1025.6 1264.3L1026.2 1264.3L1026.8 1263.4L1027.4 1265.7L1028.0 1264.1L1028.6 1266.0L1029.2 1266.0L1029.8 1266.8L1030.4 1265.4L1031.0 1267.1L1031.6 1265.3L1032.2 1267.9L1032.8 1266.9L1033.4 1266.6L1034.0 1266.8L1034.6 1267.6L1035.2 1266.0L1035.8 1267.0L1036.4 1266.3L1037.0 1266.9L1037.6 1266.2L1038.2 1267.1L1038.8 1268.0L1039.4 1266.3L1040.0 1267.3L1040.6 1268.4L1041.2 1267.9L1041.8 1268.7L1042.4 1266.5L1043.0 1267.1L1043.6 1268.1L1044.2 1269.4L1044.8 1267.8L1045.4 1269.2L1046.0 1267.4L1046.6 1269.8L1047.2 1267.4L1047.8 1270.0L1048.4 1268.1L1049.0 1268.5L1049.6 1268.2L1050.2 1269.1L1050.8 1271.8L1051.4 1270.5L1052.0 1270.1L1052.6 1270.3L1053.2 1272.0L1053.8 1270.4L1054.4 1272.7L1055.0 1273.2L1055.6 1273.0L1056.2 1274.0L1056.8 1274.2L1057.4 1275.4L1058.0 1275.4L1058.6 1276.7L1059.2 1275.9L1059.8 1277.1L1060.4 1277.2L1061.0 1276.8L1061.6 1276.9L1062.2 1279.3L1062.8 1276.2L1063.4 1276.1L1064.0 1279.5L1064.6 1279.8L1065.2 1279.8L1065.8 1280.5L1066.4 1279.5L1067.0 1279.7L1067.6 1278.8L1068.2 1279.2L1068.8 1280.3L1069.4 1278.8L1070.0 1277.2L1070.6 1276.7L1071.2 1278.7L1071.8 1276.4L1072.4 1276.9L1073.0 1276.7L1073.6 1279.6L1074.2 1277.0L1074.8 1276.8L1075.4 1278.0L1076.0 1277.5L1076.6 1275.3L1077.2 1276.9L1077.8 1275.1L1078.4 1277.7L1079.0 1278.4L1079.6 1277.8L1080.2 1280.0L1080.8 1275.9L1081.4 1280.1L1082.0 1278.5L1082.6 1279.2L1083.2 1278.6L1083.8 1279.3L1084.4 1279.9L1085.0 1278.3L1085.6 1279.0L1086.2 1278.7L1086.8 1278.6L1087.4 1280.0L1088.0 1279.3L1088.6 1280.1L1089.2 1279.2L1089.8 1279.4L1090.4 1281.4L1091.0 1280.0L1091.6 1277.9L1092.2 1278.0L1092.8 1279.1L1093.4 1279.5L1094.0 1278.0L1094.6 1277.4L1095.2 1278.5L1095.8 1280.2L1096.4 1279.2L1097.0 1278.5L1097.6 1278.9L1098.2 1278.5L1098.8 1280.0L1099.4 1278.0L1100.0 1279.3L1100.6 1280.3L1101.2 1279.5L1101.8 1280.7L1102.4 1281.0L1103.0 1281.8L1103.6 1280.1L1104.2 1279.2L1104.8 1278.9L1105.4 1280.1L1106.0 1278.4L1106.6 1281.2L1107.2 1279.1L1107.8 1279.0L1108.4 1279.3L1109.0 1280.1L1109.6 1279.2L1110.2 1280.0L1110.8 1279.3L1111.4 1280.2L1112.0 1281.1L1112.6 1278.9L1113.2 1279.7L1113.8 1278.2L1114.4 1279.8L1115.0 1281.6L1115.6 1281.2L1116.2 1282.3L1116.8 1280.9L1117.4 1279.9L1118.0 1282.2L1118.6 1283.6L1119.2 1281.8L1119.8 1281.4L1120.4 1281.1L1121.0 1283.0L1121.6 1284.4L1122.2 1282.2L1122.8 1283.3L1123.4 1283.4L1124.0 1285.1L1124.6 1284.3L1125.2 1286.2L1125.8 1284.3L1126.4 1285.2L1127.0 1285.6L1127.6 1285.5L1128.2 1286.2L1128.8 1286.2L1129.4 1287.1L1130.0 1286.4L1130.6 1286.7L1131.2 1286.3L1131.8 1287.9L1132.4 1287.7L1133.0 1285.6L1133.6 1288.1L1134.2 1288.7L1134.8 1286.3L1135.4 1287.2L1136.0 1288.4L1136.6 1288.1L1137.2 1287.6L1137.8 1289.5L1138.4 1287.9L1139.0 1288.7L1139.6 1289.9L1140.2 1288.1L1140.8 1289.4L1141.4 1288.0L1142.0 1288.6L1142.6 1289.5L1143.2 1289.1L1143.8 1289.4L1144.4 1289.7L1145.0 1289.5L1145.6 1290.9L1146.2 1292.2L1146.8 1290.4L1147.4 1289.2L1148.0 1290.7L1148.6 1291.0L1149.2 1292.5L1149.8 1292.5L1150.4 1291.1L1151.0 1292.8L1151.6 1291.4L1152.2 1293.7L1152.8 1294.8L1153.4 1292.5L1154.0 1294.3L1154.6 1293.5L1155.2 1293.6L1155.8 1294.5L1156.4 1294.9L1157.0 1294.2L1157.6 1294.2L1158.2 1294.4L1158.8 1295.5L1159.4 1297.1L1160.0 1295.9L1160.6 1292.8L1161.2 1295.1L1161.8 1292.9L1162.4 1296.1L1163.0 1295.4L1163.6 1295.8L1164.2 1295.8L1164.8 1294.9L1165.4 1294.5L1166.0 1295.9L1166.6 1294.3L1167.2 1295.1L1167.8 1293.7L1168.4 1293.8L1169.0 1295.0L1169.6 1294.2L1170.2 1294.0L1170.8 1295.1L1171.4 1292.3L1172.0 1293.4L1172.6 1294.5L1173.2 1296.2L1173.8 1295.8L1174.4 1295.7L1175.0 1294.8L1175.6 1296.0L1176.2 1295.5L1176.8 1294.4L1177.4 1295.2L1178.0 1298.4L1178.6 1296.8L1179.2 1297.0L1179.8 1298.2L1180.4 1298.5L1181.0 1298.1L1181.6 1298.2L1182.2 1297.8L1182.8 1301.1L1183.4 1300.2L1184.0 1299.8L1184.6 1300.0L1185.2 1299.3L1185.8 1301.6L1186.4 1303.0L1187.0 1300.2L1187.6 1301.1L1188.2 1302.9L1188.8 1301.1L1189.4 1300.1L1190.0 1299.4L1190.6 1301.9L1191.2 1301.0L1191.8 1302.0L1192.4 1300.2L1193.0 1301.9L1193.6 1300.8L1194.2 1299.3L1194.8 1301.1L1195.4 1300.6L1196.0 1299.1L1196.6 1300.7L1197.2 1299.5L1197.8 1299.0L1198.4 1299.1L1199.0 1299.0L1199.6 1299.7L1200.2 1299.0L1200.8 1298.7L1201.4 1298.9L1202.0 1299.6L1202.6 1299.7L1203.2 1298.9L1203.8 1299.6L1204.4 1299.0L1205.0 1298.1L1205.6 1300.2L1206.2 1301.9L1206.8 1300.8L1207.4 1301.1L1208.0 1300.3L1208.6 1301.2L1209.2 1303.1L1209.8 1301.8L1210.4 1302.6L1211.0 1302.6L1211.6 1305.7L1212.2 1305.5L1212.8 1305.4L1213.4 1306.4L1214.0 1305.5L1214.6 1305.4L1215.2 1305.8L1215.8 1306.2L1216.4 1306.8L1217.0 1304.1L1217.6 1303.7L1218.2 1306.5L1218.8 1305.4L1219.4 1306.0L1220.0 1306.1L1220.6 1303.1L1221.2 1305.3L1221.8 1304.6L1222.4 1304.2L1223.0 1304.1L1223.6 1307.5L1224.2 1304.5L1224.8 1303.2L1225.4 1304.8L1226.0 1304.2L1226.6 1304.8L1227.2 1302.8L1227.8 1303.6L1228.4 1301.7L1229.0 1303.2L1229.6 1301.7L1230.2 1302.2L1230.8 1301.2L1231.4 1301.1L1232.0 1301.6L1232.6 1301.2L1233.2 1300.2L1233.8 1303.2L1234.4 1301.4L1235.0 1300.4L1235.6 1299.7L1236.2 1301.6L1236.8 1302.2L1237.4 1299.8L1238.0 1301.3L1238.6 1302.3L1239.2 1301.5L1239.8 1301.9L1240.4 1303.6L1241.0 1300.9L1241.6 1300.7L1242.2 1302.1L1242.8 1302.6L1243.4 1304.8L1244.0 1305.2L1244.6 1303.0L1245.2 1304.3L1245.8 1303.7L1246.4 1304.2L1247.0 1306.4L1247.6 1304.1L1248.2 1306.6L1248.8 1305.4L1249.4 1306.9L1250.0 1304.8L1250.6 1303.6L1251.2 1308.4L1251.8 1309.9L1252.4 1308.7L1253.0 1306.5L1253.6 1306.6L1254.2 1306.7L1254.8 1306.6L1255.4 1309.5L1256.0 1307.4L1256.6 1308.9L1257.2 1306.9L1257.8 1308.4L1258.4 1305.6L1259.0 1305.7L1259.6 1305.6L1260.2 1308.4L1260.8 1309.6L1261.4 1306.8L1262.0 1307.8L1262.6 1306.5L1263.2 1306.7L1263.8 1305.5L1264.4 1310.2L1265.0 1307.0L1265.6 1306.8L1266.2 1308.1L1266.8 1308.1L1267.4 1308.5L1268.0 1308.1L1268.6 1311.6L1269.2 1309.7L1269.8 1310.2L1270.4 1309.8L1271.0 1308.8L1271.6 1310.5L1272.2 1310.2L1272.8 1311.7L1273.4 1311.6L1274.0 1310.2L1274.6 1312.5L1275.2 1311.0L1275.8 1313.5L1276.4 1310.9L1277.0 1312.0L1277.6 1312.2L1278.2 1311.4L1278.8 1312.9L1279.4 1312.2L1280.0 1312.6L1280.6 1316.7L1281.2 1314.5L1281.8 1312.0L1282.4 1314.6L1283.0 1312.7L1283.6 1311.6L1284.2 1312.3L1284.8 1316.0L1285.4 1310.8L1286.0 1312.3L1286.6 1312.0L1287.2 1312.5L1287.8 1315.3L1288.4 1313.1L1289.0 1315.2L1289.6 1311.7L1290.2 1314.6L1290.8 1311.9L1291.4 1313.7L1292.0 1311.5L1292.6 1314.4L1293.2 1315.4L1293.8 1310.5L1294.4 1310.8L1295.0 1313.2L1295.6 1312.6L1296.2 1309.5L1296.8 1311.7L1297.4 1313.8L1298.0 1316.6L1298.6 1312.1L1299.2 1311.9L1299.8 1314.9L1300.4 1314.2L1301.0 1313.8L1301.6 1314.7L1302.2 1314.2L1302.8 1317.2L1303.4 1312.6L1304.0 1316.3L1304.6 1317.9L1305.2 1317.7L1305.8 1312.4L1306.4 1317.0L1307.0 1315.6L1307.6 1321.5L1308.2 1321.4L1308.8 1319.3L1309.4 1318.1L1310.0 1320.6L1310.6 1320.6L1311.2 1315.8L1311.8 1322.6L1312.4 1320.0L1313.0 1317.2L1313.6 1322.1L1314.2 1317.6L1314.8 1321.4L1315.4 1323.6L1316.0 1324.1L1316.6 1322.4L1317.2 1320.4L1317.8 1324.0L1318.4 1324.3L1319.0 1325.9L1319.6 1320.4L1320.2 1323.3L1320.8 1323.8L1321.4 1323.0L1322.0 1323.3L1322.6 1324.3L1323.2 1322.2L1323.8 1324.3L1324.4 1325.6L1325.0 1321.5L1325.6 1325.2L1326.2 1324.2L1326.8 1325.8L1327.4 1327.9L1328.0 1324.2L1328.6 1323.0L1329.2 1327.9L1329.8 1325.3L1330.4 1321.7L1331.0 1326.4L1331.6 1325.7L1332.2 1322.4L1332.8 1324.9L1333.4 1325.9L1334.0 1322.4L1334.6 1325.1L1335.2 1324.3L1335.8 1325.4L1336.4 1327.0L1337.0 1324.6L1337.6 1324.3L1338.2 1326.9L1338.8 1326.0L1339.4 1329.2L1340.0 1324.7L1340.6 1323.3L1341.2 1329.0L1341.8 1326.2L1342.4 1325.8L1343.0 1327.1L1343.6 1330.4L1344.2 1324.5L1344.8 1322.3L1345.4 1325.6L1346.0 1325.9L1346.6 1330.0L1347.2 1327.7L1347.8 1329.2L1348.4 1328.7L1349.0 1326.8L1349.6 1331.7L1350.2 1330.4L1350.8 1332.8L1351.4 1329.8L1352.0 1327.6L1352.6 1331.2L1353.2 1333.0L1353.8 1330.6L1354.4 1327.9L1355.0 1329.6L1355.6 1332.5L1356.2 1332.6L1356.8 1327.9L1357.4 1328.5L1358.0 1325.0L1358.6 1329.1L1359.2 1329.2L1359.8 1335.8L1360.4 1328.7L1361.0 1331.9L1361.6 1328.9L1362.2 1327.3L1362.8 1330.0L1363.4 1331.5L1364.0 1326.2L1364.6 1329.6L1365.2 1330.8L1365.8 1326.6L1366.4 1329.6L1367.0 1329.5L1367.6 1330.9L1368.2 1334.2L1368.8 1329.2L1369.4 1329.6L1370.0 1332.9L1370.6 1332.4L1371.2 1332.4L1371.8 1328.7L1372.4 1333.6L1373.0 1333.9L1373.6 1334.0L1374.2 1333.7L1374.8 1334.4L1375.4 1334.8L1376.0 1338.8L1376.6 1337.6L1377.2 1338.6L1377.8 1338.1L1378.4 1339.2L1379.0 1336.9L1379.6 1341.4L1380.2 1340.0L1380.8 1341.4L1381.4 1339.5L1382.0 1340.4L1382.6 1341.1L1383.2 1340.0L1383.8 1338.3L1384.4 1340.6L1385.0 1343.0L1385.6 1341.5L1386.2 1338.4L1386.8 1341.0L1387.4 1341.9L1388.0 1340.8L1388.6 1338.7L1389.2 1337.3L1389.8 1341.9L1390.4 1340.3L1391.0 1345.4L1391.6 1340.5L1392.2 1340.8L1392.8 1338.0L1393.4 1340.4L1394.0 1342.7L1394.6 1339.7L1395.2 1338.9L1395.8 1336.1L1396.4 1339.5L1397.0 1334.8L1397.6 1341.0L1398.2 1341.9L1398.8 1338.1L1399.4 1339.6L1400.0 1340.3L1400.6 1337.4L1401.2 1338.9L1401.8 1340.7L1402.4 1339.8L1403.0 1343.8L1403.6 1344.1L1404.2 1343.2L1404.8 1344.9L1405.4 1341.0L1406.0 1344.6L1406.6 1345.2L1407.2 1345.6L1407.8 1345.0L1408.4 1346.1L1409.0 1348.3L1409.6 1346.2L1410.2 1343.9L1410.8 1347.0L1411.4 1347.0L1412.0 1345.6L1412.6 1349.2L1413.2 1350.6L1413.8 1350.6L1414.4 1349.9L1415.0 1349.7L1415.6 1346.5L1416.2 1347.6L1416.8 1351.2L1417.4 1346.2L1418.0 1348.4L1418.6 1352.3L1419.2 1347.3L1419.8 1350.0L1420.4 1351.7L1421.0 1347.3L1421.6 1345.3L1422.2 1346.8L1422.8 1349.7L1423.4 1348.1L1424.0 1351.4L1424.6 1351.3L1425.2 1346.4L1425.8 1349.5L1426.4 1348.4L1427.0 1349.1L1427.6 1347.2L1428.2 1346.6L1428.8 1347.5L1429.4 1350.1L1430.0 1348.4L1430.6 1349.1L1431.2 1349.5L1431.8 1349.2L1432.4 1348.2L1433.0 1346.3L1433.6 1349.5L1434.2 1350.8L1434.8 1350.4L1435.4 1349.3L1436.0 1353.1L1436.6 1349.7L1437.2 1353.0L1437.8 1354.2L1438.4 1353.8L1439.0 1354.2L1439.6 1353.5L1440.2 1352.4L1440.8 1350.7L1441.4 1354.6L1442.0 1355.2L1442.6 1351.8L1443.2 1359.1L1443.8 1356.7L1444.4 1356.8L1445.0 1356.7L1445.6 1356.6L1446.2 1358.2L1446.8 1358.1L1447.4 1355.5L1448.0 1357.6L1448.6 1359.2L1449.2 1357.7L1449.8 1361.2L1450.4 1360.2L1451.0 1360.2L1451.6 1360.4L1452.2 1361.6L1452.8 1354.7L1453.4 1356.7L1454.0 1359.2L1454.6 1358.0L1455.2 1358.9L1455.8 1358.3L1456.4 1355.9L1457.0 1361.3L1457.6 1362.3L1458.2 1360.3L1458.8 1358.0L1459.4 1358.6L1460.0 1362.9L1460.6 1359.4L1461.2 1362.6L1461.8 1361.3L1462.4 1362.5L1463.0 1361.1L1463.6 1360.4L1464.2 1359.8L1464.8 1358.6L1465.4 1359.4L1466.0 1360.5L1466.6 1358.8L1467.2 1362.0L1467.8 1360.2L1468.4 1361.5L1469.0 1361.9L1469.6 1357.3L1470.2 1362.0L1470.8 1360.7L1471.4 1363.0L1472.0 1360.7L1472.6 1360.5L1473.2 1358.3L1473.8 1356.7L1474.4 1360.8L1475.0 1360.6L1475.6 1359.7L1476.2 1363.5L1476.8 1360.2L1477.4 1360.3L1478.0 1364.1L1478.6 1359.7L1479.2 1358.5L1479.8 1366.1L1480.4 1362.2L1481.0 1364.1L1481.6 1359.2L1482.2 1361.1L1482.8 1362.8L1483.4 1358.7L1484.0 1359.3L1484.6 1358.9L1485.2 1362.1L1485.8 1359.4L1486.4 1358.9L1487.0 1358.3L1487.6 1359.6L1488.2 1362.7L1488.8 1357.0L1489.4 1361.7L1490.0 1361.9L1490.6 1360.2L1491.2 1359.3L1491.8 1359.5L1492.4 1363.5L1493.0 1362.8L1493.6 1361.7L1494.2 1361.3L1494.8 1358.8L1495.4 1356.8L1496.0 1359.0L1496.6 1360.3L1497.2 1361.1L1497.8 1356.1L1498.4 1356.7L1499.0 1356.9L1499.6 1360.8L1500.2 1358.8L1500.8 1358.5L1501.4 1356.1L1502.0 1359.4L1502.6 1357.4L1503.2 1356.5L1503.8 1356.2L1504.4 1356.6L1505.0 1360.4L1505.6 1356.9L1506.2 1355.4L1506.8 1357.7L1507.4 1359.2L1508.0 1355.3L1508.6 1359.0L1509.2 1352.7L1509.8 1359.9L1510.4 1359.8L1511.0 1355.6L1511.6 1358.7L1512.2 1360.4L1512.8 1362.3L1513.4 1361.4L1514.0 1359.7L1514.6 1362.4L1515.2 1361.0L1515.8 1361.0L1516.4 1365.2L1517.0 1363.8L1517.6 1363.2L1518.2 1359.0L1518.8 1360.0L1519.4 1359.1L1520.0 1364.3L1520.6 1362.9L1521.2 1363.4L1521.8 1363.8L1522.4 1360.8L1523.0 1358.4L1523.6 1360.5L1524.2 1362.9L1524.8 1362.5L1525.4 1361.8L1526.0 1363.9L1526.6 1360.1L1527.2 1365.3L1527.8 1359.7L1528.4 1360.7L1529.0 1357.9L1529.6 1362.3L1530.2 1365.6L1530.8 1364.6L1531.4 1364.0L1532.0 1366.4L1532.6 1364.2L1533.2 1363.3L1533.8 1361.8L1534.4 1361.1L1535.0 1365.7L1535.6 1361.8L1536.2 1363.2L1536.8 1363.9L1537.4 1364.1L1538.0 1366.4L1538.6 1363.9L1539.2 1363.9L1539.8 1366.6L1540.4 1364.4L1541.0 1365.2L1541.6 1367.3L1542.2 1365.7L1542.8 1364.5L1543.4 1368.4L1544.0 1364.9L1544.6 1367.3L1545.2 1366.4L1545.8 1367.7L1546.4 1368.6L1547.0 1368.3L1547.6 1365.9L1548.2 1367.6L1548.8 1366.2L1549.4 1370.8L1550.0 1367.9L1550.6 1370.1L1551.2 1363.1L1551.8 1369.4L1552.4 1368.4L1553.0 1369.5L1553.6 1366.4L1554.2 1367.3L1554.8 1368.4L1555.4 1369.4L1556.0 1369.2L1556.6 1371.6L1557.2 1371.6L1557.8 1374.2L1558.4 1368.7L1559.0 1369.2L1559.6 1373.4L1560.2 1371.7L1560.8 1370.5L1561.4 1372.3L1562.0 1373.4L1562.6 1369.7L1563.2 1375.2L1563.8 1371.3L1564.4 1375.8L1565.0 1375.5L1565.6 1371.8L1566.2 1373.8L1566.8 1374.4L1567.4 1373.8L1568.0 1373.1L1568.6 1373.5L1569.2 1376.7L1569.8 1374.8L1570.4 1372.3L1571.0 1374.5L1571.6 1374.5L1572.2 1376.3L1572.8 1377.7L1573.4 1371.2L1574.0 1377.2L1574.6 1374.8L1575.2 1376.0L1575.8 1376.8L1576.4 1374.3L1577.0 1374.4L1577.6 1377.1L1578.2 1376.6L1578.8 1375.9L1579.4 1376.5L1580.0 1374.0L1580.6 1373.0L1581.2 1374.4L1581.8 1374.3L1582.4 1377.7L1583.0 1371.2L1583.6 1369.1L1584.2 1373.4L1584.8 1374.2L1585.4 1371.5L1586.0 1377.4L1586.6 1374.9L1587.2 1371.3L1587.8 1373.4L1588.4 1373.1L1589.0 1375.6L1589.6 1373.8L1590.2 1378.2L1590.8 1374.4L1591.4 1371.9L1592.0 1374.5L1592.6 1375.0L1593.2 1377.3L1593.8 1374.3L1594.4 1370.9L1595.0 1370.2L1595.6 1377.8L1596.2 1373.0L1596.8 1372.7L1597.4 1374.7L1598.0 1375.6L1598.6 1376.6L1599.2 1377.4L1599.8 1375.6L1600.4 1372.2L1601.0 1376.8L1601.6 1371.6L1602.2 1375.9L1602.8 1378.3L1603.4 1377.7L1604.0 1371.6L1604.6 1376.7L1605.2 1375.1L1605.8 1370.7L1606.4 1375.1L1607.0 1375.2L1607.6 1373.7L1608.2 1374.6L1608.8 1378.3L1609.4 1377.1L1610.0 1377.8L1610.6 1373.7L1611.2 1378.5L1611.8 1381.5L1612.4 1377.8L1613.0 1375.8L1613.6 1375.0L1614.2 1376.8L1614.8 1374.1L1615.4 1378.1L1616.0 1376.2L1616.6 1377.2L1617.2 1376.4L1617.8 1376.3L1618.4 1374.5L1619.0 1377.5L1619.6 1373.2L1620.2 1376.3L1620.8 1376.8L1621.4 1380.1L1622.0 1380.1L1622.6 1377.2L1623.2 1379.6L1623.8 1376.5L1624.4 1376.2L1625.0 1377.0L1625.6 1379.1L1626.2 1377.8L1626.8 1374.7L1627.4 1380.2L1628.0 1379.3L1628.6 1380.0L1629.2 1379.9L1629.8 1378.2L1630.4 1381.3L1631.0 1380.2L1631.6 1380.8L1632.2 1380.2L1632.8 1384.3L1633.4 1381.9L1634.0 1384.9L1634.6 1383.7L1635.2 1379.4L1635.8 1383.6L1636.4 1384.6L1637.0 1382.5L1637.6 1380.6L1638.2 1385.6L1638.8 1383.5L1639.4 1381.5L1640.0 1385.7L1640.6 1385.5L1641.2 1388.7L1641.8 1384.0L1642.4 1385.2L1643.0 1384.3L1643.6 1386.4L1644.2 1384.2L1644.8 1382.9L1645.4 1383.7L1646.0 1383.5L1646.6 1387.3L1647.2 1386.6L1647.8 1387.1L1648.4 1382.6L1649.0 1386.4L1649.6 1384.8L1650.2 1382.9L1650.8 1388.6L1651.4 1384.9L1652.0 1387.2L1652.6 1388.7L1653.2 1382.8L1653.8 1382.5L1654.4 1388.2L1655.0 1384.1L1655.6 1388.6L1656.2 1384.0L1656.8 1385.1L1657.4 1391.1L1658.0 1390.7L1658.6 1388.9L1659.2 1389.7L1659.8 1385.9L1660.4 1387.9L1661.0 1384.6L1661.6 1392.7L1662.2 1389.5L1662.8 1385.3L1663.4 1387.8L1664.0 1393.1L1664.6 1390.9L1665.2 1391.0L1665.8 1390.0L1666.4 1387.9L1667.0 1385.6L1667.6 1390.4L1668.2 1389.8L1668.8 1391.3L1669.4 1389.4L1670.0 1388.6L1670.6 1387.4L1671.2 1387.6L1671.8 1390.1L1672.4 1393.6L1673.0 1387.6L1673.6 1390.7L1674.2 1391.7L1674.8 1387.1L1675.4 1389.7L1676.0 1389.3L1676.6 1389.6L1677.2 1390.1L1677.8 1389.2L1678.4 1389.2L1679.0 1384.6L1679.6 1389.6L1680.2 1391.7L1680.8 1391.0L1681.4 1393.2L1682.0 1394.7L1682.6 1392.3L1683.2 1387.7L1683.8 1393.9L1684.4 1394.2L1685.0 1391.0L1685.6 1390.6L1686.2 1392.5L1686.8 1396.1L1687.4 1393.8L1688.0 1395.7L1688.6 1393.4L1689.2 1392.5L1689.8 1393.9L1690.4 1395.3L1691.0 1393.9L1691.6 1393.8L1692.2 1394.3L1692.8 1397.5L1693.4 1401.1L1694.0 1398.9L1694.6 1397.0L1695.2 1392.2L1695.8 1398.3L1696.4 1394.6L1697.0 1392.9L1697.6 1392.2L1698.2 1394.9L1698.8 1392.0L1699.4 1393.9L1700.0 1397.3L1700.6 1397.1L1701.2 1393.6L1701.8 1391.3L1702.4 1392.6L1703.0 1396.6L1703.6 1395.7L1704.2 1397.2L1704.8 1391.3L1705.4 1395.6L1706.0 1397.5L1706.6 1395.0L1707.2 1393.7L1707.8 1394.0L1708.4 1392.7L1709.0 1390.5L1709.6 1396.9L1710.2 1391.4L1710.8 1395.1L1711.4 1392.9L1712.0 1391.8L1712.6 1396.7L1713.2 1392.6L1713.8 1389.3L1714.4 1395.7L1715.0 1397.0L1715.6 1397.2L1716.2 1395.8L1716.8 1397.4L1717.4 1393.5L1718.0 1396.1L1718.6 1395.1L1719.2 1391.9L1719.8 1395.8L1720.4 1396.0L1721.0 1393.7L1721.6 1391.6L1722.2 1395.0L1722.8 1395.8L1723.4 1394.7L1724.0 1397.0L1724.6 1397.9L1725.2 1399.3L1725.8 1398.8L1726.4 1400.5L1727.0 1396.0L1727.6 1401.1L1728.2 1398.8L1728.8 1395.8L1729.4 1400.8L1730.0 1400.0L1730.6 1400.0L1731.2 1404.7L1731.8 1405.2L1732.4 1404.9L1733.0 1403.8L1733.6 1401.7L1734.2 1402.3L1734.8 1396.6L1735.4 1401.7L1736.0 1400.5L1736.6 1406.1L1737.2 1398.4L1737.8 1402.3L1738.4 1402.0L1739.0 1407.7L1739.6 1400.6L1740.2 1402.9L1740.8 1401.1L1741.4 1402.8L1742.0 1401.5L1742.6 1404.0L1743.2 1401.0L1743.8 1406.4L1744.4 1404.3L1745.0 1405.2L1745.6 1404.7L1746.2 1404.8L1746.8 1404.1L1747.4 1402.6L1748.0 1404.0L1748.6 1401.1L1749.2 1405.3L1749.8 1402.9L1750.4 1402.0L1751.0 1402.2L1751.6 1400.8L1752.2 1405.8L1752.8 1401.6L1753.4 1403.9L1754.0 1404.7L1754.6 1405.2L1755.2 1405.5L1755.8 1401.7L1756.4 1401.4L1757.0 1403.7L1757.6 1404.3L1758.2 1400.5L1758.8 1404.0L1759.4 1404.3L1760.0 1403.4L1760.6 1401.4L1761.2 1403.5L1761.8 1402.7L1762.4 1396.6L1763.0 1404.6L1763.6 1400.9L1764.2 1405.0L1764.8 1400.1L1765.4 1400.1L1766.0 1397.0L1766.6 1402.5L1767.2 1400.9L1767.8 1401.4L1768.4 1399.3L1769.0 1399.6L1769.6 1399.6L1770.2 1398.3L1770.8 1400.3L1771.4 1402.6L1772.0 1402.7L1772.6 1399.6L1773.2 1402.0L1773.8 1402.5L1774.4 1400.3L1775.0 1405.2L1775.6 1404.2L1776.2 1401.0L1776.8 1406.4L1777.4 1401.0L1778.0 1405.7L1778.6 1405.5L1779.2 1400.9L1779.8 1405.9L1780.4 1407.3L1781.0 1402.4L1781.6 1404.6L1782.2 1404.5L1782.8 1403.7L1783.4 1405.9L1784.0 1403.4L1784.6 1405.9L1785.2 1406.0L1785.8 1402.9L1786.4 1408.9L1787.0 1408.9L1787.6 1408.9L1788.2 1408.9L1788.8 1408.9L1789.4 1408.9L1790.0 1408.9L1790.6 1408.9L1791.2 1408.9L1791.8 1408.9L1792.4 1408.9L1793.0 1408.9L1793.6 1408.9L1794.2 1408.9L1794.8 1408.9"/>
<path class="c" stroke="#686868" stroke-width="7.2" stroke-dasharray="0.01 13.7" stroke-dashoffset="5.3" d="M405.2 1408.9L405.8 1408.9L406.4 1408.9L407.0 1408.9L407.6 1408.9L408.2 1408.9L408.8 1408.9L409.4 1408.9L410.0 1408.9L410.6 1408.9L411.2 1408.9L411.8 1408.9L412.4 1408.9L413.0 1408.9L413.6 1408.9L414.2 1408.9L414.8 1408.9L415.4 1408.9L416.0 1408.9L416.6 1408.9L417.2 1408.9L417.8 1408.9L418.4 1408.9L419.0 1408.9L419.6 1408.9L420.2 1408.9L420.8 1408.9L421.4 1408.9L422.0 1408.9L422.6 1408.9L423.2 1408.9L423.8 1408.9L424.4 1408.9L425.0 1408.9L425.6 1408.9L426.2 1408.9L426.8 1408.9L427.4 1408.9L428.0 1408.9L428.6 1408.9L429.2 1408.9L429.8 1408.9L430.4 1408.9L431.0 1408.9L431.6 1408.9L432.2 1408.9L432.8 1408.9L433.4 1408.9L434.0 1408.9L434.6 1408.9L435.2 1408.9L435.8 1408.9L436.4 1408.9L437.0 1408.9L437.6 1408.9L438.2 1408.9L438.8 1408.9L439.4 1408.9L440.0 1408.9L440.6 1408.9L441.2 1405.5L441.8 1404.7L442.4 1404.1L443.0 1405.6L443.6 1403.0L444.2 1402.2L444.8 1400.7L445.4 1395.1L446.0 1388.3L446.6 1381.8L447.2 1377.4L447.8 1372.8L448.4 1368.7L449.0 1365.6L449.6 1360.1L450.2 1357.0L450.8 1351.9L451.4 1346.0L452.0 1339.9L452.6 1330.6L453.2 1324.7L453.8 1316.8L454.4 1308.4L455.0 1300.2L455.6 1291.9L456.2 1281.5L456.8 1272.1L457.4 1265.0L458.0 1252.9L458.6 1242.5L459.2 1235.9L459.8 1227.7L460.4 1219.1L461.0 1207.2L461.6 1191.3L462.2 1176.1L462.8 1162.8L463.4 1144.7L464.0 1135.7L464.6 1125.0L465.2 1114.0L465.8 1106.1L466.4 1095.3L467.0 1084.3L467.6 1074.5L468.2 1062.8L468.8 1051.4L469.4 1041.9L470.0 1031.4L470.6 1021.0L471.2 1005.0L471.8 988.5L472.4 979.9L473.0 967.0L473.6 956.0L474.2 943.1L474.8 927.0L475.4 914.1L476.0 901.5L476.6 887.3L477.2 875.5L477.8 864.0L478.4 855.9L479.0 844.8L479.6 833.6L480.2 826.3L480.8 818.2L481.4 812.9L482.0 805.2L482.6 793.0L483.2 787.6L483.8 776.1L484.4 763.9L485.0 755.7L485.6 747.6L486.2 741.8L486.8 737.7L487.4 732.1L488.0 725.9L488.6 721.1L489.2 713.1L489.8 705.0L490.4 697.1L491.0 692.3L491.6 684.8L492.2 678.8L492.8 674.4L493.4 667.9L494.0 662.4L494.6 657.4L495.2 654.5L495.8 649.9L496.4 645.1L497.0 641.1L497.6 638.7L498.2 632.5L498.8 625.9L499.4 620.9L500.0 613.6L500.6 607.7L501.2 604.2L501.8 600.1L502.4 596.7L503.0 590.5L503.6 587.0L504.2 582.7L504.8 578.0L505.4 571.5L506.0 565.5L506.6 560.4L507.2 558.9L507.8 553.8L508.4 551.7L509.0 548.4L509.6 543.7L510.2 541.6L510.8 537.3L511.4 530.7L512.0 526.9L512.6 522.1L513.2 515.4L513.8 512.3L514.4 509.7L515.0 505.4L515.6 502.2L516.2 496.9L516.8 495.0L517.4 491.7L518.0 489.4L518.6 486.4L519.2 485.3L519.8 484.1L520.4 482.7L521.0 480.2L521.6 479.9L522.2 477.2L522.8 476.8L523.4 477.0L524.0 475.8L524.6 473.1L525.2 469.8L525.8 470.4L526.4 470.8L527.0 468.3L527.6 466.5L528.2 465.1L528.8 461.6L529.4 457.1L530.0 454.9L530.6 450.8L531.2 450.7L531.8 449.8L532.4 447.2L533.0 445.4L533.6 444.1L534.2 443.7L534.8 443.6L535.4 441.7L536.0 437.2L536.6 438.8L537.2 440.8L537.8 437.6L538.4 436.7L539.0 435.7L539.6 433.4L540.2 430.9L540.8 433.3L541.4 428.5L542.0 430.3L542.6 428.2L543.2 426.9L543.8 423.7L544.4 424.5L545.0 421.6L545.6 420.1L546.2 418.1L546.8 416.4L547.4 413.3L548.0 411.7L548.6 410.6L549.2 406.8L549.8 402.0L550.4 400.8L551.0 395.6L551.6 392.2L552.2 392.1L552.8 387.4L553.4 382.9L554.0 382.5L554.6 379.4L555.2 377.3L555.8 374.4L556.4 369.5L557.0 368.2L557.6 368.5L558.2 364.0L558.8 362.3L559.4 360.2L560.0 358.0L560.6 357.7L561.2 355.7L561.8 353.5L562.4 351.6L563.0 348.9L563.6 348.8L564.2 348.6L564.8 347.1L565.4 344.0L566.0 344.5L566.6 343.1L567.2 341.5L567.8 339.2L568.4 339.0L569.0 338.7L569.6 336.9L570.2 335.6L570.8 336.1L571.4 335.3L572.0 333.8L572.6 335.1L573.2 334.6L573.8 333.7L574.4 330.9L575.0 333.6L575.6 332.6L576.2 328.8L576.8 330.5L577.4 332.4L578.0 332.5L578.6 328.2L579.2 330.7L579.8 330.6L580.4 331.4L581.0 332.2L581.6 334.0L582.2 333.1L582.8 333.8L583.4 333.2L584.0 336.1L584.6 336.2L585.2 336.4L585.8 338.2L586.4 337.8L587.0 337.3L587.6 338.4L588.2 342.1L588.8 341.2L589.4 341.7L590.0 345.3L590.6 341.4L591.2 342.7L591.8 342.9L592.4 342.9L593.0 344.3L593.6 343.5L594.2 344.0L594.8 340.0L595.4 343.7L596.0 343.7L596.6 343.8L597.2 341.8L597.8 342.7L598.4 341.5L599.0 340.5L599.6 346.0L600.2 344.2L600.8 344.4L601.4 345.9L602.0 343.5L602.6 344.5L603.2 348.0L603.8 347.0L604.4 349.5L605.0 347.7L605.6 348.7L606.2 345.8L606.8 345.4L607.4 344.1L608.0 344.6L608.6 343.1L609.2 341.2L609.8 340.8L610.4 342.2L611.0 339.4L611.6 339.6L612.2 337.6L612.8 338.3L613.4 336.3L614.0 337.2L614.6 334.7L615.2 334.3L615.8 330.9L616.4 331.9L617.0 327.0L617.6 329.9L618.2 327.4L618.8 327.0L619.4 321.9L620.0 322.4L620.6 318.7L621.2 319.0L621.8 317.1L622.4 315.0L623.0 312.5L623.6 313.7L624.2 312.2L624.8 309.3L625.4 309.1L626.0 306.4L626.6 304.3L627.2 302.2L627.8 302.5L628.4 298.2L629.0 297.4L629.6 295.1L630.2 292.3L630.8 292.1L631.4 288.5"/>
<path class="c" stroke="#686868" stroke-width="7.2" stroke-dasharray="0.01 13.7" stroke-dashoffset="12.1" d="M631.4 288.5L632.0 291.5L632.6 288.7L633.2 291.1L633.8 292.7L634.4 294.5L635.0 296.4L635.6 294.9L636.2 296.8L636.8 297.0L637.4 299.9L638.0 303.2L638.6 306.5L639.2 307.2L639.8 309.3L640.4 308.8L641.0 312.7L641.6 313.0L642.2 315.1L642.8 318.5L643.4 318.5L644.0 319.7L644.6 320.5L645.2 323.4L645.8 325.9L646.4 331.2L647.0 331.7L647.6 336.9L648.2 340.7L648.8 340.0L649.4 340.0L650.0 344.0L650.6 348.6L651.2 348.4L651.8 350.9L652.4 355.3L653.0 357.3L653.6 357.8L654.2 366.2L654.8 365.3L655.4 370.1L656.0 372.6L656.6 374.8L657.2 374.9L657.8 380.9L658.4 382.4L659.0 382.6L659.6 388.2L660.2 390.9L660.8 394.5L661.4 394.0L662.0 395.7L662.6 400.4L663.2 403.8L663.8 404.7L664.4 407.3L665.0 411.6L665.6 415.9L666.2 419.8L666.8 424.6L667.4 425.9L668.0 432.2L668.6 435.2L669.2 435.7L669.8 440.8L670.4 440.9L671.0 443.2L671.6 448.7L672.2 449.3L672.8 456.7L673.4 456.9L674.0 461.6L674.6 465.7L675.2 467.5L675.8 470.9L676.4 472.4L677.0 476.7L677.6 480.6L678.2 482.3L678.8 486.6L679.4 488.2L680.0 492.3L680.6 494.4L681.2 499.7L681.8 503.0L682.4 510.3L683.0 515.7L683.6 516.8L684.2 524.5L684.8 526.9L685.4 529.2L686.0 532.0L686.6 534.9L687.2 536.2L687.8 541.5L688.4 546.4L689.0 552.3L689.6 556.0L690.2 557.6L690.8 561.9L691.4 562.3L692.0 566.6L692.6 573.9L693.2 579.8L693.8 589.0L694.4 594.7L695.0 594.7L695.6 601.9L696.2 604.9L696.8 609.8L697.4 613.7L698.0 619.8L698.6 624.8L699.2 631.1L699.8 635.2L700.4 641.1L701.0 647.8L701.6 651.5L702.2 657.0L702.8 663.8L703.4 666.8L704.0 671.7L704.6 677.5L705.2 681.9L705.8 683.8L706.4 687.9L707.0 692.9L707.6 696.8L708.2 703.4L708.8 707.8L709.4 713.0L710.0 717.0L710.6 720.0L711.2 725.0L711.8 726.5L712.4 732.8L713.0 736.8L713.6 742.2L714.2 747.0L714.8 752.6L715.4 756.9L716.0 763.4L716.6 766.7L717.2 770.3L717.8 774.3L718.4 777.6L719.0 783.2L719.6 788.8L720.2 794.1L720.8 798.8L721.4 800.5L722.0 804.0L722.6 809.8L723.2 814.0L723.8 818.9L724.4 824.6L725.0 829.6L725.6 834.6L726.2 837.9L726.8 839.7L727.4 844.6L728.0 847.1L728.6 851.7L729.2 855.8L729.8 861.9L730.4 863.0L731.0 867.0L731.6 869.7L732.2 873.5L732.8 876.8L733.4 880.3L734.0 882.3L734.6 885.5L735.2 891.0L735.8 893.5L736.4 897.7L737.0 900.4L737.6 903.2L738.2 907.4L738.8 912.1L739.4 915.3L740.0 919.5L740.6 921.2L741.2 924.7L741.8 929.3L742.4 930.9L743.0 933.5L743.6 934.7L744.2 936.7L744.8 939.8L745.4 941.5L746.0 944.9L746.6 946.4L747.2 949.3L747.8 952.6L748.4 953.5L749.0 957.5L749.6 959.4L750.2 961.4L750.8 964.6L751.4 968.2L752.0 968.9L752.6 971.2L753.2 973.7L753.8 974.9L754.4 977.2L755.0 980.0L755.6 983.2L756.2 988.2L756.8 990.3L757.4 994.0L758.0 996.7L758.6 997.3L759.2 999.6L759.8 1000.4L760.4 1001.1L761.0 1002.5L761.6 1003.3L762.2 1003.4L762.8 1005.3L763.4 1008.4L764.0 1011.5L764.6 1013.6L765.2 1017.4L765.8 1019.2L766.4 1021.1L767.0 1022.8L767.6 1024.7L768.2 1026.0L768.8 1027.2L769.4 1029.6L770.0 1033.2L770.6 1034.7L771.2 1034.2L771.8 1035.6L772.4 1038.9L773.0 1038.5L773.6 1041.3L774.2 1041.4L774.8 1041.5L775.4 1045.4L776.0 1045.1L776.6 1048.5L777.2 1049.3L777.8 1051.5L778.4 1052.4L779.0 1054.9L779.6 1057.1L780.2 1057.6L780.8 1061.2L781.4 1062.7L782.0 1066.1L782.6 1066.3L783.2 1067.1L783.8 1068.1L784.4 1069.0L785.0 1071.0L785.6 1070.5L786.2 1072.4L786.8 1073.4L787.4 1073.2L788.0 1076.1L788.6 1077.0L789.2 1076.9L789.8 1079.2L790.4 1079.3L791.0 1081.6L791.6 1082.6L792.2 1085.7L792.8 1085.8L793.4 1086.8L794.0 1089.1L794.6 1090.3L795.2 1091.8L795.8 1093.8L796.4 1094.8L797.0 1096.2L797.6 1098.2L798.2 1099.3L798.8 1096.9L799.4 1099.4L800.0 1100.1L800.6 1100.8L801.2 1102.6L801.8 1103.1L802.4 1103.2L803.0 1103.1L803.6 1104.5L804.2 1103.9L804.8 1105.9L805.4 1104.8L806.0 1108.6L806.6 1106.6L807.2 1108.6L807.8 1108.2L808.4 1110.1L809.0 1109.3L809.6 1111.5L810.2 1112.3L810.8 1114.3L811.4 1115.8L812.0 1114.7L812.6 1118.5L813.2 1120.1L813.8 1119.8L814.4 1121.0L815.0 1124.3L815.6 1124.2L816.2 1125.1L816.8 1125.3L817.4 1126.9L818.0 1127.7L818.6 1130.0L819.2 1129.5L819.8 1131.0L820.4 1130.3L821.0 1130.6L821.6 1132.0L822.2 1132.6L822.8 1132.4L823.4 1133.4L824.0 1134.2L824.6 1135.3L825.2 1135.3L825.8 1136.1L826.4 1135.7L827.0 1136.1L827.6 1137.9L828.2 1137.6L828.8 1139.0L829.4 1137.8L830.0 1140.9L830.6 1141.1L831.2 1140.1L831.8 1142.2L832.4 1141.2L833.0 1143.8L833.6 1143.1L834.2 1145.5L834.8 1143.7L835.4 1145.8L836.0 1145.4L836.6 1147.1L837.2 1147.3L837.8 1146.5L838.4 1148.7L839.0 1150.0L839.6 1149.6L840.2 1150.4L840.8 1150.6L841.4 1151.9L842.0 1151.8L842.6 1152.0L843.2 1154.0L843.8 1153.8L844.4 1154.8L845.0 1156.6L845.6 1156.8L846.2 1156.8L846.8 1156.6L847.4 1157.8L848.0 1159.0L848.6 1159.2L849.2 1160.7L849.8 1159.8L850.4 1162.8L851.0 1162.4L851.6 1163.6L852.2 1164.0L852.8 1165.4L853.4 1164.9L854.0 1166.6L854.6 1165.7L855.2 1168.7L855.8 1167.8L856.4 1169.2L857.0 1169.5L857.6 1168.6L858.2 1171.1L858.8 1170.3L859.4 1170.6L860.0 1171.5L860.6 1173.1L861.2 1171.6L861.8 1174.4L862.4 1175.6L863.0 1173.9L863.6 1175.3L864.2 1175.7L864.8 1174.7L865.4 1176.4L866.0 1176.2L866.6 1177.0L867.2 1176.6L867.8 1178.0L868.4 1179.1L869.0 1180.1L869.6 1179.7L870.2 1179.4L870.8 1181.5L871.4 1180.3L872.0 1180.8L872.6 1182.4L873.2 1182.3L873.8 1182.0L874.4 1181.6L875.0 1182.1L875.6 1182.9L876.2 1182.1L876.8 1183.6L877.4 1183.6L878.0 1183.8L878.6 1183.8L879.2 1185.5L879.8 1184.8L880.4 1184.2L881.0 1184.7L881.6 1185.6L882.2 1186.6L882.8 1186.0L883.4 1187.2L884.0 1186.8L884.6 1186.4L885.2 1187.9L885.8 1188.9L886.4 1189.7L887.0 1188.6L887.6 1188.2L888.2 1190.8L888.8 1189.5L889.4 1190.7L890.0 1191.7L890.6 1191.4L891.2 1192.4L891.8 1191.3L892.4 1192.2L893.0 1193.2L893.6 1192.8L894.2 1192.2L894.8 1194.1L895.4 1193.4L896.0 1194.5L896.6 1194.8L897.2 1194.2L897.8 1195.6L898.4 1195.4L899.0 1196.8L899.6 1193.9L900.2 1195.3L900.8 1197.0L901.4 1195.9L902.0 1198.0L902.6 1196.1L903.2 1197.1L903.8 1197.7L904.4 1198.0L905.0 1198.4L905.6 1197.8L906.2 1197.8L906.8 1199.5L907.4 1200.6L908.0 1200.5L908.6 1200.4L909.2 1200.7L909.8 1201.0L910.4 1199.9L911.0 1201.6L911.6 1200.9L912.2 1202.2L912.8 1201.0L913.4 1202.5L914.0 1201.5L914.6 1202.3L915.2 1202.5L915.8 1202.3L916.4 1203.7L917.0 1203.4L917.6 1203.9L918.2 1204.5L918.8 1204.7L919.4 1204.6L920.0 1204.4L920.6 1203.9L921.2 1205.9L921.8 1204.0L922.4 1204.3L923.0 1205.6L923.6 1206.4L924.2 1205.2L924.8 1206.5L925.4 1205.9L926.0 1206.9L926.6 1207.7L927.2 1207.8L927.8 1207.4L928.4 1207.8L929.0 1208.6L929.6 1208.0L930.2 1207.9L930.8 1208.0L931.4 1207.5L932.0 1210.2L932.6 1208.6L933.2 1211.0L933.8 1209.7L934.4 1209.0L935.0 1210.6L935.6 1211.3L936.2 1212.3L936.8 1212.6L937.4 1212.4L938.0 1212.1L938.6 1213.3L939.2 1213.0L939.8 1213.3L940.4 1214.4L941.0 1215.2L941.6 1216.7L942.2 1214.7L942.8 1214.8L943.4 1214.9L944.0 1215.2L944.6 1216.2L945.2 1217.2L945.8 1216.9L946.4 1218.6L947.0 1218.8L947.6 1217.3L948.2 1217.6L948.8 1218.3L949.4 1219.3L950.0 1218.9L950.6 1219.0L951.2 1220.2L951.8 1221.5L952.4 1221.4L953.0 1220.5L953.6 1221.0L954.2 1221.5L954.8 1220.2L955.4 1221.2L956.0 1222.4L956.6 1222.7L957.2 1221.7L957.8 1222.0L958.4 1222.3L959.0 1221.5L959.6 1224.8L960.2 1222.9L960.8 1223.2L961.4 1224.9L962.0 1223.4L962.6 1224.4L963.2 1223.7L963.8 1222.3L964.4 1223.2L965.0 1225.2L965.6 1223.8L966.2 1224.3L966.8 1222.9L967.4 1223.9L968.0 1223.8L968.6 1224.9L969.2 1224.5L969.8 1223.2L970.4 1225.2L971.0 1223.6L971.6 1224.7L972.2 1224.4L972.8 1225.1L973.4 1225.5L974.0 1223.3L974.6 1223.8L975.2 1224.8L975.8 1225.0L976.4 1224.7L977.0 1225.5L977.6 1225.8L978.2 1226.0L978.8 1226.3L979.4 1226.4L980.0 1227.1L980.6 1226.5L981.2 1226.0L981.8 1227.8L982.4 1227.8L983.0 1228.3L983.6 1228.8L984.2 1228.4L984.8 1227.8L985.4 1228.0L986.0 1226.6L986.6 1227.6L987.2 1227.9L987.8 1227.3L988.4 1230.3L989.0 1228.3L989.6 1229.1L990.2 1229.1L990.8 1229.2L991.4 1230.0L992.0 1229.1L992.6 1229.0L993.2 1230.1L993.8 1229.5L994.4 1228.5L995.0 1229.9L995.6 1230.4L996.2 1229.9L996.8 1231.2L997.4 1231.2L998.0 1231.4L998.6 1230.2L999.2 1232.0L999.8 1232.1L1000.4 1233.7L1001.0 1232.4L1001.6 1233.5L1002.2 1233.6L1002.8 1233.8L1003.4 1234.5L1004.0 1234.5L1004.6 1233.5L1005.2 1235.4L1005.8 1236.0L1006.4 1236.6L1007.0 1235.2L1007.6 1236.3L1008.2 1238.1L1008.8 1238.6L1009.4 1238.6L1010.0 1238.5L1010.6 1237.2L1011.2 1238.9L1011.8 1239.0L1012.4 1240.2L1013.0 1240.4L1013.6 1239.8L1014.2 1241.7L1014.8 1241.1L1015.4 1240.3L1016.0 1241.2L1016.6 1240.9L1017.2 1240.6L1017.8 1242.2L1018.4 1241.9L1019.0 1243.1L1019.6 1243.3L1020.2 1244.2L1020.8 1242.4L1021.4 1242.3L1022.0 1243.2L1022.6 1245.0L1023.2 1243.2L1023.8 1243.9L1024.4 1245.3L1025.0 1244.9L1025.6 1245.1L1026.2 1244.1L1026.8 1244.5L1027.4 1245.0L1028.0 1244.2L1028.6 1245.4L1029.2 1246.7L1029.8 1244.8L1030.4 1247.6L1031.0 1246.6L1031.6 1247.1L1032.2 1247.4L1032.8 1246.3L1033.4 1246.6L1034.0 1247.7L1034.6 1248.1L1035.2 1247.5L1035.8 1248.4L1036.4 1249.5L1037.0 1247.6L1037.6 1249.8L1038.2 1250.6L1038.8 1249.7L1039.4 1249.2L1040.0 1250.9L1040.6 1250.5L1041.2 1250.2L1041.8 1251.2L1042.4 1251.3L1043.0 1249.5L1043.6 1251.2L1044.2 1250.1L1044.8 1251.1L1045.4 1250.5L1046.0 1250.7L1046.6 1251.1L1047.2 1251.8L1047.8 1252.4L1048.4 1252.3L1049.0 1252.1L1049.6 1253.3L1050.2 1253.3L1050.8 1253.4L1051.4 1255.2L1052.0 1254.5L1052.6 1254.3L1053.2 1256.2L1053.8 1255.6L1054.4 1254.9L1055.0 1256.1L1055.6 1257.6L1056.2 1257.8L1056.8 1259.7L1057.4 1257.3L1058.0 1259.4L1058.6 1256.9L1059.2 1257.8L1059.8 1260.7L1060.4 1259.9L1061.0 1258.6L1061.6 1258.7L1062.2 1259.3L1062.8 1259.0L1063.4 1260.2L1064.0 1260.1L1064.6 1259.0L1065.2 1260.2L1065.8 1259.8L1066.4 1261.5L1067.0 1261.0L1067.6 1260.7L1068.2 1261.0L1068.8 1260.2L1069.4 1262.5L1070.0 1262.6L1070.6 1261.8L1071.2 1262.4L1071.8 1261.6L1072.4 1262.1L1073.0 1262.4L1073.6 1262.5L1074.2 1263.7L1074.8 1263.6L1075.4 1262.4L1076.0 1261.7L1076.6 1263.7L1077.2 1265.0L1077.8 1263.3L1078.4 1263.7L1079.0 1263.2L1079.6 1265.2L1080.2 1263.8L1080.8 1264.2L1081.4 1264.2L1082.0 1264.9L1082.6 1263.6L1083.2 1265.7L1083.8 1266.6L1084.4 1265.6L1085.0 1266.0L1085.6 1265.9L1086.2 1266.4L1086.8 1266.3L1087.4 1266.9L1088.0 1269.1L1088.6 1267.4L1089.2 1268.6L1089.8 1269.9L1090.4 1268.9L1091.0 1268.7L1091.6 1268.6L1092.2 1268.7L1092.8 1268.9L1093.4 1269.2L1094.0 1269.3L1094.6 1270.4L1095.2 1270.1L1095.8 1269.6L1096.4 1269.8L1097.0 1271.0L1097.6 1271.0L1098.2 1272.5L1098.8 1271.9L1099.4 1272.6L1100.0 1271.4L1100.6 1272.7L1101.2 1273.0L1101.8 1272.8L1102.4 1273.3L1103.0 1272.5L1103.6 1273.8L1104.2 1272.9L1104.8 1273.3L1105.4 1275.5L1106.0 1276.9L1106.6 1275.2L1107.2 1274.9L1107.8 1276.2L1108.4 1276.6L1109.0 1278.1L1109.6 1275.5L1110.2 1277.2L1110.8 1278.6L1111.4 1276.7L1112.0 1278.9L1112.6 1280.1L1113.2 1280.4L1113.8 1280.6L1114.4 1280.0L1115.0 1279.7L1115.6 1280.1L1116.2 1280.5L1116.8 1282.0L1117.4 1279.8L1118.0 1281.9L1118.6 1282.4L1119.2 1280.7L1119.8 1281.0L1120.4 1283.5L1121.0 1281.5L1121.6 1280.9L1122.2 1281.9L1122.8 1282.2L1123.4 1281.8L1124.0 1279.5L1124.6 1281.7L1125.2 1281.7L1125.8 1280.6L1126.4 1280.3L1127.0 1279.6L1127.6 1280.4L1128.2 1281.5L1128.8 1281.3L1129.4 1281.1L1130.0 1280.8L1130.6 1280.8L1131.2 1280.2L1131.8 1278.9L1132.4 1280.0L1133.0 1278.6L1133.6 1278.8L1134.2 1280.1L1134.8 1277.8L1135.4 1280.8L1136.0 1279.5L1136.6 1278.4L1137.2 1279.3L1137.8 1279.0L1138.4 1279.9L1139.0 1281.0L1139.6 1280.2L1140.2 1279.9L1140.8 1280.3L1141.4 1281.6L1142.0 1280.4L1142.6 1281.1L1143.2 1282.2L1143.8 1280.6L1144.4 1282.1L1145.0 1283.1L1145.6 1283.7L1146.2 1282.2L1146.8 1281.9L1147.4 1282.7L1148.0 1282.7L1148.6 1284.3L1149.2 1283.5L1149.8 1283.4L1150.4 1284.4L1151.0 1284.0L1151.6 1284.3L1152.2 1284.8L1152.8 1285.0L1153.4 1284.9L1154.0 1285.2L1154.6 1285.1L1155.2 1283.6L1155.8 1286.0L1156.4 1283.7L1157.0 1287.6L1157.6 1285.1L1158.2 1287.0L1158.8 1286.7L1159.4 1287.1L1160.0 1287.4L1160.6 1287.7L1161.2 1287.9L1161.8 1288.6L1162.4 1288.3L1163.0 1289.3L1163.6 1288.6L1164.2 1289.7L1164.8 1289.4L1165.4 1290.3L1166.0 1290.1L1166.6 1290.2L1167.2 1290.8L1167.8 1291.4L1168.4 1290.9L1169.0 1292.9L1169.6 1292.5L1170.2 1290.4L1170.8 1290.8L1171.4 1292.4L1172.0 1292.2L1172.6 1291.6L1173.2 1291.2L1173.8 1293.7L1174.4 1293.5L1175.0 1292.5L1175.6 1292.2L1176.2 1293.8L1176.8 1294.0L1177.4 1294.8L1178.0 1292.9L1178.6 1293.4L1179.2 1293.0L1179.8 1294.1L1180.4 1292.1L1181.0 1294.0L1181.6 1295.9L1182.2 1294.0L1182.8 1293.8L1183.4 1294.0L1184.0 1293.4L1184.6 1293.6L1185.2 1294.7L1185.8 1295.4L1186.4 1294.6L1187.0 1294.9L1187.6 1295.5L1188.2 1294.8L1188.8 1293.6L1189.4 1295.8L1190.0 1295.9L1190.6 1295.3L1191.2 1295.5L1191.8 1296.8L1192.4 1297.1L1193.0 1297.4L1193.6 1295.0L1194.2 1296.5L1194.8 1298.1L1195.4 1297.2L1196.0 1295.6L1196.6 1296.1L1197.2 1297.5L1197.8 1297.6L1198.4 1296.6L1199.0 1296.7L1199.6 1295.6L1200.2 1298.6L1200.8 1297.0L1201.4 1297.6L1202.0 1297.4L1202.6 1296.3L1203.2 1299.1L1203.8 1297.5L1204.4 1298.0L1205.0 1298.1L1205.6 1298.2L1206.2 1297.9L1206.8 1297.9L1207.4 1297.6L1208.0 1298.5L1208.6 1297.6L1209.2 1298.5L1209.8 1297.4L1210.4 1298.1L1211.0 1298.9L1211.6 1298.9L1212.2 1297.7L1212.8 1298.5L1213.4 1299.6L1214.0 1299.3L1214.6 1300.2L1215.2 1299.7L1215.8 1299.7L1216.4 1299.3L1217.0 1299.4L1217.6 1300.0L1218.2 1299.4L1218.8 1299.9L1219.4 1302.4L1220.0 1299.5L1220.6 1300.7L1221.2 1300.1L1221.8 1301.5L1222.4 1300.1L1223.0 1300.2L1223.6 1300.8L1224.2 1300.8L1224.8 1302.1L1225.4 1301.6L1226.0 1301.6L1226.6 1301.4L1227.2 1300.8L1227.8 1303.1L1228.4 1302.5L1229.0 1302.7L1229.6 1303.7L1230.2 1303.9L1230.8 1304.3L1231.4 1303.5L1232.0 1303.2L1232.6 1302.6L1233.2 1304.1L1233.8 1304.1L1234.4 1304.5L1235.0 1304.1L1235.6 1303.7L1236.2 1303.8L1236.8 1303.8L1237.4 1305.3L1238.0 1305.2L1238.6 1305.1L1239.2 1304.6L1239.8 1304.9L1240.4 1306.1L1241.0 1305.2L1241.6 1307.0L1242.2 1306.6L1242.8 1307.2L1243.4 1306.8L1244.0 1307.0L1244.6 1307.6L1245.2 1307.3L1245.8 1307.8L1246.4 1307.9L1247.0 1308.6L1247.6 1307.9L1248.2 1309.6L1248.8 1308.1L1249.4 1306.1L1250.0 1308.3L1250.6 1307.9L1251.2 1309.0L1251.8 1309.8L1252.4 1309.9L1253.0 1309.1L1253.6 1310.0L1254.2 1308.0L1254.8 1308.4L1255.4 1308.5L1256.0 1308.6L1256.6 1307.3L1257.2 1307.4L1257.8 1308.8L1258.4 1308.5L1259.0 1309.2L1259.6 1307.4L1260.2 1308.6L1260.8 1307.7L1261.4 1308.6L1262.0 1308.7L1262.6 1307.7L1263.2 1309.3L1263.8 1309.0L1264.4 1309.2L1265.0 1309.4L1265.6 1309.1L1266.2 1310.3L1266.8 1309.0L1267.4 1310.3L1268.0 1309.5L1268.6 1310.4L1269.2 1310.2L1269.8 1311.7L1270.4 1310.2L1271.0 1310.7L1271.6 1311.6L1272.2 1312.4L1272.8 1313.6L1273.4 1314.0L1274.0 1314.0L1274.6 1314.6L1275.2 1315.1L1275.8 1314.8L1276.4 1315.7L1277.0 1315.2L1277.6 1315.2L1278.2 1315.5L1278.8 1316.5L1279.4 1316.3L1280.0 1316.7L1280.6 1317.5L1281.2 1317.1L1281.8 1318.1L1282.4 1319.2L1283.0 1318.1L1283.6 1318.7L1284.2 1317.9L1284.8 1319.6L1285.4 1318.1L1286.0 1318.0L1286.6 1318.4L1287.2 1318.4L1287.8 1319.7L1288.4 1317.6L1289.0 1320.0L1289.6 1319.5L1290.2 1320.2L1290.8 1319.4L1291.4 1319.5L1292.0 1320.4L1292.6 1320.0L1293.2 1320.7L1293.8 1319.8L1294.4 1320.7L1295.0 1320.5L1295.6 1320.3L1296.2 1320.5L1296.8 1320.4L1297.4 1320.9L1298.0 1320.5L1298.6 1320.3L1299.2 1319.6L1299.8 1320.2L1300.4 1319.6L1301.0 1319.5L1301.6 1320.6L1302.2 1319.6L1302.8 1319.6L1303.4 1320.6L1304.0 1320.4L1304.6 1319.0L1305.2 1319.9L1305.8 1319.4L1306.4 1320.3L1307.0 1319.4L1307.6 1320.3L1308.2 1321.0L1308.8 1321.7L1309.4 1320.4L1310.0 1319.9L1310.6 1321.6L1311.2 1322.2L1311.8 1321.0L1312.4 1322.4L1313.0 1323.7L1313.6 1323.5L1314.2 1323.8L1314.8 1324.2L1315.4 1322.9L1316.0 1323.1L1316.6 1323.1L1317.2 1326.1L1317.8 1322.9L1318.4 1326.2L1319.0 1325.0L1319.6 1325.0L1320.2 1325.5L1320.8 1326.0L1321.4 1327.7L1322.0 1327.5L1322.6 1327.7L1323.2 1326.7L1323.8 1327.2L1324.4 1328.7L1325.0 1328.5L1325.6 1329.1L1326.2 1327.9L1326.8 1328.2L1327.4 1329.5L1328.0 1328.9L1328.6 1329.1L1329.2 1329.0L1329.8 1329.4L1330.4 1329.1L1331.0 1329.3L1331.6 1329.8L1332.2 1330.3L1332.8 1328.0L1333.4 1330.4L1334.0 1328.0L1334.6 1330.4L1335.2 1329.3L1335.8 1328.7L1336.4 1329.6L1337.0 1327.9L1337.6 1329.7L1338.2 1329.5L1338.8 1330.3L1339.4 1330.0L1340.0 1330.2L1340.6 1330.0L1341.2 1331.6L1341.8 1331.6L1342.4 1330.7L1343.0 1331.9L1343.6 1331.7L1344.2 1332.6L1344.8 1333.3L1345.4 1332.7L1346.0 1332.3L1346.6 1332.8L1347.2 1333.2L1347.8 1334.0L1348.4 1332.6L1349.0 1334.8L1349.6 1332.8L1350.2 1333.9L1350.8 1335.5L1351.4 1336.2L1352.0 1334.5L1352.6 1336.5L1353.2 1335.7L1353.8 1335.1L1354.4 1336.1L1355.0 1336.1L1355.6 1335.9L1356.2 1337.3L1356.8 1336.1L1357.4 1337.8L1358.0 1336.8L1358.6 1337.0L1359.2 1338.1L1359.8 1337.4L1360.4 1338.2L1361.0 1337.6L1361.6 1339.2L1362.2 1339.3L1362.8 1339.0L1363.4 1339.4L1364.0 1340.5L1364.6 1339.2L1365.2 1340.9L1365.8 1340.8L1366.4 1341.7L1367.0 1341.4L1367.6 1340.2L1368.2 1341.9L1368.8 1341.3L1369.4 1341.9L1370.0 1341.8L1370.6 1340.9L1371.2 1341.5L1371.8 1343.1L1372.4 1343.2L1373.0 1344.3L1373.6 1343.0L1374.2 1343.1L1374.8 1342.6L1375.4 1345.1L1376.0 1343.9L1376.6 1345.0L1377.2 1343.4L1377.8 1345.8L1378.4 1345.0L1379.0 1345.0L1379.6 1345.1L1380.2 1344.7L1380.8 1344.6L1381.4 1344.4L1382.0 1346.3L1382.6 1345.7L1383.2 1345.8L1383.8 1346.1L1384.4 1346.2L1385.0 1346.1L1385.6 1345.4L1386.2 1347.1L1386.8 1346.9L1387.4 1346.3L1388.0 1345.0L1388.6 1346.5L1389.2 1346.8L1389.8 1345.6L1390.4 1346.4L1391.0 1347.1L1391.6 1345.9L1392.2 1347.2L1392.8 1347.8L1393.4 1347.6L1394.0 1346.1L1394.6 1348.3L1395.2 1346.7L1395.8 1347.2L1396.4 1348.7L1397.0 1348.4L1397.6 1348.3L1398.2 1348.0L1398.8 1348.6L1399.4 1348.2L1400.0 1349.2L1400.6 1349.6L1401.2 1349.4L1401.8 1350.0L1402.4 1349.8L1403.0 1350.1L1403.6 1350.9L1404.2 1350.2L1404.8 1351.3L1405.4 1351.4L1406.0 1353.4L1406.6 1351.7L1407.2 1352.2L1407.8 1351.5L1408.4 1354.3L1409.0 1352.7L1409.6 1352.2L1410.2 1353.2L1410.8 1353.4L1411.4 1353.4L1412.0 1353.0L1412.6 1353.7L1413.2 1355.0L1413.8 1353.4L1414.4 1355.3L1415.0 1354.4L1415.6 1353.7L1416.2 1355.1L1416.8 1355.9L1417.4 1354.8L1418.0 1354.8L1418.6 1356.2L1419.2 1356.4L1419.8 1355.3L1420.4 1355.5L1421.0 1354.0L1421.6 1355.8L1422.2 1354.2L1422.8 1354.6L1423.4 1355.4L1424.0 1355.6L1424.6 1355.7L1425.2 1355.4L1425.8 1356.4L1426.4 1356.3L1427.0 1356.0L1427.6 1355.9L1428.2 1356.3L1428.8 1356.8L1429.4 1356.5L1430.0 1357.1L1430.6 1357.5L1431.2 1358.5L1431.8 1357.7L1432.4 1356.7L1433.0 1357.4L1433.6 1359.0L1434.2 1356.6L1434.8 1356.9L1435.4 1358.5L1436.0 1359.8L1436.6 1360.0L1437.2 1360.6L1437.8 1359.1L1438.4 1360.5L1439.0 1360.5L1439.6 1361.3L1440.2 1360.9L1440.8 1361.5L1441.4 1362.0L1442.0 1362.0L1442.6 1360.5L1443.2 1361.4L1443.8 1361.3L1444.4 1361.9L1445.0 1362.1L1445.6 1363.4L1446.2 1363.0L1446.8 1362.0L1447.4 1363.7L1448.0 1364.0L1448.6 1362.2L1449.2 1364.9L1449.8 1364.8L1450.4 1364.2L1451.0 1364.8L1451.6 1364.3L1452.2 1365.8L1452.8 1366.1L1453.4 1366.6L1454.0 1366.2L1454.6 1366.3L1455.2 1368.5L1455.8 1368.9L1456.4 1366.7L1457.0 1367.3L1457.6 1369.1L1458.2 1369.3L1458.8 1370.4L1459.4 1369.4L1460.0 1369.5L1460.6 1369.5L1461.2 1371.1L1461.8 1371.1L1462.4 1370.4L1463.0 1371.4L1463.6 1370.2L1464.2 1370.1L1464.8 1371.8L1465.4 1372.3L1466.0 1371.8L1466.6 1371.4L1467.2 1372.1L1467.8 1369.4L1468.4 1371.9L1469.0 1370.4L1469.6 1371.9L1470.2 1372.4L1470.8 1372.8L1471.4 1372.8L1472.0 1373.2L1472.6 1372.8L1473.2 1373.1L1473.8 1372.3L1474.4 1373.7L1475.0 1373.5L1475.6 1373.4L1476.2 1373.1L1476.8 1373.2L1477.4 1373.3L1478.0 1374.4L1478.6 1375.2L1479.2 1374.8L1479.8 1376.1L1480.4 1374.9L1481.0 1377.6L1481.6 1376.3L1482.2 1376.4L1482.8 1376.7L1483.4 1376.7L1484.0 1377.3L1484.6 1377.6L1485.2 1378.7L1485.8 1379.4L1486.4 1379.1L1487.0 1378.8L1487.6 1381.5L1488.2 1380.9L1488.8 1381.4L1489.4 1381.5L1490.0 1382.3L1490.6 1382.2L1491.2 1381.7L1491.8 1382.8L1492.4 1381.1L1493.0 1383.9L1493.6 1382.3L1494.2 1383.2L1494.8 1383.0L1495.4 1383.6L1496.0 1383.2L1496.6 1384.2L1497.2 1385.5L1497.8 1384.8L1498.4 1384.2L1499.0 1386.5L1499.6 1385.6L1500.2 1386.9L1500.8 1386.3L1501.4 1387.2L1502.0 1387.1L1502.6 1387.9L1503.2 1387.4L1503.8 1388.8L1504.4 1388.9L1505.0 1387.8L1505.6 1388.1L1506.2 1388.6L1506.8 1389.9L1507.4 1389.7L1508.0 1390.3L1508.6 1389.2L1509.2 1390.8L1509.8 1389.6L1510.4 1391.0L1511.0 1390.3L1511.6 1390.4L1512.2 1391.3L1512.8 1392.5L1513.4 1391.2L1514.0 1391.6L1514.6 1393.2L1515.2 1392.3L1515.8 1393.0L1516.4 1393.0L1517.0 1394.1L1517.6 1393.8L1518.2 1394.0L1518.8 1394.3L1519.4 1394.0L1520.0 1393.4L1520.6 1394.0L1521.2 1394.7L1521.8 1394.2L1522.4 1394.9L1523.0 1395.3L1523.6 1394.5L1524.2 1395.8L1524.8 1396.0L1525.4 1395.4L1526.0 1395.9L1526.6 1396.6L1527.2 1395.2L1527.8 1395.9L1528.4 1397.7L1529.0 1396.4L1529.6 1397.8L1530.2 1397.2L1530.8 1397.3L1531.4 1397.4L1532.0 1396.8L1532.6 1396.2L1533.2 1397.1L1533.8 1398.2L1534.4 1397.2L1535.0 1397.9L1535.6 1396.3L1536.2 1397.8L1536.8 1397.7L1537.4 1398.8L1538.0 1397.6L1538.6 1397.5L1539.2 1397.0L1539.8 1398.5L1540.4 1398.6L1541.0 1399.7L1541.6 1398.5L1542.2 1399.1L1542.8 1399.3L1543.4 1399.9L1544.0 1398.9L1544.6 1399.3L1545.2 1400.3L1545.8 1399.5L1546.4 1400.3L1547.0 1400.5L1547.6 1400.8L1548.2 1400.3L1548.8 1398.9L1549.4 1401.3L1550.0 1400.7L1550.6 1402.1L1551.2 1402.3L1551.8 1401.1L1552.4 1401.9L1553.0 1402.3L1553.6 1403.4L1554.2 1403.4L1554.8 1403.4L1555.4 1402.6L1556.0 1404.4L1556.6 1404.6L1557.2 1403.9L1557.8 1405.4L1558.4 1405.7L1559.0 1403.6L1559.6 1405.5L1560.2 1405.1L1560.8 1405.3L1561.4 1403.5L1562.0 1405.3L1562.6 1405.5L1563.2 1404.2L1563.8 1405.4L1564.4 1405.4L1565.0 1405.6L1565.6 1405.3L1566.2 1406.8L1566.8 1406.3L1567.4 1406.3L1568.0 1407.2L1568.6 1406.2L1569.2 1407.2L1569.8 1408.8L1570.4 1406.5L1571.0 1407.1L1571.6 1407.6L1572.2 1408.9L1572.8 1408.9L1573.4 1408.9L1574.0 1408.9L1574.6 1408.9L1575.2 1408.9L1575.8 1408.9L1576.4 1408.9L1577.0 1408.9L1577.6 1408.9L1578.2 1408.9L1578.8 1408.9L1579.4 1408.9L1580.0 1408.9L1580.6 1408.9L1581.2 1408.9L1581.8 1408.9L1582.4 1408.9L1583.0 1408.9L1583.6 1408.9L1584.2 1408.9L1584.8 1408.9L1585.4 1408.9L1586.0 1408.9L1586.6 1408.9L1587.2 1408.9L1587.8 1408.9L1588.4 1408.9L1589.0 1408.9L1589.6 1408.9L1590.2 1408.9L1590.8 1408.9L1591.4 1408.9L1592.0 1408.9"/>
<path class="c" stroke="#000" stroke-width="5.9" d="M248.0 1408.0L249.2 1408.0L250.4 1408.0L251.6 1408.0L252.8 1408.0L254.0 1408.0L255.2 1408.0L256.4 1408.0L257.6 1408.0L258.8 1408.0L260.0 1408.0L261.2 1408.0L262.4 1408.0L263.6 1408.0L264.8 1408.0L266.0 1408.0L267.2 1408.0L268.4 1408.0L269.6 1408.0L270.8 1408.0L272.0 1408.0L273.2 1408.0L274.4 1408.0L275.6 1408.0L276.8 1408.0L278.0 1408.0L279.2 1408.0L280.4 1408.0L281.6 1408.0L282.8 1408.0L284.0 1408.0L285.2 1408.0L286.4 1408.0L287.6 1408.0L288.8 1408.0L290.0 1408.0L291.2 1408.0L292.4 1408.0L293.6 1408.0L294.8 1408.0L296.0 1408.0L297.2 1408.0L298.4 1408.0L299.6 1408.0L300.8 1408.0L302.0 1408.0L303.2 1408.0L304.4 1408.0L305.6 1408.0L306.8 1408.0L308.0 1408.0L309.2 1408.0L310.4 1408.0L311.6 1408.0L312.8 1408.0L314.0 1408.0L315.2 1408.0L316.4 1408.0L317.6 1408.0L318.8 1408.0L320.0 1408.0L321.2 1408.0L322.4 1408.0L323.6 1408.0L324.8 1408.0L326.0 1408.0L327.2 1408.0L328.4 1408.0L329.6 1408.0L330.8 1408.0L332.0 1408.0L333.2 1408.0L334.4 1408.0L335.6 1408.0L336.8 1408.0L338.0 1408.0L339.2 1408.0L340.4 1408.0L341.6 1408.0L342.8 1408.0L344.0 1408.0L345.2 1408.0L346.4 1408.0L347.6 1408.0L348.8 1408.0L350.0 1408.0L351.2 1408.0L352.4 1408.0L353.6 1408.0L354.8 1408.0L356.0 1408.0L357.2 1408.0L358.4 1408.0L359.6 1408.0L360.8 1408.0L362.0 1408.0L363.2 1408.0L364.4 1408.0L365.6 1406.3L366.8 1402.7L368.0 1406.0L369.2 1398.8L370.4 1396.8L371.6 1389.7L372.8 1386.2L374.0 1377.4L375.2 1369.3L376.4 1360.9L377.6 1339.3L378.8 1326.1L380.0 1306.6L381.2 1287.1L382.4 1265.7L383.6 1234.8L384.8 1208.4L386.0 1176.5L387.2 1153.6L388.4 1128.9L389.6 1104.0L390.8 1083.5L392.0 1061.2L393.2 1036.6L394.4 1015.4L395.6 1000.5L396.8 982.6L398.0 959.9L399.2 942.6L400.4 923.1L401.6 905.4L402.8 891.7L404.0 871.1L405.2 853.3L406.4 830.9L407.6 809.1L408.8 792.9L410.0 777.7L411.2 762.3L412.4 745.2L413.6 732.5L414.8 722.1L416.0 709.5L417.2 697.3L418.4 684.7L419.6 674.3L420.8 663.5L422.0 654.4L423.2 645.5L424.4 636.9L425.6 626.5L426.8 617.5L428.0 607.1L429.2 600.8L430.4 593.2L431.6 583.4L432.8 573.4L434.0 563.4L435.2 555.3L436.4 547.3L437.6 540.4L438.8 532.0L440.0 524.8L441.2 515.2L442.4 505.5L443.6 499.2L444.8 487.7L446.0 478.9L447.2 469.1L448.4 458.9L449.6 449.7L450.8 439.1L452.0 429.7L453.2 422.7L454.4 416.2L455.6 406.9L456.8 399.0L458.0 391.6L459.2 382.6L460.4 377.5L461.6 368.5L462.8 358.2L464.0 350.2L465.2 340.4L466.4 338.5L467.6 334.7L468.8 331.4L470.0 327.0L471.2 323.5L472.4 317.2L473.6 313.9L474.8 308.0L476.0 303.8L477.2 301.8L478.4 300.4L479.6 295.2L480.8 292.8L482.0 288.2L483.2 280.1L484.4 273.3L485.6 267.0L486.8 263.1L488.0 257.8L489.2 253.9L490.4 247.3L491.6 244.9L492.8 241.2L494.0 237.6L495.2 234.5L496.4 230.8L497.6 227.2L498.8 225.7L500.0 221.1L501.2 217.1L502.4 214.7L503.6 211.2L504.8 208.0L506.0 204.8L507.2 202.7L508.4 200.8L509.6 199.0L510.8 198.3L512.0 196.5L513.2 195.0L514.4 193.1L515.6 190.7L516.8 190.2L518.0 186.0L519.2 182.4L520.4 181.1L521.6 177.6L522.8 174.8L524.0 172.0L525.2 169.0L526.4 161.8L527.6 155.8L528.8 149.6L530.0 144.7L531.2 137.9L532.4 132.3L533.6 129.2L534.8 124.9L536.0 121.5L537.2 119.4L538.4 120.1L539.6 121.0L540.8 122.2L542.0 123.8L543.2 125.4L544.4 127.3L545.6 128.3L546.8 129.6L548.0 133.8L549.2 136.9L550.4 140.1L551.6 143.9L552.8 150.2L554.0 157.8L555.2 164.6L556.4 169.7L557.6 176.8L558.8 182.7L560.0 189.6L561.2 195.5L562.4 201.0L563.6 210.9L564.8 218.8L566.0 226.7L567.2 234.7L568.4 243.5L569.6 253.3L570.8 261.3L572.0 272.8L573.2 280.3L574.4 291.9L575.6 304.4L576.8 317.7L578.0 329.6L579.2 336.7L580.4 348.7L581.6 357.7L582.8 367.6L584.0 374.3L585.2 380.1L586.4 387.5L587.6 396.7L588.8 406.0L590.0 414.8L591.2 425.1L592.4 435.2L593.6 447.7L594.8 457.9L596.0 469.9L597.2 482.7L598.4 491.8L599.6 501.9L600.8 510.6L602.0 520.8L603.2 533.3L604.4 542.1L605.6 551.2L606.8 560.7L608.0 567.2L609.2 577.3L610.4 583.4L611.6 592.2L612.8 599.8L614.0 607.4L615.2 615.1L616.4 622.9L617.6 631.6L618.8 637.8L620.0 645.0L621.2 649.8L622.4 658.4L623.6 665.0L624.8 673.7L626.0 681.3L627.2 688.4L628.4 693.6L629.6 703.4L630.8 710.0L632.0 715.8L633.2 720.7L634.4 727.9L635.6 734.3L636.8 740.9L638.0 744.9L639.2 751.4L640.4 756.9L641.6 764.1L642.8 769.6L644.0 775.7L645.2 781.1L646.4 788.8L647.6 794.8L648.8 800.6L650.0 804.0L651.2 812.2L652.4 818.6L653.6 823.9L654.8 829.7L656.0 835.8L657.2 840.5L658.4 846.2L659.6 852.3L660.8 856.1L662.0 859.5L663.2 863.7L664.4 867.8L665.6 872.6L666.8 877.0L668.0 883.5L669.2 888.5L670.4 894.4L671.6 900.8L672.8 903.7L674.0 907.3L675.2 912.0L676.4 916.6L677.6 919.5L678.8 926.1L680.0 928.1L681.2 931.0L682.4 939.5L683.6 939.8L684.8 946.5L686.0 949.1L687.2 952.8L688.4 955.4L689.6 960.4L690.8 963.3L692.0 969.1L693.2 972.0L694.4 975.2L695.6 980.2L696.8 978.5L698.0 980.5L699.2 983.9L700.4 987.6L701.6 991.4L702.8 991.5L704.0 996.4L705.2 997.7L706.4 1001.8L707.6 1002.7L708.8 1006.5L710.0 1012.6L711.2 1015.3L712.4 1017.6L713.6 1019.4L714.8 1017.7L716.0 1022.7L717.2 1024.2L718.4 1028.9L719.6 1031.6L720.8 1036.1L722.0 1040.1L723.2 1040.7L724.4 1039.1L725.6 1040.1L726.8 1036.9L728.0 1039.0L729.2 1037.6L730.4 1039.4L731.6 1040.9L732.8 1040.8L734.0 1040.0L735.2 1041.8L736.4 1043.6L737.6 1044.7L738.8 1049.2L740.0 1048.8L741.2 1050.5L742.4 1049.8L743.6 1051.9L744.8 1051.7L746.0 1056.2L747.2 1054.6L748.4 1053.9L749.6 1056.5L750.8 1057.1L752.0 1058.7L753.2 1059.1L754.4 1060.0L755.6 1059.9L756.8 1061.1L758.0 1059.7L759.2 1061.7L760.4 1065.3L761.6 1067.1L762.8 1067.4L764.0 1072.7L765.2 1073.1L766.4 1074.2L767.6 1076.9L768.8 1078.6L770.0 1076.5L771.2 1080.9L772.4 1081.2L773.6 1082.8L774.8 1083.9L776.0 1082.6L777.2 1086.8L778.4 1087.8L779.6 1089.9L780.8 1088.1L782.0 1091.6L783.2 1091.0L784.4 1091.1L785.6 1094.6L786.8 1092.3L788.0 1094.2L789.2 1093.7L790.4 1095.5L791.6 1094.1L792.8 1095.6L794.0 1096.6L795.2 1092.4L796.4 1097.7L797.6 1097.9L798.8 1103.3L800.0 1103.9L801.2 1103.2L802.4 1104.6L803.6 1104.1L804.8 1102.9L806.0 1106.0L807.2 1106.4L808.4 1105.4L809.6 1105.6L810.8 1104.4L812.0 1104.0L813.2 1106.1L814.4 1104.3L815.6 1106.3L816.8 1107.9L818.0 1109.1L819.2 1113.2L820.4 1114.4L821.6 1116.2L822.8 1119.5L824.0 1117.1L825.2 1117.0L826.4 1118.0L827.6 1120.0L828.8 1121.8L830.0 1120.6L831.2 1119.5L832.4 1119.1L833.6 1121.6L834.8 1124.8L836.0 1124.1L837.2 1123.2L838.4 1125.5L839.6 1125.0L840.8 1126.4L842.0 1128.7L843.2 1129.7L844.4 1129.8L845.6 1128.9L846.8 1131.2L848.0 1130.7L849.2 1130.3L850.4 1130.3L851.6 1131.6L852.8 1132.5L854.0 1132.6L855.2 1128.9L856.4 1132.9L857.6 1136.3L858.8 1132.4L860.0 1135.8L861.2 1136.2L862.4 1136.4L863.6 1139.3L864.8 1137.0L866.0 1139.0L867.2 1139.9L868.4 1141.7L869.6 1142.5L870.8 1146.0L872.0 1142.1L873.2 1144.2L874.4 1145.9L875.6 1144.4L876.8 1145.1L878.0 1147.6L879.2 1144.3L880.4 1147.5L881.6 1145.5L882.8 1146.7L884.0 1146.8L885.2 1149.4L886.4 1146.1L887.6 1144.8L888.8 1147.2L890.0 1146.5L891.2 1148.3L892.4 1149.2L893.6 1149.5L894.8 1147.8L896.0 1148.3L897.2 1152.0L898.4 1150.6L899.6 1151.0L900.8 1156.4L902.0 1154.8L903.2 1156.4L904.4 1157.2L905.6 1157.6L906.8 1158.2L908.0 1159.2L909.2 1158.5L910.4 1160.1L911.6 1159.4L912.8 1161.7L914.0 1161.0L915.2 1161.2L916.4 1161.9L917.6 1163.2L918.8 1163.2L920.0 1162.8L921.2 1161.9L922.4 1164.5L923.6 1161.7L924.8 1162.2L926.0 1165.7L927.2 1162.4L928.4 1164.6L929.6 1164.6L930.8 1164.2L932.0 1164.0L933.2 1164.4L934.4 1164.0L935.6 1164.0L936.8 1163.6L938.0 1166.5L939.2 1168.7L940.4 1165.2L941.6 1168.4L942.8 1168.5L944.0 1170.0L945.2 1170.0L946.4 1169.9L947.6 1168.1L948.8 1169.6L950.0 1169.3L951.2 1168.4L952.4 1170.9L953.6 1169.2L954.8 1171.9L956.0 1171.4L957.2 1169.1L958.4 1172.9L959.6 1171.8L960.8 1171.9L962.0 1168.6L963.2 1171.4L964.4 1171.5L965.6 1171.8L966.8 1171.5L968.0 1171.5L969.2 1175.2L970.4 1172.7L971.6 1170.6L972.8 1172.7L974.0 1172.9L975.2 1173.7L976.4 1174.1L977.6 1174.7L978.8 1173.9L980.0 1175.2L981.2 1179.7L982.4 1174.6L983.6 1173.7L984.8 1177.7L986.0 1176.0L987.2 1175.7L988.4 1175.4L989.6 1179.2L990.8 1176.3L992.0 1180.8L993.2 1180.8L994.4 1180.3L995.6 1178.6L996.8 1183.6L998.0 1178.1L999.2 1180.2L1000.4 1178.9L1001.6 1181.2L1002.8 1181.5L1004.0 1182.6L1005.2 1181.5L1006.4 1183.1L1007.6 1182.1L1008.8 1183.5L1010.0 1182.5L1011.2 1185.4L1012.4 1185.9L1013.6 1185.0L1014.8 1186.5L1016.0 1185.9L1017.2 1190.3L1018.4 1191.8L1019.6 1189.7L1020.8 1192.1L1022.0 1191.0L1023.2 1190.7L1024.4 1189.5L1025.6 1192.0L1026.8 1189.9L1028.0 1191.7L1029.2 1193.1L1030.4 1191.9L1031.6 1191.9L1032.8 1193.1L1034.0 1195.3L1035.2 1195.0L1036.4 1196.9L1037.6 1198.9L1038.8 1195.8L1040.0 1198.8L1041.2 1198.2L1042.4 1197.5L1043.6 1197.8L1044.8 1197.5L1046.0 1199.5L1047.2 1197.7L1048.4 1197.3L1049.6 1199.7L1050.8 1201.6L1052.0 1201.4L1053.2 1201.6L1054.4 1202.7L1055.6 1205.0L1056.8 1202.9L1058.0 1205.1L1059.2 1205.6L1060.4 1204.2L1061.6 1207.7L1062.8 1206.1L1064.0 1210.4L1065.2 1206.8L1066.4 1208.0L1067.6 1211.6L1068.8 1210.4L1070.0 1209.1L1071.2 1206.4L1072.4 1211.9L1073.6 1208.7L1074.8 1211.7L1076.0 1211.4L1077.2 1212.2L1078.4 1212.8L1079.6 1213.6L1080.8 1215.0L1082.0 1216.8L1083.2 1216.9L1084.4 1219.0L1085.6 1222.4L1086.8 1220.3L1088.0 1225.4L1089.2 1226.2L1090.4 1230.6L1091.6 1228.9L1092.8 1229.2L1094.0 1231.0L1095.2 1228.8L1096.4 1233.0L1097.6 1231.4L1098.8 1235.2L1100.0 1233.0L1101.2 1234.1L1102.4 1232.7L1103.6 1234.0L1104.8 1234.6L1106.0 1236.4L1107.2 1237.5L1108.4 1235.8L1109.6 1234.7L1110.8 1235.3L1112.0 1239.5L1113.2 1239.7L1114.4 1239.6L1115.6 1239.7L1116.8 1240.1L1118.0 1239.9L1119.2 1241.9L1120.4 1240.4L1121.6 1239.1L1122.8 1239.6L1124.0 1237.8L1125.2 1241.5L1126.4 1239.2L1127.6 1239.7L1128.8 1238.5L1130.0 1239.1L1131.2 1240.9L1132.4 1240.0L1133.6 1240.3L1134.8 1241.9L1136.0 1241.0L1137.2 1239.8L1138.4 1242.1L1139.6 1240.0L1140.8 1243.5L1142.0 1243.0L1143.2 1244.1L1144.4 1244.3L1145.6 1244.5L1146.8 1243.9L1148.0 1249.3L1149.2 1247.1L1150.4 1247.8L1151.6 1250.4L1152.8 1251.3L1154.0 1251.3L1155.2 1252.1L1156.4 1254.8L1157.6 1257.1L1158.8 1255.5L1160.0 1256.3L1161.2 1258.6L1162.4 1257.2L1163.6 1256.7L1164.8 1257.6L1166.0 1259.5L1167.2 1260.3L1168.4 1258.5L1169.6 1262.3L1170.8 1263.0L1172.0 1261.9L1173.2 1264.2L1174.4 1268.8L1175.6 1264.8L1176.8 1263.9L1178.0 1265.4L1179.2 1266.1L1180.4 1266.8L1181.6 1267.7L1182.8 1269.0L1184.0 1268.3L1185.2 1270.9L1186.4 1270.9L1187.6 1271.9L1188.8 1269.4L1190.0 1274.5L1191.2 1276.3L1192.4 1273.9L1193.6 1274.1L1194.8 1274.6L1196.0 1277.5L1197.2 1273.0L1198.4 1278.3L1199.6 1275.0L1200.8 1279.7L1202.0 1278.4L1203.2 1278.2L1204.4 1277.2L1205.6 1276.1L1206.8 1277.1L1208.0 1279.6L1209.2 1283.1L1210.4 1280.8L1211.6 1279.4L1212.8 1282.6L1214.0 1282.5L1215.2 1284.0L1216.4 1283.1L1217.6 1282.7L1218.8 1284.1L1220.0 1284.3L1221.2 1287.9L1222.4 1287.0L1223.6 1288.3L1224.8 1287.1L1226.0 1288.6L1227.2 1288.3L1228.4 1291.5L1229.6 1290.4L1230.8 1292.5L1232.0 1292.5L1233.2 1295.1L1234.4 1297.1L1235.6 1295.9L1236.8 1298.5L1238.0 1298.4L1239.2 1299.5L1240.4 1300.6L1241.6 1300.0L1242.8 1300.2L1244.0 1298.2L1245.2 1299.9L1246.4 1301.9L1247.6 1305.7L1248.8 1303.5L1250.0 1301.8L1251.2 1304.3L1252.4 1306.3L1253.6 1302.9L1254.8 1305.7L1256.0 1305.9L1257.2 1303.8L1258.4 1304.6L1259.6 1303.3L1260.8 1307.0L1262.0 1308.2L1263.2 1305.9L1264.4 1308.3L1265.6 1307.5L1266.8 1308.0L1268.0 1307.8L1269.2 1308.7L1270.4 1309.3L1271.6 1311.3L1272.8 1312.2L1274.0 1312.3L1275.2 1314.5L1276.4 1311.5L1277.6 1313.8L1278.8 1312.9L1280.0 1315.5L1281.2 1316.5L1282.4 1312.3L1283.6 1316.9L1284.8 1318.1L1286.0 1316.7L1287.2 1312.4L1288.4 1321.0L1289.6 1315.8L1290.8 1317.1L1292.0 1321.1L1293.2 1316.8L1294.4 1317.6L1295.6 1321.0L1296.8 1319.4L1298.0 1320.1L1299.2 1319.2L1300.4 1319.7L1301.6 1321.5L1302.8 1317.7L1304.0 1318.8L1305.2 1320.7L1306.4 1320.3L1307.6 1324.9L1308.8 1322.2L1310.0 1322.7L1311.2 1320.8L1312.4 1324.7L1313.6 1323.0L1314.8 1322.7L1316.0 1323.2L1317.2 1323.1L1318.4 1322.8L1319.6 1325.2L1320.8 1327.1L1322.0 1328.9L1323.2 1323.0L1324.4 1326.5L1325.6 1332.4L1326.8 1328.8L1328.0 1326.8L1329.2 1329.5L1330.4 1328.5L1331.6 1331.9L1332.8 1332.0L1334.0 1330.6L1335.2 1332.9L1336.4 1332.8L1337.6 1333.7L1338.8 1333.2L1340.0 1332.5L1341.2 1331.5L1342.4 1337.6L1343.6 1334.4L1344.8 1333.7L1346.0 1334.5L1347.2 1341.0L1348.4 1339.3L1349.6 1335.3L1350.8 1340.9L1352.0 1339.2L1353.2 1340.1L1354.4 1339.3L1355.6 1342.4L1356.8 1345.4L1358.0 1338.3L1359.2 1340.1L1360.4 1340.0L1361.6 1340.4L1362.8 1339.2L1364.0 1340.5L1365.2 1341.8L1366.4 1345.6L1367.6 1338.9L1368.8 1343.4L1370.0 1345.9L1371.2 1343.1L1372.4 1347.7L1373.6 1347.2L1374.8 1345.8L1376.0 1348.8L1377.2 1346.9L1378.4 1348.3L1379.6 1343.2L1380.8 1347.6L1382.0 1345.7L1383.2 1344.5L1384.4 1347.6L1385.6 1349.6L1386.8 1348.0L1388.0 1350.8L1389.2 1352.8L1390.4 1349.8L1391.6 1350.4L1392.8 1351.7L1394.0 1352.0L1395.2 1354.6L1396.4 1347.5L1397.6 1353.9L1398.8 1352.1L1400.0 1351.7L1401.2 1358.4L1402.4 1354.3L1403.6 1353.7L1404.8 1358.7L1406.0 1356.1L1407.2 1354.7L1408.4 1356.9L1409.6 1356.7L1410.8 1353.7L1412.0 1355.1L1413.2 1355.8L1414.4 1356.4L1415.6 1358.5L1416.8 1356.5L1418.0 1356.5L1419.2 1359.6L1420.4 1359.5L1421.6 1356.4L1422.8 1358.6L1424.0 1360.6L1425.2 1364.1L1426.4 1360.5L1427.6 1361.2L1428.8 1360.5L1430.0 1360.5L1431.2 1356.7L1432.4 1363.3L1433.6 1361.2L1434.8 1362.3L1436.0 1357.7L1437.2 1359.0L1438.4 1361.4L1439.6 1359.9L1440.8 1360.2L1442.0 1365.9L1443.2 1360.6L1444.4 1362.5L1445.6 1362.5L1446.8 1360.2L1448.0 1363.0L1449.2 1367.3L1450.4 1362.6L1451.6 1366.0L1452.8 1363.8L1454.0 1364.6L1455.2 1363.3L1456.4 1365.0L1457.6 1363.9L1458.8 1367.9L1460.0 1362.8L1461.2 1364.2L1462.4 1361.1L1463.6 1368.0L1464.8 1367.0L1466.0 1367.4L1467.2 1365.3L1468.4 1367.9L1469.6 1369.3L1470.8 1366.1L1472.0 1371.3L1473.2 1367.2L1474.4 1366.5L1475.6 1371.0L1476.8 1368.5L1478.0 1368.8L1479.2 1370.7L1480.4 1371.1L1481.6 1367.8L1482.8 1370.1L1484.0 1370.9L1485.2 1371.0L1486.4 1373.6L1487.6 1369.1L1488.8 1368.7L1490.0 1367.4L1491.2 1371.9L1492.4 1368.1L1493.6 1369.3L1494.8 1367.6L1496.0 1367.6L1497.2 1370.6L1498.4 1372.4L1499.6 1367.9L1500.8 1371.7L1502.0 1371.2L1503.2 1369.5L1504.4 1370.4L1505.6 1371.4L1506.8 1370.4L1508.0 1368.5L1509.2 1375.0L1510.4 1376.1L1511.6 1372.8L1512.8 1375.9L1514.0 1376.8L1515.2 1375.9L1516.4 1373.3L1517.6 1375.9L1518.8 1375.5L1520.0 1377.0L1521.2 1375.4L1522.4 1380.5L1523.6 1376.4L1524.8 1377.2L1526.0 1376.0L1527.2 1375.5L1528.4 1378.9L1529.6 1377.4L1530.8 1381.5L1532.0 1372.7L1533.2 1381.6L1534.4 1375.6L1535.6 1378.1L1536.8 1375.6L1538.0 1379.8L1539.2 1378.0L1540.4 1377.8L1541.6 1377.1L1542.8 1379.9L1544.0 1381.5L1545.2 1378.4L1546.4 1382.4L1547.6 1381.0L1548.8 1380.0L1550.0 1379.4L1551.2 1375.9L1552.4 1382.6L1553.6 1380.4L1554.8 1383.1L1556.0 1380.2L1557.2 1383.2L1558.4 1384.2L1559.6 1380.2L1560.8 1378.6L1562.0 1376.9L1563.2 1384.3L1564.4 1380.3L1565.6 1380.6L1566.8 1381.4L1568.0 1378.3L1569.2 1378.1L1570.4 1383.5L1571.6 1380.0L1572.8 1383.0L1574.0 1383.7L1575.2 1382.4L1576.4 1382.5L1577.6 1388.3L1578.8 1386.0L1580.0 1381.6L1581.2 1382.2L1582.4 1384.6L1583.6 1386.2L1584.8 1384.9L1586.0 1380.7L1587.2 1380.7L1588.4 1382.1L1589.6 1384.7L1590.8 1383.6L1592.0 1385.4L1593.2 1383.6L1594.4 1386.4L1595.6 1385.3L1596.8 1382.7L1598.0 1385.5L1599.2 1384.3L1600.4 1390.2L1601.6 1386.9L1602.8 1387.3L1604.0 1388.6L1605.2 1386.9L1606.4 1388.3L1607.6 1390.2L1608.8 1385.4L1610.0 1387.2L1611.2 1388.4L1612.4 1383.7L1613.6 1391.0L1614.8 1386.7L1616.0 1385.5L1617.2 1387.5L1618.4 1388.7L1619.6 1388.7L1620.8 1389.7L1622.0 1387.5L1623.2 1390.5L1624.4 1390.6L1625.6 1388.1L1626.8 1391.6L1628.0 1389.8L1629.2 1392.8L1630.4 1387.4L1631.6 1392.9L1632.8 1392.7L1634.0 1392.7L1635.2 1394.1L1636.4 1392.9L1637.6 1396.0L1638.8 1391.2L1640.0 1392.0L1641.2 1390.8L1642.4 1392.2L1643.6 1392.7L1644.8 1391.4L1646.0 1395.2L1647.2 1390.7L1648.4 1391.0L1649.6 1395.7L1650.8 1392.7L1652.0 1394.7L1653.2 1393.7L1654.4 1396.9L1655.6 1395.2L1656.8 1392.2L1658.0 1390.5L1659.2 1393.8L1660.4 1393.5L1661.6 1393.7L1662.8 1389.7L1664.0 1399.3L1665.2 1397.5L1666.4 1395.9L1667.6 1395.1L1668.8 1394.7L1670.0 1395.1L1671.2 1392.0L1672.4 1389.6L1673.6 1395.5L1674.8 1396.4L1676.0 1395.4L1677.2 1397.6L1678.4 1397.1L1679.6 1395.4L1680.8 1393.4L1682.0 1394.2L1683.2 1395.7L1684.4 1397.4L1685.6 1398.5L1686.8 1397.2L1688.0 1401.7L1689.2 1403.4L1690.4 1400.1L1691.6 1401.2L1692.8 1399.2L1694.0 1405.0L1695.2 1406.5L1696.4 1403.3L1697.6 1400.3L1698.8 1404.1L1700.0 1403.9L1701.2 1404.7L1702.4 1404.4L1703.6 1402.3L1704.8 1403.1L1706.0 1403.0L1707.2 1402.5L1708.4 1404.0L1709.6 1406.1L1710.8 1402.4L1712.0 1405.3L1713.2 1406.2L1714.4 1405.0L1715.6 1405.1L1716.8 1408.0L1718.0 1408.0L1719.2 1408.0L1720.4 1408.0L1721.6 1408.0L1722.8 1408.0L1724.0 1408.0L1725.2 1408.0L1726.4 1408.0L1727.6 1408.0L1728.8 1408.0L1730.0 1408.0L1731.2 1408.0L1732.4 1408.0L1733.6 1408.0L1734.8 1408.0L1736.0 1408.0L1737.2 1408.0L1738.4 1408.0L1739.6 1408.0L1740.8 1408.0L1742.0 1408.0L1743.2 1408.0L1744.4 1408.0L1745.6 1408.0L1746.8 1408.0L1748.0 1408.0L1749.2 1408.0L1750.4 1408.0L1751.6 1408.0L1752.8 1408.0L1754.0 1408.0L1755.2 1408.0L1756.4 1408.0L1757.6 1408.0L1758.8 1408.0L1760.0 1408.0L1761.2 1408.0L1762.4 1408.0L1763.6 1408.0L1764.8 1408.0L1766.0 1408.0L1767.2 1408.0L1768.4 1408.0L1769.6 1408.0L1770.8 1408.0L1772.0 1408.0L1773.2 1408.0L1774.4 1408.0L1775.6 1408.0L1776.8 1408.0L1778.0 1408.0L1779.2 1408.0L1780.4 1408.0L1781.6 1408.0L1782.8 1408.0L1784.0 1408.0L1785.2 1408.0L1786.4 1408.0L1787.6 1408.0L1788.8 1408.0L1790.0 1408.0L1791.2 1408.0L1792.4 1408.0L1793.6 1408.0L1794.8 1408.0L1796.0 1408.0L1797.2 1408.0L1798.4 1408.0L1799.6 1408.0L1800.8 1408.0L1802.0 1408.0L1803.2 1408.0L1804.4 1408.0L1805.6 1408.0L1806.8 1408.0L1808.0 1408.0L1809.2 1408.0L1810.4 1408.0L1811.6 1408.0L1812.8 1408.0L1814.0 1408.0L1815.2 1408.0L1816.4 1408.0L1817.6 1408.0L1818.8 1408.0L1820.0 1408.0L1821.2 1408.0L1822.4 1408.0L1823.6 1408.0L1824.8 1408.0L1826.0 1408.0L1827.2 1408.0L1828.4 1408.0L1829.6 1408.0L1830.8 1408.0L1832.0 1408.0L1833.2 1408.0L1834.4 1408.0L1835.6 1408.0L1836.8 1408.0L1838.0 1408.0L1839.2 1408.0L1840.4 1408.0L1841.6 1408.0L1842.8 1408.0L1844.0 1408.0L1845.2 1408.0L1846.4 1408.0L1847.6 1408.0L1848.8 1408.0L1850.0 1408.0L1851.2 1408.0L1852.4 1408.0L1853.6 1408.0L1854.8 1408.0L1856.0 1408.0L1857.2 1408.0L1858.4 1408.0L1859.6 1408.0L1860.8 1408.0L1862.0 1408.0L1863.2 1408.0L1864.4 1408.0L1865.6 1408.0L1866.8 1408.0L1868.0 1408.0L1869.2 1408.0L1870.4 1408.0L1871.6 1408.0L1872.8 1408.0L1874.0 1408.0L1875.2 1408.0L1876.4 1408.0L1877.6 1408.0L1878.8 1408.0L1880.0 1408.0L1881.2 1408.0L1882.4 1408.0L1883.6 1408.0L1884.8 1408.0L1886.0 1408.0L1887.2 1408.0L1888.4 1408.0L1889.6 1408.0L1890.8 1408.0L1892.0 1408.0L1893.2 1408.0L1894.4 1408.0L1895.6 1408.0L1896.8 1408.0L1898.0 1408.0L1899.2 1408.0L1900.4 1408.0L1901.6 1408.0L1902.8 1408.0L1904.0 1408.0L1905.2 1408.0L1906.4 1408.0L1907.6 1408.0L1908.8 1408.0L1910.0 1408.0L1911.2 1408.0L1912.4 1408.0L1913.6 1408.0L1914.8 1408.0L1916.0 1408.0L1917.2 1408.0L1918.4 1408.0L1919.6 1408.0L1920.8 1408.0L1922.0 1408.0L1923.2 1408.0L1924.4 1408.0L1925.6 1408.0L1926.8 1408.0L1928.0 1408.0L1929.2 1408.0L1930.4 1408.0L1931.6 1408.0L1932.8 1408.0L1934.0 1408.0L1935.2 1408.0L1936.4 1408.0L1937.6 1408.0L1938.8 1408.0L1940.0 1408.0L1941.2 1408.0L1942.4 1408.0L1943.6 1408.0L1944.8 1408.0L1946.0 1408.0L1947.2 1408.0L1948.4 1408.0L1949.6 1408.0L1950.8 1408.0L1952.0 1408.0L1953.2 1408.0L1954.4 1408.0L1955.6 1408.0L1956.8 1408.0L1958.0 1408.0L1959.2 1408.0L1960.4 1408.0L1961.6 1408.0L1962.8 1408.0L1964.0 1408.0L1965.2 1408.0L1966.4 1408.0L1967.6 1408.0L1968.8 1408.0L1970.0 1408.0L1971.2 1408.0L1972.4 1408.0L1973.6 1408.0L1974.8 1408.0L1976.0 1408.0L1977.2 1408.0L1978.4 1408.0L1979.6 1408.0L1980.8 1408.0L1982.0 1408.0L1983.2 1408.0L1984.4 1408.0L1985.6 1408.0L1986.8 1408.0L1988.0 1408.0L1989.2 1408.0L1990.4 1408.0L1991.6 1408.0L1992.8 1408.0L1994.0 1408.0L1995.2 1408.0L1996.4 1408.0L1997.6 1408.0L1998.8 1408.0L2000.0 1408.0L2001.2 1408.0L2002.4 1408.0L2003.6 1408.0L2004.8 1408.0L2006.0 1408.0L2007.2 1408.0L2008.4 1408.0L2009.6 1408.0L2010.8 1408.0L2012.0 1408.0L2013.2 1408.0L2014.4 1408.0L2015.6 1408.0L2016.8 1408.0L2018.0 1408.0L2019.2 1408.0L2020.4 1408.0L2021.6 1408.0L2022.8 1408.0L2024.0 1408.0L2025.2 1408.0L2026.4 1408.0L2027.6 1408.0L2028.8 1408.0L2030.0 1408.0L2031.2 1408.0L2032.4 1408.0L2033.6 1408.0L2034.8 1408.0L2036.0 1408.0L2037.2 1408.0L2038.4 1408.0L2039.6 1408.0L2040.8 1408.0L2042.0 1408.0L2043.2 1408.0L2044.4 1408.0L2045.6 1408.0L2046.8 1408.0L2048.0 1408.0L2049.2 1408.0L2050.4 1408.0L2051.6 1408.0L2052.8 1408.0L2054.0 1408.0L2055.2 1408.0L2056.4 1408.0L2057.6 1408.0L2058.8 1408.0L2060.0 1408.0L2061.2 1408.0L2062.4 1408.0L2063.6 1408.0L2064.8 1408.0L2066.0 1408.0L2067.2 1408.0L2068.4 1408.0L2069.6 1408.0L2070.8 1408.0L2072.0 1408.0L2073.2 1408.0L2074.4 1408.0L2075.6 1408.0L2076.8 1408.0L2078.0 1408.0L2079.2 1408.0L2080.4 1408.0L2081.6 1408.0L2082.8 1408.0L2084.0 1408.0L2085.2 1408.0L2086.4 1408.0L2087.6 1408.0L2088.8 1408.0L2090.0 1408.0L2091.2 1408.0L2092.4 1408.0L2093.6 1408.0L2094.8 1408.0L2096.0 1408.0L2097.2 1408.0L2098.4 1408.0L2099.6 1408.0L2100.8 1408.0L2102.0 1408.0L2103.2 1408.0L2104.4 1408.0L2105.6 1408.0L2106.8 1408.0L2108.0 1408.0L2109.2 1408.0L2110.4 1408.0L2111.6 1408.0L2112.8 1408.0L2114.0 1408.0L2115.2 1408.0L2116.4 1408.0L2117.6 1408.0L2118.8 1408.0L2120.0 1408.0L2121.2 1408.0L2122.4 1408.0L2123.6 1408.0L2124.8 1408.0L2126.0 1408.0L2127.2 1408.0L2128.4 1408.0L2129.6 1408.0L2130.8 1408.0L2132.0 1408.0L2133.2 1408.0L2134.4 1408.0L2135.6 1408.0L2136.8 1408.0L2138.0 1408.0L2139.2 1408.0L2140.4 1408.0L2141.6 1408.0L2142.8 1408.0L2144.0 1408.0L2145.2 1408.0L2146.4 1408.0L2147.6 1408.0L2148.8 1408.0L2150.0 1408.0L2151.2 1408.0L2152.4 1408.0L2153.6 1408.0L2154.8 1408.0L2156.0 1408.0L2157.2 1408.0L2158.4 1408.0L2159.6 1408.0L2160.8 1408.0L2162.0 1408.0L2163.2 1408.0L2164.4 1408.0L2165.6 1408.0L2166.8 1408.0L2168.0 1408.0L2169.2 1408.0L2170.4 1408.0L2171.6 1408.0L2172.8 1408.0L2174.0 1408.0L2175.2 1408.0L2176.4 1408.0L2177.6 1408.0L2178.8 1408.0L2180.0 1408.0L2181.2 1408.0L2182.4 1408.0L2183.6 1408.0L2184.8 1408.0L2186.0 1408.0L2187.2 1408.0L2188.4 1408.0L2189.6 1408.0L2190.8 1408.0L2192.0 1408.0L2193.2 1408.0L2194.4 1408.0L2195.6 1408.0L2196.8 1408.0L2198.0 1408.0L2199.2 1408.0L2200.4 1408.0L2201.6 1408.0L2202.8 1408.0L2204.0 1408.0L2205.2 1408.0L2206.4 1408.0L2207.6 1408.0L2208.8 1408.0L2210.0 1408.0L2211.2 1408.0L2212.4 1408.0L2213.6 1408.0L2214.8 1408.0L2216.0 1408.0L2217.2 1408.0L2218.4 1408.0L2219.6 1408.0L2220.8 1408.0L2222.0 1408.0L2223.2 1408.0L2224.4 1408.0L2225.6 1408.0L2226.8 1408.0L2228.0 1408.0L2229.2 1408.0L2230.4 1408.0L2231.6 1408.0L2232.8 1408.0"/>
</g>
<g class="c" stroke="#000">
<path stroke-width="7.6" d="M1561.3 117H1581.7M1609.6 117H1629.2"/>
<path stroke-width="7.6" d="M1561.3 207.3H1608.8M1636.2 207.3h0.01"/>
<path stroke="#686868" stroke-width="7.2" stroke-dasharray="0.01 13.78" d="M1561.2 297.7H1644.5"/>
<path stroke-width="5.8" d="M1561.7 387H1650.4"/>
</g>
</g>
<g id="legtxt" filter="url(#tblur)">
<g class="leg">
<text x="1662.6" y="135.6" textLength="235.5" lengthAdjust="spacingAndGlyphs">Virgin PC</text>
<text x="1662.7" y="226.2" textLength="600" lengthAdjust="spacingAndGlyphs">Epoxy/ Silicone coating</text>
<text x="1660.5" y="315.6" textLength="409" lengthAdjust="spacingAndGlyphs">Silicone coating</text>
<text x="1661" y="406.2" textLength="363.5" lengthAdjust="spacingAndGlyphs">Epoxy coating</text>
</g>
</g>
<defs><clipPath id="plot"><rect x="243.7" y="49.2" width="2110.8" height="1360.5"/></clipPath></defs>
<defs><filter id="soft" x="0" y="0" width="2427" height="1615" filterUnits="userSpaceOnUse" color-interpolation-filters="sRGB"><feGaussianBlur in="SourceGraphic" stdDeviation="0.9" result="pre"/><feFlood x="1" y="1" width="1" height="1" flood-color="#000" result="px"/><feComposite in="px" in2="px" operator="over" x="0" y="0" width="3" height="3" result="cell"/><feTile in="cell" x="0" y="0" width="2427" height="1615" result="grid"/><feComposite in="pre" in2="grid" operator="in" result="samp"/><feMorphology in="samp" operator="dilate" radius="1" result="blocks"/><feGaussianBlur in="blocks" stdDeviation="1.0"/></filter><filter id="blur" x="0" y="0" width="2427" height="1615" filterUnits="userSpaceOnUse" color-interpolation-filters="sRGB"><feGaussianBlur stdDeviation="0.9"/></filter><filter id="tblur" x="0" y="0" width="2427" height="1615" filterUnits="userSpaceOnUse" color-interpolation-filters="sRGB"><feGaussianBlur stdDeviation="1.05"/></filter></defs>
</svg>
</body>
</html>
